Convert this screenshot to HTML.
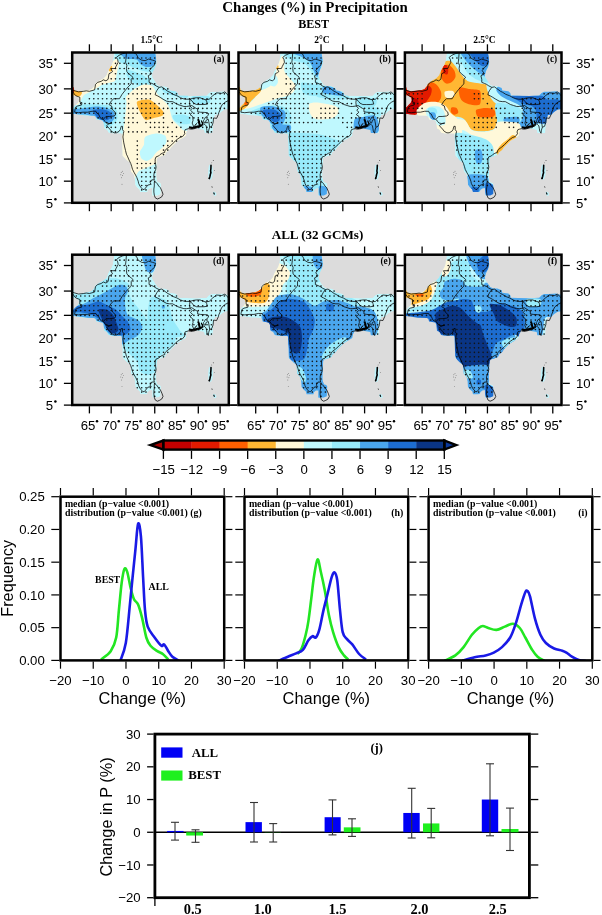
<!DOCTYPE html>
<html><head><meta charset="utf-8"><style>html,body{margin:0;padding:0;background:#fff;width:602px;height:915px;overflow:hidden}svg{display:block;will-change:transform}</style></head>
<body><svg width="602" height="915" viewBox="0 0 602 915">
<rect width="602" height="915" fill="#fff"/>
<text x="315.10" y="11.60" font-size="14.9" font-family="Liberation Serif, serif" font-weight="bold" text-anchor="middle" >Changes (%) in Precipitation</text>
<text x="313.60" y="28.20" font-size="12.1" font-family="Liberation Serif, serif" font-weight="bold" text-anchor="middle" >BEST</text>
<text x="140.40" y="43.00" font-size="9.5" font-family="Liberation Serif, serif" font-weight="bold" text-anchor="start" >1.5°C</text>
<text x="314.30" y="43.00" font-size="9.5" font-family="Liberation Serif, serif" font-weight="bold" text-anchor="start" >2°C</text>
<text x="473.20" y="42.80" font-size="9.5" font-family="Liberation Serif, serif" font-weight="bold" text-anchor="start" >2.5°C</text>
<text x="317.50" y="238.90" font-size="13.1" font-family="Liberation Serif, serif" font-weight="bold" text-anchor="middle" >ALL (32 GCMs)</text>
<g transform="translate(0,0)">
<clipPath id="clip0"><rect x="72.2" y="52.5" width="156.60000000000002" height="150.3"/></clipPath>
<rect x="72.20" y="52.50" width="156.60" height="150.30" fill="#dcdcdc" stroke="none" stroke-width="0" />
<clipPath id="mask0"><polygon points="113.90,47.80 155.40,47.80 155.40,54.10 155.90,57.20 156.50,62.60 155.40,66.80 153.30,71.10 152.20,75.30 152.70,77.40 155.40,81.70 157.50,84.90 160.70,86.20 164.70,86.20 169.00,88.10 169.60,90.50 175.70,91.20 177.60,93.00 178.20,95.50 185.60,95.80 196.60,96.10 206.50,95.50 208.90,93.00 211.40,91.80 216.30,91.80 223.70,91.20 226.10,92.40 233.30,92.40 233.30,108.40 224.90,109.60 221.20,112.10 218.80,114.50 215.10,115.10 213.80,119.40 213.20,125.60 212.60,133.00 204.60,133.00 204.00,129.90 194.20,128.00 189.30,128.00 188.50,127.50 187.70,130.00 186.40,132.40 186.00,135.80 183.50,137.40 177.70,140.80 176.00,142.40 173.50,144.90 171.00,147.40 169.40,149.90 166.10,152.40 165.20,154.90 161.90,156.10 157.80,157.40 156.90,159.00 156.50,165.70 156.20,175.80 156.50,178.80 157.50,182.10 159.90,182.70 160.90,184.10 160.50,194.00 157.50,195.40 152.20,195.40 152.20,188.00 149.60,188.40 147.60,190.00 147.20,192.00 140.30,192.00 139.60,189.40 137.30,187.40 135.30,184.70 134.90,179.40 133.90,174.80 131.00,171.40 130.60,166.80 130.30,162.80 127.20,160.40 122.50,155.70 122.20,145.20 121.80,135.20 121.40,133.50 112.20,133.50 108.50,132.70 106.80,129.80 104.30,128.60 103.50,121.90 102.30,120.30 96.40,119.40 95.60,116.50 93.90,115.70 85.10,115.60 78.90,114.50 73.50,113.70 66.30,113.70 66.30,107.50 73.60,107.50 74.60,106.40 75.90,105.00 78.10,102.80 79.10,100.30 78.60,97.80 76.10,96.10 73.60,95.20 66.30,95.20 66.30,87.00 73.50,87.00 74.40,90.00 77.40,91.20 82.80,90.80 88.90,90.00 91.90,88.90 94.20,86.20 95.70,83.10 98.00,81.60 100.30,80.10 103.40,78.60 106.50,75.30 108.10,71.10 109.70,68.40 111.80,64.70 112.90,61.50 113.40,57.20 113.90,54.10"/></clipPath>
<g clip-path="url(#clip0)">
<g clip-path="url(#mask0)">
<polygon points="113.90,47.80 155.40,47.80 155.40,54.10 155.90,57.20 156.50,62.60 155.40,66.80 153.30,71.10 152.20,75.30 152.70,77.40 155.40,81.70 157.50,84.90 160.70,86.20 164.70,86.20 169.00,88.10 169.60,90.50 175.70,91.20 177.60,93.00 178.20,95.50 185.60,95.80 196.60,96.10 206.50,95.50 208.90,93.00 211.40,91.80 216.30,91.80 223.70,91.20 226.10,92.40 233.30,92.40 233.30,108.40 224.90,109.60 221.20,112.10 218.80,114.50 215.10,115.10 213.80,119.40 213.20,125.60 212.60,133.00 204.60,133.00 204.00,129.90 194.20,128.00 189.30,128.00 188.50,127.50 187.70,130.00 186.40,132.40 186.00,135.80 183.50,137.40 177.70,140.80 176.00,142.40 173.50,144.90 171.00,147.40 169.40,149.90 166.10,152.40 165.20,154.90 161.90,156.10 157.80,157.40 156.90,159.00 156.50,165.70 156.20,175.80 156.50,178.80 157.50,182.10 159.90,182.70 160.90,184.10 160.50,194.00 157.50,195.40 152.20,195.40 152.20,188.00 149.60,188.40 147.60,190.00 147.20,192.00 140.30,192.00 139.60,189.40 137.30,187.40 135.30,184.70 134.90,179.40 133.90,174.80 131.00,171.40 130.60,166.80 130.30,162.80 127.20,160.40 122.50,155.70 122.20,145.20 121.80,135.20 121.40,133.50 112.20,133.50 108.50,132.70 106.80,129.80 104.30,128.60 103.50,121.90 102.30,120.30 96.40,119.40 95.60,116.50 93.90,115.70 85.10,115.60 78.90,114.50 73.50,113.70 66.30,113.70 66.30,107.50 73.60,107.50 74.60,106.40 75.90,105.00 78.10,102.80 79.10,100.30 78.60,97.80 76.10,96.10 73.60,95.20 66.30,95.20 66.30,87.00 73.50,87.00 74.40,90.00 77.40,91.20 82.80,90.80 88.90,90.00 91.90,88.90 94.20,86.20 95.70,83.10 98.00,81.60 100.30,80.10 103.40,78.60 106.50,75.30 108.10,71.10 109.70,68.40 111.80,64.70 112.90,61.50 113.40,57.20 113.90,54.10" fill="#bff8fe"/>
<path d="M115.90,59.00 C117.10,58.73 118.77,61.15 118.90,63.00 C119.03,64.85 117.43,70.51 116.90,72.90 C116.37,75.29 116.10,79.57 114.90,80.90 C113.70,82.23 109.63,82.37 107.90,82.90 C106.17,83.43 103.37,84.23 101.90,84.90 C100.43,85.57 98.50,86.97 96.90,87.90 C95.30,88.83 91.62,90.97 89.90,91.90 C88.18,92.83 85.19,93.83 84.00,94.90 C82.81,95.97 81.80,98.58 81.00,99.90 C80.20,101.22 79.47,104.15 78.00,104.80 C76.53,105.45 71.07,106.65 70.00,104.80 C68.93,102.95 68.40,92.89 70.00,90.90 C71.60,88.91 79.08,90.57 82.00,89.90 C84.92,89.23 89.91,87.10 91.90,85.90 C93.89,84.70 95.17,82.10 96.90,80.90 C98.63,79.70 103.43,78.23 104.90,76.90 C106.37,75.57 107.23,72.49 107.90,70.90 C108.57,69.31 108.83,66.59 109.90,65.00 C110.97,63.41 114.70,59.27 115.90,59.00Z" fill="#fff8d9"/>
<path d="M118.00,52.00 C123.73,51.20 154.40,49.87 160.00,52.00 C165.60,54.13 161.33,65.33 160.00,68.00 C158.67,70.67 152.67,71.73 150.00,72.00 C147.33,72.27 142.67,70.80 140.00,70.00 C137.33,69.20 132.40,66.93 130.00,66.00 C127.60,65.07 123.73,64.07 122.00,63.00 C120.27,61.93 117.53,59.47 117.00,58.00 C116.47,56.53 112.27,52.80 118.00,52.00Z" fill="#98ebfb"/>
<path d="M122.00,52.00 C126.29,51.33 150.99,50.80 155.50,52.00 C160.01,53.20 156.20,59.09 155.80,61.00 C155.40,62.91 153.82,65.50 152.50,66.30 C151.18,67.10 147.49,67.27 145.90,67.00 C144.31,66.73 141.84,65.29 140.60,64.30 C139.36,63.31 138.37,60.31 136.60,59.60 C134.83,58.89 129.07,59.35 127.30,59.00 C125.53,58.65 124.01,57.93 123.30,57.00 C122.59,56.07 117.71,52.67 122.00,52.00Z" fill="#4aa6ee"/>
<path d="M128.00,70.00 C129.73,69.73 137.07,72.67 140.00,74.00 C142.93,75.33 148.93,78.40 150.00,80.00 C151.07,81.60 149.33,85.20 148.00,86.00 C146.67,86.80 142.13,86.53 140.00,86.00 C137.87,85.47 133.73,83.33 132.00,82.00 C130.27,80.67 127.53,77.60 127.00,76.00 C126.47,74.40 126.27,70.27 128.00,70.00Z" fill="#98ebfb"/>
<path d="M126.00,96.90 C126.45,95.51 128.49,94.14 129.90,92.90 C131.31,91.66 134.64,88.76 136.60,87.60 C138.56,86.44 142.48,84.39 144.60,84.20 C146.72,84.01 150.90,85.04 152.50,86.20 C154.10,87.36 155.33,91.19 156.60,92.90 C157.87,94.61 160.40,97.23 162.00,99.00 C163.60,100.77 167.19,103.48 168.60,106.20 C170.01,108.92 171.35,116.89 172.60,119.40 C173.85,121.91 176.61,123.59 178.00,125.00 C179.39,126.41 181.13,128.80 183.00,130.00 C184.87,131.20 191.07,131.33 192.00,134.00 C192.93,136.67 192.93,144.53 190.00,150.00 C187.07,155.47 174.00,168.60 170.00,175.00 C166.00,181.40 165.33,194.93 160.00,198.00 C154.67,201.07 136.00,204.40 130.00,198.00 C124.00,191.60 116.00,158.55 115.00,150.00 C114.00,141.45 121.33,136.94 122.50,133.90 C123.67,130.86 123.44,129.51 123.80,127.20 C124.16,124.89 124.84,119.79 125.20,116.60 C125.56,113.41 126.39,105.93 126.50,103.30 C126.61,100.67 125.55,98.29 126.00,96.90Z" fill="#fff8d9"/>
<path d="M137.20,101.50 C138.52,100.26 146.10,99.23 148.50,99.50 C150.90,99.77 153.24,101.90 155.20,103.50 C157.16,105.10 162.23,109.90 163.20,111.50 C164.17,113.10 163.74,114.62 162.50,115.50 C161.26,116.38 156.11,117.49 153.90,118.10 C151.69,118.71 147.50,120.45 145.90,120.10 C144.30,119.75 142.87,117.01 141.90,115.50 C140.93,113.99 139.23,110.67 138.60,108.80 C137.97,106.93 135.88,102.74 137.20,101.50Z" fill="#ffb733"/>
<path d="M145.20,137.00 C146.79,135.49 153.15,133.79 155.80,133.60 C158.45,133.41 163.69,134.44 165.10,135.60 C166.51,136.76 166.75,140.70 166.40,142.30 C166.05,143.90 163.91,146.19 162.50,147.60 C161.09,149.01 157.23,151.49 155.80,152.90 C154.37,154.31 153.04,157.13 151.80,158.20 C150.56,159.27 147.91,160.90 146.50,160.90 C145.09,160.90 142.08,159.44 141.20,158.20 C140.32,156.96 139.54,153.37 139.90,151.60 C140.26,149.83 143.19,146.85 143.90,144.90 C144.61,142.95 143.61,138.51 145.20,137.00Z" fill="#bff8fe"/>
<path d="M138.50,171.50 C139.82,169.91 141.94,169.78 143.90,168.90 C145.86,168.02 151.32,165.29 153.20,164.90 C155.08,164.51 157.09,161.99 158.00,166.00 C158.91,170.01 163.47,191.13 160.00,195.00 C156.53,198.87 135.47,196.89 132.00,195.00 C128.53,193.11 133.13,183.93 134.00,180.80 C134.87,177.67 137.18,173.09 138.50,171.50Z" fill="#bff8fe"/>
<path d="M162.00,88.00 C163.33,87.73 171.53,90.07 175.00,91.00 C178.47,91.93 186.53,94.07 188.00,95.00 C189.47,95.93 187.73,97.87 186.00,98.00 C184.27,98.13 177.80,96.67 175.00,96.00 C172.20,95.33 166.73,94.07 165.00,93.00 C163.27,91.93 160.67,88.27 162.00,88.00Z" fill="#98ebfb"/>
<path d="M192.60,96.30 C194.76,95.37 206.64,95.37 208.80,96.30 C210.96,97.23 210.96,102.37 208.80,103.30 C206.64,104.23 194.76,104.23 192.60,103.30 C190.44,102.37 190.44,97.23 192.60,96.30Z" fill="#98ebfb"/>
<path d="M172.60,115.50 C173.53,114.63 179.68,114.30 182.00,114.50 C184.32,114.70 188.95,115.81 190.00,117.00 C191.05,118.19 190.97,122.47 189.90,123.40 C188.83,124.33 183.99,124.32 182.00,124.00 C180.01,123.68 176.25,122.13 175.00,121.00 C173.75,119.87 171.67,116.37 172.60,115.50Z" fill="#98ebfb"/>
<path d="M70.00,106.60 C72.04,105.07 81.49,104.69 85.30,104.40 C89.11,104.11 95.32,104.23 98.60,104.40 C101.88,104.57 107.51,104.97 109.90,105.70 C112.29,106.43 115.53,108.10 116.50,109.90 C117.47,111.70 117.73,117.21 117.20,119.20 C116.67,121.19 113.83,123.64 112.50,124.80 C111.17,125.96 108.35,127.75 107.20,127.90 C106.05,128.05 105.05,126.79 103.90,125.90 C102.75,125.01 101.08,122.44 98.60,121.20 C96.12,119.96 89.11,117.31 85.30,116.60 C81.49,115.89 72.04,117.23 70.00,115.90 C67.96,114.57 67.96,108.13 70.00,106.60Z" fill="#98ebfb"/>
<path d="M70.00,109.90 C72.04,109.01 81.85,108.34 85.30,107.90 C88.75,107.46 93.06,106.60 95.90,106.60 C98.74,106.60 104.20,107.19 106.60,107.90 C109.00,108.61 112.85,110.57 113.90,111.90 C114.95,113.23 114.95,116.47 114.50,117.90 C114.05,119.33 111.74,121.97 110.50,122.60 C109.26,123.23 106.61,122.96 105.20,122.60 C103.79,122.24 101.31,120.62 99.90,119.90 C98.49,119.18 96.55,117.91 94.60,117.20 C92.65,116.49 88.58,114.95 85.30,114.60 C82.02,114.25 72.04,115.23 70.00,114.60 C67.96,113.97 67.96,110.79 70.00,109.90Z" fill="#4aa6ee"/>
<path d="M93.30,109.90 C94.37,109.29 100.39,109.03 102.60,109.30 C104.81,109.57 108.66,111.02 109.90,111.90 C111.14,112.78 112.17,114.83 111.90,115.90 C111.63,116.97 109.14,119.37 107.90,119.90 C106.66,120.43 103.93,120.17 102.60,119.90 C101.27,119.63 98.97,118.70 97.90,117.90 C96.83,117.10 95.21,114.97 94.60,113.90 C93.99,112.83 92.23,110.51 93.30,109.90Z" fill="#1d6dd0"/>
<path d="M108.90,66.00 C109.30,65.33 111.50,65.33 111.90,66.00 C112.30,66.67 112.30,70.33 111.90,71.00 C111.50,71.67 109.30,71.67 108.90,71.00 C108.50,70.33 108.50,66.67 108.90,66.00Z" fill="#ffb733"/>
<path d="M72.00,90.00 C72.80,89.47 76.67,90.67 78.00,91.00 C79.33,91.33 81.73,91.83 82.00,92.50 C82.27,93.17 80.93,95.53 80.00,96.00 C79.07,96.47 76.07,96.13 75.00,96.00 C73.93,95.87 72.40,95.80 72.00,95.00 C71.60,94.20 71.20,90.53 72.00,90.00Z" fill="#ffb733"/>
<path d="M71.00,86.50 C71.40,85.83 73.60,86.27 74.00,87.00 C74.40,87.73 74.40,91.33 74.00,92.00 C73.60,92.67 71.40,92.73 71.00,92.00 C70.60,91.27 70.60,87.17 71.00,86.50Z" fill="#e31a00"/>
</g>
<path d="M76.3,113.2h0M76.3,108.4h0M80.7,113.2h0M80.7,108.4h0M80.7,103.6h0M85.0,113.2h0M85.0,108.4h0M85.0,103.6h0M89.4,113.2h0M89.4,108.4h0M89.4,103.6h0M89.4,98.7h0M93.8,113.2h0M93.8,108.4h0M93.8,103.6h0M93.8,98.7h0M93.8,93.8h0M98.1,117.9h0M98.1,113.2h0M98.1,108.4h0M98.1,103.6h0M98.1,98.7h0M98.1,93.8h0M98.1,88.9h0M102.5,117.9h0M102.5,113.2h0M102.5,108.4h0M102.5,103.6h0M102.5,98.7h0M102.5,93.8h0M102.5,88.9h0M102.5,83.9h0M106.8,127.3h0M106.8,122.6h0M106.8,117.9h0M106.8,113.2h0M106.8,108.4h0M106.8,103.6h0M106.8,98.7h0M106.8,93.8h0M106.8,88.9h0M106.8,83.9h0M111.2,131.9h0M111.2,127.3h0M111.2,122.6h0M111.2,117.9h0M111.2,113.2h0M111.2,108.4h0M111.2,103.6h0M111.2,98.7h0M111.2,93.8h0M111.2,88.9h0M111.2,83.9h0M111.2,78.8h0M115.5,131.9h0M115.5,127.3h0M115.5,122.6h0M115.5,117.9h0M115.5,113.2h0M115.5,108.4h0M115.5,103.6h0M115.5,98.7h0M115.5,93.8h0M115.5,88.9h0M115.5,83.9h0M115.5,78.8h0M115.5,73.7h0M115.5,68.5h0M115.5,63.3h0M115.5,58.0h0M119.9,122.6h0M119.9,113.2h0M119.9,108.4h0M119.9,103.6h0M119.9,88.9h0M119.9,83.9h0M119.9,78.8h0M119.9,73.7h0M119.9,68.5h0M119.9,63.3h0M119.9,58.0h0M124.2,122.6h0M124.2,117.9h0M124.2,113.2h0M124.2,108.4h0M124.2,103.6h0M124.2,98.7h0M124.2,88.9h0M124.2,83.9h0M124.2,78.8h0M124.2,73.7h0M124.2,68.5h0M124.2,63.3h0M124.2,58.0h0M128.6,131.9h0M128.6,127.3h0M128.6,122.6h0M128.6,117.9h0M128.6,113.2h0M128.6,108.4h0M128.6,103.6h0M128.6,98.7h0M128.6,93.8h0M128.6,88.9h0M128.6,83.9h0M128.6,78.8h0M128.6,73.7h0M128.6,68.5h0M128.6,63.3h0M128.6,58.0h0M133.0,131.9h0M133.0,122.6h0M133.0,117.9h0M133.0,113.2h0M133.0,108.4h0M133.0,93.8h0M133.0,88.9h0M133.0,83.9h0M133.0,78.8h0M133.0,73.7h0M133.0,68.5h0M133.0,63.3h0M133.0,58.0h0M137.3,168.0h0M137.3,163.5h0M137.3,159.1h0M137.3,154.6h0M137.3,150.1h0M137.3,145.6h0M137.3,141.1h0M137.3,131.9h0M137.3,122.6h0M137.3,113.2h0M137.3,108.4h0M137.3,98.7h0M137.3,93.8h0M137.3,88.9h0M137.3,83.9h0M137.3,78.8h0M137.3,73.7h0M137.3,68.5h0M137.3,63.3h0M137.3,58.0h0M141.7,189.9h0M141.7,185.5h0M141.7,181.2h0M141.7,176.8h0M141.7,172.4h0M141.7,168.0h0M141.7,163.5h0M141.7,131.9h0M141.7,113.2h0M141.7,108.4h0M141.7,103.6h0M141.7,98.7h0M141.7,93.8h0M141.7,88.9h0M141.7,83.9h0M141.7,78.8h0M141.7,73.7h0M141.7,68.5h0M141.7,63.3h0M141.7,58.0h0M146.0,189.9h0M146.0,185.5h0M146.0,181.2h0M146.0,176.8h0M146.0,172.4h0M146.0,168.0h0M146.0,163.5h0M146.0,131.9h0M146.0,122.6h0M146.0,117.9h0M146.0,113.2h0M146.0,108.4h0M146.0,103.6h0M146.0,98.7h0M146.0,93.8h0M146.0,88.9h0M146.0,83.9h0M146.0,78.8h0M146.0,73.7h0M146.0,68.5h0M146.0,63.3h0M146.0,58.0h0M150.4,181.2h0M150.4,176.8h0M150.4,172.4h0M150.4,168.0h0M150.4,163.5h0M150.4,127.3h0M150.4,122.6h0M150.4,117.9h0M150.4,113.2h0M150.4,108.4h0M150.4,103.6h0M150.4,98.7h0M150.4,93.8h0M150.4,88.9h0M150.4,83.9h0M150.4,78.8h0M150.4,73.7h0M150.4,68.5h0M150.4,63.3h0M150.4,58.0h0M154.7,181.2h0M154.7,176.8h0M154.7,172.4h0M154.7,168.0h0M154.7,163.5h0M154.7,127.3h0M154.7,122.6h0M154.7,113.2h0M154.7,108.4h0M154.7,103.6h0M154.7,83.9h0M154.7,63.3h0M154.7,58.0h0M159.1,131.9h0M159.1,127.3h0M159.1,122.6h0M159.1,113.2h0M159.1,108.4h0M159.1,103.6h0M163.5,154.6h0M163.5,150.1h0M163.5,145.6h0M163.5,131.9h0M163.5,127.3h0M163.5,122.6h0M163.5,117.9h0M163.5,113.2h0M163.5,108.4h0M163.5,93.8h0M163.5,88.9h0M167.8,150.1h0M167.8,145.6h0M167.8,141.1h0M167.8,131.9h0M167.8,127.3h0M167.8,108.4h0M167.8,103.6h0M167.8,98.7h0M167.8,93.8h0M167.8,88.9h0M172.2,141.1h0M172.2,136.5h0M172.2,131.9h0M172.2,122.6h0M172.2,108.4h0M172.2,103.6h0M172.2,98.7h0M172.2,93.8h0M176.5,141.1h0M176.5,136.5h0M176.5,127.3h0M176.5,113.2h0M176.5,108.4h0M176.5,103.6h0M176.5,98.7h0M176.5,93.8h0M180.9,136.5h0M180.9,127.3h0M180.9,122.6h0M180.9,113.2h0M180.9,108.4h0M180.9,103.6h0M180.9,98.7h0M185.2,113.2h0M185.2,108.4h0M185.2,103.6h0M185.2,98.7h0M189.6,117.9h0M189.6,113.2h0M189.6,108.4h0M189.6,103.6h0M189.6,98.7h0M193.9,117.9h0M193.9,113.2h0M193.9,108.4h0M193.9,103.6h0M193.9,98.7h0M198.3,127.3h0M198.3,122.6h0M198.3,117.9h0M198.3,113.2h0M198.3,108.4h0M198.3,103.6h0M198.3,98.7h0M202.7,127.3h0M202.7,122.6h0M202.7,117.9h0M202.7,113.2h0M202.7,108.4h0M202.7,103.6h0M202.7,98.7h0M207.0,131.9h0M207.0,127.3h0M207.0,122.6h0M207.0,117.9h0M207.0,113.2h0M207.0,108.4h0M207.0,103.6h0M207.0,98.7h0M211.4,131.9h0M211.4,127.3h0M211.4,122.6h0M211.4,117.9h0M211.4,113.2h0M211.4,108.4h0M211.4,103.6h0M211.4,98.7h0M211.4,93.8h0M215.7,113.2h0M215.7,108.4h0M215.7,103.6h0M215.7,98.7h0M215.7,93.8h0M220.1,108.4h0M220.1,103.6h0M220.1,98.7h0M220.1,93.8h0M224.4,108.4h0M224.4,103.6h0M224.4,98.7h0M224.4,93.8h0" stroke="#151515" stroke-width="1.65" stroke-linecap="round" fill="none"/>
<polyline points="74.59,112.21 78.51,112.69 82.87,112.21 87.66,112.21 92.01,111.26 95.93,111.26 96.81,113.16 98.55,114.11 99.42,116.01 100.29,117.90 101.60,118.84 102.90,119.31 103.77,119.78 105.08,121.66 106.39,123.07 109.00,123.53 112.05,123.07 109.87,123.53 107.70,124.47 106.82,125.40 107.70,126.80 109.87,129.12 111.62,131.43 114.23,132.82 116.41,132.82 119.02,131.43 120.33,129.58 121.20,126.33 122.51,126.33 122.51,129.58 123.81,131.43 123.38,133.74 122.94,136.95 123.38,140.15 123.81,142.89 124.68,146.97 125.55,150.58 126.43,154.18 127.73,156.86 129.04,159.99 130.78,163.55 131.65,166.21 132.52,169.30 134.27,172.83 135.57,175.03 136.88,177.67 138.19,181.17 138.62,183.36 139.93,185.98 141.24,187.72 142.98,189.46 144.29,189.46 146.46,186.85 147.77,185.11 151.26,184.23 149.95,182.92 151.69,179.86 154.30,179.86 153.87,177.23 153.87,174.59 154.30,172.39 155.61,169.75 156.05,167.09 155.61,164.43 155.18,161.77 155.18,159.10 156.05,156.86 158.66,155.97 159.97,154.62 162.15,153.28 164.76,152.38 164.76,151.03 166.07,149.23 169.11,146.97 171.73,144.70 173.47,142.89 175.65,140.61 177.39,139.24 180.00,137.41 182.62,136.50 184.80,133.74 184.36,131.89 185.23,129.58 186.97,129.12 188.72,128.66 190.46,129.12 192.20,129.12 194.38,128.66 197.43,127.73 199.61,127.73 200.91,125.87 202.66,123.53 204.83,124.47 206.14,125.87 206.58,128.19 207.01,130.97 208.32,133.28" fill="none" stroke="#000" stroke-width="0.75" stroke-linejoin="round"/>
<polyline points="74.59,112.21 75.46,107.43 77.64,105.99 81.56,105.02 81.99,102.61 79.82,102.12 79.82,97.25 75.90,95.78 74.15,93.81 71.54,89.86 78.51,91.84 83.30,91.34 86.35,90.85 89.40,91.34 94.63,89.86 95.50,84.36 97.68,82.35 101.16,81.34 103.34,79.82 105.95,80.83 108.13,79.31 109.00,73.70 111.18,72.67 112.49,71.64 110.74,68.53 115.10,68.53 115.97,66.44 118.15,62.25 117.71,59.60 116.41,57.47 119.02,55.33 122.51,53.72 126.43,52.65 130.78,52.11 133.83,52.65" fill="none" stroke="#000" stroke-width="0.75" stroke-linejoin="round"/>
<polyline points="133.83,52.65 136.44,54.26 138.19,58.01 141.67,60.13 145.16,60.66 148.64,59.07 152.56,60.13 155.61,61.19 154.30,65.40 151.69,67.49 149.51,70.60 151.69,73.70 148.21,75.75 149.08,79.31 149.08,82.35 151.69,83.36 153.87,84.36 156.05,85.87 159.10,87.37 161.71,86.87 163.89,88.36 167.81,91.34 169.99,92.33 173.04,94.31 176.96,95.78 180.44,97.74 183.05,98.72 186.10,99.20 190.02,99.20 193.07,98.23 196.56,97.74 200.04,97.74 203.53,99.20 205.71,99.69 209.19,99.20 212.67,95.78 216.60,92.83 221.82,93.32 224.87,91.84 227.05,94.31 230.10,97.25 230.53,99.20 229.23,100.18 225.31,102.12 222.26,104.54 220.95,106.95 220.08,109.83 218.77,112.69 218.34,114.59 216.60,118.37 213.55,117.90 213.11,122.60 211.80,126.33 209.63,127.26 208.75,130.05 208.32,133.28" fill="none" stroke="#000" stroke-width="0.75" stroke-linejoin="round"/>
<polyline points="103.34,119.31 105.95,116.48 109.44,116.48 113.79,116.01 115.54,115.06 115.10,112.21 112.49,109.83 111.62,105.99 109.00,104.54 111.18,101.15 113.79,98.72 119.46,98.72 122.07,94.31 125.99,89.36 128.17,86.87 131.22,83.86 131.22,79.31 132.96,77.28 131.22,75.75 128.60,73.70 126.86,71.64 126.43,68.53 126.86,65.40 125.55,62.25 125.99,58.54 126.43,52.65" fill="none" stroke="#000" stroke-width="0.75" stroke-linejoin="round"/>
<polyline points="155.18,94.80 157.35,95.78 159.97,97.25 163.02,99.20 166.50,101.15 169.55,101.64 172.60,101.64 175.21,103.09 177.83,104.54 180.88,105.51 183.93,106.47 186.54,106.47 190.02,105.99 189.59,102.61 190.02,99.20" fill="none" stroke="#000" stroke-width="0.75" stroke-linejoin="round"/>
<polyline points="159.10,87.37 156.92,90.35 155.61,92.83 155.18,94.80" fill="none" stroke="#000" stroke-width="0.75" stroke-linejoin="round"/>
<polyline points="190.02,99.20 193.07,102.12 193.51,103.09" fill="none" stroke="#000" stroke-width="0.75" stroke-linejoin="round"/>
<polyline points="193.51,103.09 196.56,104.54 200.04,104.54 203.96,104.54 207.45,104.06 206.58,101.15 205.71,99.69" fill="none" stroke="#000" stroke-width="0.75" stroke-linejoin="round"/>
<polyline points="190.02,105.99 191.77,105.51 193.94,106.95 196.12,108.39 197.65,108.87 197.65,111.74 200.48,112.21 204.83,112.45 207.01,112.69 208.75,113.64 207.88,115.54 206.58,116.96 205.27,117.43 204.40,119.31 203.53,120.25 203.96,122.60 205.27,123.07 206.14,120.25 207.01,119.78 208.32,119.31 208.75,121.66 209.19,124.00 209.63,127.26" fill="none" stroke="#000" stroke-width="0.75" stroke-linejoin="round"/>
<polyline points="190.02,105.99 192.20,108.39 190.46,110.30 192.64,112.21 190.02,114.59 192.64,116.48 193.07,120.25 192.20,123.07 193.94,127.26 194.38,128.66" fill="none" stroke="#000" stroke-width="0.75" stroke-linejoin="round"/>
<polyline points="154.30,182.05 155.61,182.05 157.35,183.80 158.66,185.98 160.40,187.72 162.15,191.64 163.02,194.25 161.71,196.85 159.53,198.15 157.35,199.02 155.18,197.72 154.30,195.11 153.87,192.07 153.87,189.03 154.30,185.98 154.30,182.05" fill="none" stroke="#000" stroke-width="0.75" stroke-linejoin="round"/>
<polyline points="189,127.3 192,127.9 195,127.2 197.5,126.6 200,126 202,125.2" fill="none" stroke="#000" stroke-width="2.1" stroke-linejoin="round"/>
<polyline points="198,119.2 199,121.5 199.4,124 200.3,126.2" fill="none" stroke="#000" stroke-width="2.0"/>
<polyline points="201.3,120.6 202.3,123 202.8,125.6" fill="none" stroke="#000" stroke-width="1.2"/>
<polyline points="194.5,126.5 195.5,124.5 197,123.5" fill="none" stroke="#000" stroke-width="1.0"/>
<path d="M209.9,164.6 C212,164.2 213.2,168 213,172 C212.8,176 212,179.6 210.2,179.8 C208.4,179.8 208,176 208.2,172 C208.4,168 208.8,165 209.9,164.6Z" fill="#bdf3fb"/>
<polyline points="211,165.3 210.9,168.5 210.6,171 210.9,172.8 210.3,174.5 209.9,176.5 209.4,178.4" fill="none" stroke="#000" stroke-width="1.6" stroke-linecap="round"/>
<circle cx="209.3" cy="178.4" r="0.8" fill="#000"/>
<path d="M213.4,191.8 C215,191.6 216.6,193 216.4,194.6 C216.2,196 214.6,196.2 213.8,195.2 C213,194.2 212.6,192.2 213.4,191.8Z" fill="#bdf3fb"/>
<polyline points="213.6,192.6 214.5,194.6" fill="none" stroke="#000" stroke-width="1.1"/>
<polyline points="211.8,186.2 212.3,187.8" fill="none" stroke="#333" stroke-width="0.7"/>
<circle cx="213.3" cy="160.5" r="0.5" fill="#444"/><circle cx="211.8" cy="162.8" r="0.4" fill="#444"/><circle cx="214.3" cy="170.5" r="0.4" fill="#444"/>
<circle cx="121.2" cy="172.5" r="0.45" fill="#555"/>
<circle cx="122.3" cy="171.2" r="0.45" fill="#555"/>
<circle cx="120.8" cy="174.8" r="0.45" fill="#555"/>
<circle cx="122.6" cy="175.5" r="0.45" fill="#555"/>
<circle cx="123.4" cy="173.4" r="0.45" fill="#555"/>
<circle cx="121.5" cy="177.8" r="0.45" fill="#555"/>
<circle cx="122" cy="184.2" r="0.45" fill="#555"/>
</g>
<rect x="72.20" y="52.50" width="156.60" height="150.30" fill="none" stroke="#000" stroke-width="2.5" />
<line x1="89.40" y1="51.30" x2="89.40" y2="44.30" stroke="#000" stroke-width="1.3"/>
<line x1="89.40" y1="204.00" x2="89.40" y2="211.20" stroke="#000" stroke-width="1.3"/>
<line x1="111.18" y1="51.30" x2="111.18" y2="44.30" stroke="#000" stroke-width="1.3"/>
<line x1="111.18" y1="204.00" x2="111.18" y2="211.20" stroke="#000" stroke-width="1.3"/>
<line x1="132.96" y1="51.30" x2="132.96" y2="44.30" stroke="#000" stroke-width="1.3"/>
<line x1="132.96" y1="204.00" x2="132.96" y2="211.20" stroke="#000" stroke-width="1.3"/>
<line x1="154.74" y1="51.30" x2="154.74" y2="44.30" stroke="#000" stroke-width="1.3"/>
<line x1="154.74" y1="204.00" x2="154.74" y2="211.20" stroke="#000" stroke-width="1.3"/>
<line x1="176.52" y1="51.30" x2="176.52" y2="44.30" stroke="#000" stroke-width="1.3"/>
<line x1="176.52" y1="204.00" x2="176.52" y2="211.20" stroke="#000" stroke-width="1.3"/>
<line x1="198.30" y1="51.30" x2="198.30" y2="44.30" stroke="#000" stroke-width="1.3"/>
<line x1="198.30" y1="204.00" x2="198.30" y2="211.20" stroke="#000" stroke-width="1.3"/>
<line x1="220.08" y1="51.30" x2="220.08" y2="44.30" stroke="#000" stroke-width="1.3"/>
<line x1="220.08" y1="204.00" x2="220.08" y2="211.20" stroke="#000" stroke-width="1.3"/>
<line x1="71.00" y1="63.30" x2="63.90" y2="63.30" stroke="#000" stroke-width="1.3"/>
<line x1="230.00" y1="63.30" x2="237.10" y2="63.30" stroke="#000" stroke-width="1.3"/>
<line x1="71.00" y1="88.86" x2="63.90" y2="88.86" stroke="#000" stroke-width="1.3"/>
<line x1="230.00" y1="88.86" x2="237.10" y2="88.86" stroke="#000" stroke-width="1.3"/>
<line x1="71.00" y1="113.16" x2="63.90" y2="113.16" stroke="#000" stroke-width="1.3"/>
<line x1="230.00" y1="113.16" x2="237.10" y2="113.16" stroke="#000" stroke-width="1.3"/>
<line x1="71.00" y1="136.50" x2="63.90" y2="136.50" stroke="#000" stroke-width="1.3"/>
<line x1="230.00" y1="136.50" x2="237.10" y2="136.50" stroke="#000" stroke-width="1.3"/>
<line x1="71.00" y1="159.10" x2="63.90" y2="159.10" stroke="#000" stroke-width="1.3"/>
<line x1="230.00" y1="159.10" x2="237.10" y2="159.10" stroke="#000" stroke-width="1.3"/>
<line x1="71.00" y1="181.17" x2="63.90" y2="181.17" stroke="#000" stroke-width="1.3"/>
<line x1="230.00" y1="181.17" x2="237.10" y2="181.17" stroke="#000" stroke-width="1.3"/>
<line x1="71.00" y1="202.91" x2="63.90" y2="202.91" stroke="#000" stroke-width="1.3"/>
<line x1="230.00" y1="202.91" x2="237.10" y2="202.91" stroke="#000" stroke-width="1.3"/>
<text x="224.50" y="61.80" font-size="9.4" font-family="Liberation Serif, serif" font-weight="bold" text-anchor="end" >(a)</text>
</g>
<g transform="translate(166.3,0)">
<clipPath id="clip1"><rect x="72.2" y="52.5" width="156.60000000000002" height="150.3"/></clipPath>
<rect x="72.20" y="52.50" width="156.60" height="150.30" fill="#dcdcdc" stroke="none" stroke-width="0" />
<clipPath id="mask1"><polygon points="113.90,47.80 155.40,47.80 155.40,54.10 155.90,57.20 156.50,62.60 155.40,66.80 153.30,71.10 152.20,75.30 152.70,77.40 155.40,81.70 157.50,84.90 160.70,86.20 164.70,86.20 169.00,88.10 169.60,90.50 175.70,91.20 177.60,93.00 178.20,95.50 185.60,95.80 196.60,96.10 206.50,95.50 208.90,93.00 211.40,91.80 216.30,91.80 223.70,91.20 226.10,92.40 233.30,92.40 233.30,108.40 224.90,109.60 221.20,112.10 218.80,114.50 215.10,115.10 213.80,119.40 213.20,125.60 212.60,133.00 204.60,133.00 204.00,129.90 194.20,128.00 189.30,128.00 188.50,127.50 187.70,130.00 186.40,132.40 186.00,135.80 183.50,137.40 177.70,140.80 176.00,142.40 173.50,144.90 171.00,147.40 169.40,149.90 166.10,152.40 165.20,154.90 161.90,156.10 157.80,157.40 156.90,159.00 156.50,165.70 156.20,175.80 156.50,178.80 157.50,182.10 159.90,182.70 160.90,184.10 160.50,194.00 157.50,195.40 152.20,195.40 152.20,188.00 149.60,188.40 147.60,190.00 147.20,192.00 140.30,192.00 139.60,189.40 137.30,187.40 135.30,184.70 134.90,179.40 133.90,174.80 131.00,171.40 130.60,166.80 130.30,162.80 127.20,160.40 122.50,155.70 122.20,145.20 121.80,135.20 121.40,133.50 112.20,133.50 108.50,132.70 106.80,129.80 104.30,128.60 103.50,121.90 102.30,120.30 96.40,119.40 95.60,116.50 93.90,115.70 85.10,115.60 78.90,114.50 73.50,113.70 66.30,113.70 66.30,107.50 73.60,107.50 74.60,106.40 75.90,105.00 78.10,102.80 79.10,100.30 78.60,97.80 76.10,96.10 73.60,95.20 66.30,95.20 66.30,87.00 73.50,87.00 74.40,90.00 77.40,91.20 82.80,90.80 88.90,90.00 91.90,88.90 94.20,86.20 95.70,83.10 98.00,81.60 100.30,80.10 103.40,78.60 106.50,75.30 108.10,71.10 109.70,68.40 111.80,64.70 112.90,61.50 113.40,57.20 113.90,54.10"/></clipPath>
<g clip-path="url(#clip1)">
<g clip-path="url(#mask1)">
<polygon points="113.90,47.80 155.40,47.80 155.40,54.10 155.90,57.20 156.50,62.60 155.40,66.80 153.30,71.10 152.20,75.30 152.70,77.40 155.40,81.70 157.50,84.90 160.70,86.20 164.70,86.20 169.00,88.10 169.60,90.50 175.70,91.20 177.60,93.00 178.20,95.50 185.60,95.80 196.60,96.10 206.50,95.50 208.90,93.00 211.40,91.80 216.30,91.80 223.70,91.20 226.10,92.40 233.30,92.40 233.30,108.40 224.90,109.60 221.20,112.10 218.80,114.50 215.10,115.10 213.80,119.40 213.20,125.60 212.60,133.00 204.60,133.00 204.00,129.90 194.20,128.00 189.30,128.00 188.50,127.50 187.70,130.00 186.40,132.40 186.00,135.80 183.50,137.40 177.70,140.80 176.00,142.40 173.50,144.90 171.00,147.40 169.40,149.90 166.10,152.40 165.20,154.90 161.90,156.10 157.80,157.40 156.90,159.00 156.50,165.70 156.20,175.80 156.50,178.80 157.50,182.10 159.90,182.70 160.90,184.10 160.50,194.00 157.50,195.40 152.20,195.40 152.20,188.00 149.60,188.40 147.60,190.00 147.20,192.00 140.30,192.00 139.60,189.40 137.30,187.40 135.30,184.70 134.90,179.40 133.90,174.80 131.00,171.40 130.60,166.80 130.30,162.80 127.20,160.40 122.50,155.70 122.20,145.20 121.80,135.20 121.40,133.50 112.20,133.50 108.50,132.70 106.80,129.80 104.30,128.60 103.50,121.90 102.30,120.30 96.40,119.40 95.60,116.50 93.90,115.70 85.10,115.60 78.90,114.50 73.50,113.70 66.30,113.70 66.30,107.50 73.60,107.50 74.60,106.40 75.90,105.00 78.10,102.80 79.10,100.30 78.60,97.80 76.10,96.10 73.60,95.20 66.30,95.20 66.30,87.00 73.50,87.00 74.40,90.00 77.40,91.20 82.80,90.80 88.90,90.00 91.90,88.90 94.20,86.20 95.70,83.10 98.00,81.60 100.30,80.10 103.40,78.60 106.50,75.30 108.10,71.10 109.70,68.40 111.80,64.70 112.90,61.50 113.40,57.20 113.90,54.10" fill="#bff8fe"/>
<path d="M115.60,55.70 C116.48,55.17 117.85,58.88 118.20,61.00 C118.55,63.12 117.49,69.31 118.20,71.60 C118.91,73.89 122.09,76.43 123.50,78.20 C124.91,79.97 128.27,83.13 128.80,84.90 C129.33,86.67 128.38,90.09 127.50,91.50 C126.62,92.91 124.32,94.61 122.20,95.50 C120.08,96.39 113.91,97.49 111.60,98.20 C109.29,98.91 106.85,100.09 104.90,100.80 C102.95,101.51 99.12,102.78 97.00,103.50 C94.88,104.22 91.31,105.49 89.00,106.20 C86.69,106.91 82.23,108.43 79.70,108.80 C77.17,109.17 71.29,109.64 70.00,109.00 C68.71,108.36 69.24,104.29 70.00,104.00 C70.76,103.71 73.53,107.23 75.70,106.80 C77.87,106.37 83.99,102.84 86.30,100.80 C88.61,98.76 91.40,93.09 93.00,91.50 C94.60,89.91 96.89,89.61 98.30,88.90 C99.71,88.19 102.36,87.44 103.60,86.20 C104.84,84.96 106.72,81.72 107.60,79.60 C108.48,77.48 109.67,72.25 110.20,70.30 C110.73,68.35 110.88,66.95 111.60,65.00 C112.32,63.05 114.72,56.23 115.60,55.70Z" fill="#fff8d9"/>
<path d="M103.60,75.60 C104.57,74.99 109.13,75.42 110.20,76.30 C111.27,77.18 111.77,80.88 111.60,82.20 C111.43,83.52 109.87,85.75 108.90,86.20 C107.93,86.65 105.10,86.31 104.30,85.60 C103.50,84.89 102.99,82.23 102.90,80.90 C102.81,79.57 102.63,76.21 103.60,75.60Z" fill="#bff8fe"/>
<path d="M70.00,86.00 C71.29,83.45 77.35,90.34 79.70,90.90 C82.05,91.46 85.75,90.64 87.60,90.20 C89.45,89.76 92.71,87.43 93.60,87.60 C94.49,87.77 94.91,90.26 94.30,91.50 C93.69,92.74 90.24,95.66 89.00,96.90 C87.76,98.14 86.07,99.56 85.00,100.80 C83.93,102.04 82.24,104.96 81.00,106.20 C79.76,107.44 77.17,109.59 75.70,110.10 C74.23,110.61 70.76,113.21 70.00,110.00 C69.24,106.79 68.71,88.55 70.00,86.00Z" fill="#ffb733"/>
<path d="M78.30,102.20 C78.66,101.85 80.64,101.85 81.00,102.20 C81.36,102.55 81.36,104.45 81.00,104.80 C80.64,105.15 78.66,105.15 78.30,104.80 C77.94,104.45 77.94,102.55 78.30,102.20Z" fill="#ff6000"/>
<path d="M109.80,65.60 C110.09,65.15 111.71,65.15 112.00,65.60 C112.29,66.05 112.29,68.55 112.00,69.00 C111.71,69.45 110.09,69.45 109.80,69.00 C109.51,68.55 109.51,66.05 109.80,65.60Z" fill="#ffb733"/>
<path d="M119.50,53.00 C124.27,52.29 152.87,51.40 158.00,53.00 C163.13,54.60 158.40,62.07 158.00,65.00 C157.60,67.93 155.80,73.00 155.00,75.00 C154.20,77.00 153.07,80.00 152.00,80.00 C150.93,80.00 148.13,76.47 147.00,75.00 C145.87,73.53 144.69,70.52 143.50,69.00 C142.31,67.48 140.06,64.67 138.10,63.60 C136.14,62.53 130.92,61.71 128.80,61.00 C126.68,60.29 123.44,59.37 122.20,58.30 C120.96,57.23 114.73,53.71 119.50,53.00Z" fill="#98ebfb"/>
<path d="M127.50,53.00 C130.37,52.47 153.16,51.93 157.00,53.00 C160.84,54.07 156.74,58.69 156.30,61.00 C155.86,63.31 154.41,68.18 153.70,70.30 C152.99,72.42 151.76,76.67 151.00,76.90 C150.24,77.13 149.00,73.99 148.00,72.00 C147.00,70.01 145.17,64.00 143.50,62.00 C141.83,60.00 137.63,58.20 135.50,57.00 C133.37,55.80 124.63,53.53 127.50,53.00Z" fill="#4aa6ee"/>
<path d="M149.70,80.90 C150.41,79.66 153.23,85.67 155.00,86.20 C156.77,86.73 160.69,84.54 163.00,84.90 C165.31,85.26 169.99,87.66 172.30,88.90 C174.61,90.14 178.89,92.96 180.30,94.20 C181.71,95.44 184.33,97.49 182.90,98.20 C181.47,98.91 172.96,99.50 169.60,99.50 C166.24,99.50 160.35,98.73 157.70,98.20 C155.05,97.67 150.77,97.81 149.70,95.50 C148.63,93.19 148.99,82.14 149.70,80.90Z" fill="#98ebfb"/>
<path d="M156.30,87.60 C156.93,86.71 160.10,86.12 161.70,86.20 C163.30,86.28 166.35,87.31 168.30,88.20 C170.25,89.09 175.06,91.93 176.30,92.90 C177.54,93.87 178.31,95.15 177.60,95.50 C176.89,95.85 172.95,95.67 171.00,95.50 C169.05,95.33 164.87,94.55 163.00,94.20 C161.13,93.85 157.89,93.78 157.00,92.90 C156.11,92.02 155.67,88.49 156.30,87.60Z" fill="#4aa6ee"/>
<path d="M143.00,104.00 C143.93,102.87 146.99,102.37 150.00,102.50 C153.01,102.63 162.67,104.20 165.60,105.00 C168.53,105.80 171.28,107.23 172.00,108.50 C172.72,109.77 171.93,113.17 171.00,114.50 C170.07,115.83 167.53,117.83 165.00,118.50 C162.47,119.17 154.53,119.70 152.00,119.50 C149.47,119.30 147.20,118.13 146.00,117.00 C144.80,115.87 143.40,112.73 143.00,111.00 C142.60,109.27 142.07,105.13 143.00,104.00Z" fill="#fff8d9"/>
<path d="M192.20,96.90 C194.15,96.19 203.13,98.05 205.50,98.20 C207.87,98.35 209.40,97.23 210.00,98.00 C210.60,98.77 210.60,102.67 210.00,104.00 C209.40,105.33 207.51,107.47 205.50,108.00 C203.49,108.53 196.85,108.60 194.90,108.00 C192.95,107.40 191.26,104.98 190.90,103.50 C190.54,102.02 190.25,97.61 192.20,96.90Z" fill="#98ebfb"/>
<path d="M200.00,109.00 C201.87,107.93 210.13,107.07 212.00,108.00 C213.87,108.93 214.93,114.67 214.00,116.00 C213.07,117.33 207.13,118.00 205.00,118.00 C202.87,118.00 198.67,117.20 198.00,116.00 C197.33,114.80 198.13,110.07 200.00,109.00Z" fill="#98ebfb"/>
<path d="M188.20,119.40 C189.25,117.24 194.83,117.32 197.50,116.80 C200.17,116.28 206.24,114.79 208.20,115.50 C210.16,116.21 211.85,119.77 212.20,122.10 C212.55,124.43 213.81,131.55 210.80,133.00 C207.79,134.45 192.61,134.81 189.60,133.00 C186.59,131.19 187.15,121.56 188.20,119.40Z" fill="#4aa6ee"/>
<path d="M85.00,111.50 C85.89,110.26 94.75,107.00 98.30,106.20 C101.85,105.40 108.59,105.15 111.60,105.50 C114.61,105.85 119.13,107.29 120.90,108.80 C122.67,110.31 124.55,114.32 124.90,116.80 C125.25,119.28 124.39,125.24 123.50,127.40 C122.61,129.56 120.15,132.25 118.20,133.00 C116.25,133.75 111.02,133.75 108.90,133.00 C106.78,132.25 103.89,129.21 102.30,127.40 C100.71,125.59 98.43,120.99 97.00,119.40 C95.57,117.81 93.20,116.55 91.60,115.50 C90.00,114.45 84.11,112.74 85.00,111.50Z" fill="#98ebfb"/>
<path d="M94.30,107.50 C95.71,106.26 103.19,105.85 106.20,106.20 C109.21,106.55 115.13,108.86 116.90,110.10 C118.67,111.34 119.50,113.73 119.50,115.50 C119.50,117.27 117.95,121.81 116.90,123.40 C115.85,124.99 113.03,127.21 111.60,127.40 C110.17,127.59 107.63,125.87 106.20,124.80 C104.77,123.73 102.31,120.64 100.90,119.40 C99.49,118.16 96.48,117.09 95.60,115.50 C94.72,113.91 92.89,108.74 94.30,107.50Z" fill="#4aa6ee"/>
<path d="M96.90,110.10 C98.14,109.30 105.29,108.97 107.60,109.50 C109.91,110.03 113.49,112.59 114.20,114.10 C114.91,115.61 113.78,119.73 112.90,120.80 C112.02,121.87 109.01,122.46 107.60,122.10 C106.19,121.74 103.54,118.98 102.30,118.10 C101.06,117.22 99.02,116.57 98.30,115.50 C97.58,114.43 95.66,110.90 96.90,110.10Z" fill="#1d6dd0"/>
<path d="M106.30,125.00 C108.42,124.29 121.29,124.12 123.60,125.00 C125.91,125.88 124.67,130.53 123.60,131.60 C122.53,132.67 117.72,133.17 115.60,133.00 C113.48,132.83 108.94,131.37 107.70,130.30 C106.46,129.23 104.18,125.71 106.30,125.00Z" fill="#4aa6ee"/>
<path d="M118.00,134.00 C119.99,131.52 128.25,132.96 132.90,133.00 C137.55,133.04 148.11,133.42 152.90,134.30 C157.69,135.18 165.97,138.53 168.80,139.60 C171.63,140.67 174.46,140.70 174.10,142.30 C173.74,143.90 168.41,149.83 166.10,151.60 C163.79,153.37 158.21,153.83 156.80,155.60 C155.39,157.37 155.85,162.25 155.50,164.90 C155.15,167.55 154.00,173.21 154.20,175.50 C154.40,177.79 156.63,179.63 157.00,182.10 C157.37,184.57 159.67,192.41 157.00,194.00 C154.33,195.59 140.39,197.00 137.00,194.00 C133.61,191.00 133.03,176.09 131.60,171.50 C130.17,166.91 128.11,162.25 126.30,159.60 C124.49,156.95 119.11,155.01 118.00,151.60 C116.89,148.19 116.01,136.48 118.00,134.00Z" fill="#98ebfb"/>
<path d="M135.00,83.00 C136.20,81.80 143.33,83.33 146.00,84.00 C148.67,84.67 153.93,86.53 155.00,88.00 C156.07,89.47 155.20,93.93 154.00,95.00 C152.80,96.07 148.27,96.27 146.00,96.00 C143.73,95.73 138.47,94.73 137.00,93.00 C135.53,91.27 133.80,84.20 135.00,83.00Z" fill="#98ebfb"/>
<path d="M138.20,186.10 C139.08,185.50 145.23,186.71 146.20,187.50 C147.17,188.29 146.38,191.40 145.50,192.00 C144.62,192.60 140.57,192.79 139.60,192.00 C138.63,191.21 137.32,186.70 138.20,186.10Z" fill="#4aa6ee"/>
<path d="M152.90,186.10 C153.95,184.97 159.75,186.18 160.80,187.50 C161.85,188.82 161.85,194.87 160.80,196.00 C159.75,197.13 153.95,197.32 152.90,196.00 C151.85,194.68 151.85,187.23 152.90,186.10Z" fill="#4aa6ee"/>
</g>
<path d="M85.0,113.2h0M89.4,113.2h0M93.8,113.2h0M98.1,117.9h0M98.1,113.2h0M98.1,108.4h0M102.5,117.9h0M102.5,113.2h0M102.5,108.4h0M102.5,103.6h0M106.8,122.6h0M106.8,117.9h0M106.8,113.2h0M106.8,108.4h0M106.8,103.6h0M106.8,98.7h0M111.2,131.9h0M111.2,122.6h0M111.2,117.9h0M111.2,113.2h0M111.2,108.4h0M111.2,103.6h0M111.2,98.7h0M111.2,93.8h0M115.5,131.9h0M115.5,122.6h0M115.5,117.9h0M115.5,113.2h0M115.5,108.4h0M115.5,103.6h0M115.5,98.7h0M115.5,93.8h0M119.9,131.9h0M119.9,122.6h0M119.9,117.9h0M119.9,113.2h0M119.9,108.4h0M119.9,103.6h0M119.9,98.7h0M119.9,93.8h0M119.9,83.9h0M119.9,78.8h0M119.9,73.7h0M119.9,68.5h0M119.9,63.3h0M119.9,58.0h0M124.2,154.6h0M124.2,150.1h0M124.2,145.6h0M124.2,141.1h0M124.2,136.5h0M124.2,131.9h0M124.2,122.6h0M124.2,117.9h0M124.2,113.2h0M124.2,108.4h0M124.2,103.6h0M124.2,98.7h0M124.2,93.8h0M124.2,88.9h0M124.2,83.9h0M124.2,78.8h0M124.2,73.7h0M124.2,68.5h0M124.2,63.3h0M124.2,58.0h0M128.6,159.1h0M128.6,154.6h0M128.6,150.1h0M128.6,145.6h0M128.6,141.1h0M128.6,136.5h0M128.6,131.9h0M128.6,122.6h0M128.6,117.9h0M128.6,113.2h0M128.6,108.4h0M128.6,103.6h0M128.6,98.7h0M128.6,93.8h0M128.6,88.9h0M128.6,83.9h0M128.6,78.8h0M128.6,73.7h0M128.6,68.5h0M128.6,63.3h0M128.6,58.0h0M133.0,172.4h0M133.0,168.0h0M133.0,163.5h0M133.0,159.1h0M133.0,154.6h0M133.0,150.1h0M133.0,145.6h0M133.0,141.1h0M133.0,136.5h0M133.0,131.9h0M133.0,122.6h0M133.0,117.9h0M133.0,113.2h0M133.0,108.4h0M133.0,103.6h0M133.0,98.7h0M133.0,93.8h0M133.0,88.9h0M133.0,83.9h0M133.0,78.8h0M133.0,73.7h0M133.0,68.5h0M133.0,63.3h0M133.0,58.0h0M137.3,185.5h0M137.3,181.2h0M137.3,176.8h0M137.3,172.4h0M137.3,168.0h0M137.3,163.5h0M137.3,159.1h0M137.3,154.6h0M137.3,150.1h0M137.3,145.6h0M137.3,141.1h0M137.3,136.5h0M137.3,131.9h0M137.3,122.6h0M137.3,113.2h0M137.3,108.4h0M137.3,103.6h0M137.3,98.7h0M137.3,93.8h0M137.3,88.9h0M137.3,83.9h0M137.3,78.8h0M137.3,73.7h0M137.3,68.5h0M137.3,63.3h0M137.3,58.0h0M141.7,189.9h0M141.7,185.5h0M141.7,181.2h0M141.7,176.8h0M141.7,172.4h0M141.7,168.0h0M141.7,163.5h0M141.7,159.1h0M141.7,154.6h0M141.7,150.1h0M141.7,145.6h0M141.7,141.1h0M141.7,136.5h0M141.7,131.9h0M141.7,122.6h0M141.7,113.2h0M141.7,108.4h0M141.7,103.6h0M141.7,93.8h0M141.7,88.9h0M141.7,83.9h0M141.7,78.8h0M141.7,73.7h0M141.7,68.5h0M141.7,63.3h0M141.7,58.0h0M146.0,189.9h0M146.0,185.5h0M146.0,181.2h0M146.0,176.8h0M146.0,172.4h0M146.0,168.0h0M146.0,163.5h0M146.0,159.1h0M146.0,154.6h0M146.0,150.1h0M146.0,145.6h0M146.0,141.1h0M146.0,136.5h0M146.0,131.9h0M146.0,122.6h0M146.0,117.9h0M146.0,93.8h0M146.0,88.9h0M146.0,83.9h0M146.0,78.8h0M146.0,73.7h0M146.0,68.5h0M146.0,63.3h0M146.0,58.0h0M150.4,181.2h0M150.4,176.8h0M150.4,172.4h0M150.4,168.0h0M150.4,163.5h0M150.4,159.1h0M150.4,154.6h0M150.4,150.1h0M150.4,145.6h0M150.4,141.1h0M150.4,136.5h0M150.4,131.9h0M150.4,122.6h0M150.4,117.9h0M150.4,93.8h0M150.4,88.9h0M150.4,83.9h0M150.4,78.8h0M150.4,73.7h0M150.4,68.5h0M150.4,63.3h0M150.4,58.0h0M154.7,181.2h0M154.7,176.8h0M154.7,172.4h0M154.7,168.0h0M154.7,163.5h0M154.7,159.1h0M154.7,154.6h0M154.7,150.1h0M154.7,145.6h0M154.7,141.1h0M154.7,136.5h0M154.7,122.6h0M154.7,117.9h0M154.7,113.2h0M154.7,108.4h0M154.7,93.8h0M154.7,88.9h0M154.7,83.9h0M154.7,63.3h0M154.7,58.0h0M159.1,154.6h0M159.1,150.1h0M159.1,145.6h0M159.1,141.1h0M159.1,136.5h0M159.1,117.9h0M159.1,113.2h0M159.1,108.4h0M159.1,98.7h0M159.1,93.8h0M159.1,88.9h0M163.5,154.6h0M163.5,150.1h0M163.5,145.6h0M163.5,141.1h0M163.5,136.5h0M163.5,117.9h0M163.5,113.2h0M163.5,108.4h0M163.5,98.7h0M163.5,93.8h0M163.5,88.9h0M167.8,150.1h0M167.8,145.6h0M167.8,141.1h0M167.8,136.5h0M167.8,117.9h0M167.8,113.2h0M167.8,108.4h0M167.8,103.6h0M167.8,98.7h0M167.8,93.8h0M167.8,88.9h0M172.2,141.1h0M172.2,136.5h0M172.2,117.9h0M172.2,113.2h0M172.2,108.4h0M172.2,103.6h0M172.2,98.7h0M172.2,93.8h0M176.5,141.1h0M176.5,136.5h0M176.5,122.6h0M176.5,117.9h0M176.5,103.6h0M176.5,98.7h0M176.5,93.8h0M180.9,136.5h0M180.9,127.3h0M180.9,122.6h0M180.9,103.6h0M180.9,98.7h0M185.2,127.3h0M185.2,122.6h0M185.2,117.9h0M185.2,113.2h0M185.2,103.6h0M185.2,98.7h0M189.6,117.9h0M189.6,98.7h0M193.9,117.9h0M193.9,98.7h0M198.3,117.9h0M198.3,113.2h0M198.3,108.4h0M198.3,98.7h0M202.7,117.9h0M202.7,113.2h0M202.7,108.4h0M202.7,98.7h0M207.0,117.9h0M207.0,113.2h0M207.0,108.4h0M207.0,98.7h0M211.4,117.9h0M211.4,113.2h0M211.4,108.4h0M211.4,98.7h0M211.4,93.8h0M215.7,113.2h0M215.7,108.4h0M215.7,98.7h0M215.7,93.8h0M220.1,108.4h0M220.1,98.7h0M220.1,93.8h0M224.4,108.4h0M224.4,98.7h0M224.4,93.8h0" stroke="#151515" stroke-width="1.65" stroke-linecap="round" fill="none"/>
<polyline points="74.59,112.21 78.51,112.69 82.87,112.21 87.66,112.21 92.01,111.26 95.93,111.26 96.81,113.16 98.55,114.11 99.42,116.01 100.29,117.90 101.60,118.84 102.90,119.31 103.77,119.78 105.08,121.66 106.39,123.07 109.00,123.53 112.05,123.07 109.87,123.53 107.70,124.47 106.82,125.40 107.70,126.80 109.87,129.12 111.62,131.43 114.23,132.82 116.41,132.82 119.02,131.43 120.33,129.58 121.20,126.33 122.51,126.33 122.51,129.58 123.81,131.43 123.38,133.74 122.94,136.95 123.38,140.15 123.81,142.89 124.68,146.97 125.55,150.58 126.43,154.18 127.73,156.86 129.04,159.99 130.78,163.55 131.65,166.21 132.52,169.30 134.27,172.83 135.57,175.03 136.88,177.67 138.19,181.17 138.62,183.36 139.93,185.98 141.24,187.72 142.98,189.46 144.29,189.46 146.46,186.85 147.77,185.11 151.26,184.23 149.95,182.92 151.69,179.86 154.30,179.86 153.87,177.23 153.87,174.59 154.30,172.39 155.61,169.75 156.05,167.09 155.61,164.43 155.18,161.77 155.18,159.10 156.05,156.86 158.66,155.97 159.97,154.62 162.15,153.28 164.76,152.38 164.76,151.03 166.07,149.23 169.11,146.97 171.73,144.70 173.47,142.89 175.65,140.61 177.39,139.24 180.00,137.41 182.62,136.50 184.80,133.74 184.36,131.89 185.23,129.58 186.97,129.12 188.72,128.66 190.46,129.12 192.20,129.12 194.38,128.66 197.43,127.73 199.61,127.73 200.91,125.87 202.66,123.53 204.83,124.47 206.14,125.87 206.58,128.19 207.01,130.97 208.32,133.28" fill="none" stroke="#000" stroke-width="0.75" stroke-linejoin="round"/>
<polyline points="74.59,112.21 75.46,107.43 77.64,105.99 81.56,105.02 81.99,102.61 79.82,102.12 79.82,97.25 75.90,95.78 74.15,93.81 71.54,89.86 78.51,91.84 83.30,91.34 86.35,90.85 89.40,91.34 94.63,89.86 95.50,84.36 97.68,82.35 101.16,81.34 103.34,79.82 105.95,80.83 108.13,79.31 109.00,73.70 111.18,72.67 112.49,71.64 110.74,68.53 115.10,68.53 115.97,66.44 118.15,62.25 117.71,59.60 116.41,57.47 119.02,55.33 122.51,53.72 126.43,52.65 130.78,52.11 133.83,52.65" fill="none" stroke="#000" stroke-width="0.75" stroke-linejoin="round"/>
<polyline points="133.83,52.65 136.44,54.26 138.19,58.01 141.67,60.13 145.16,60.66 148.64,59.07 152.56,60.13 155.61,61.19 154.30,65.40 151.69,67.49 149.51,70.60 151.69,73.70 148.21,75.75 149.08,79.31 149.08,82.35 151.69,83.36 153.87,84.36 156.05,85.87 159.10,87.37 161.71,86.87 163.89,88.36 167.81,91.34 169.99,92.33 173.04,94.31 176.96,95.78 180.44,97.74 183.05,98.72 186.10,99.20 190.02,99.20 193.07,98.23 196.56,97.74 200.04,97.74 203.53,99.20 205.71,99.69 209.19,99.20 212.67,95.78 216.60,92.83 221.82,93.32 224.87,91.84 227.05,94.31 230.10,97.25 230.53,99.20 229.23,100.18 225.31,102.12 222.26,104.54 220.95,106.95 220.08,109.83 218.77,112.69 218.34,114.59 216.60,118.37 213.55,117.90 213.11,122.60 211.80,126.33 209.63,127.26 208.75,130.05 208.32,133.28" fill="none" stroke="#000" stroke-width="0.75" stroke-linejoin="round"/>
<polyline points="103.34,119.31 105.95,116.48 109.44,116.48 113.79,116.01 115.54,115.06 115.10,112.21 112.49,109.83 111.62,105.99 109.00,104.54 111.18,101.15 113.79,98.72 119.46,98.72 122.07,94.31 125.99,89.36 128.17,86.87 131.22,83.86 131.22,79.31 132.96,77.28 131.22,75.75 128.60,73.70 126.86,71.64 126.43,68.53 126.86,65.40 125.55,62.25 125.99,58.54 126.43,52.65" fill="none" stroke="#000" stroke-width="0.75" stroke-linejoin="round"/>
<polyline points="155.18,94.80 157.35,95.78 159.97,97.25 163.02,99.20 166.50,101.15 169.55,101.64 172.60,101.64 175.21,103.09 177.83,104.54 180.88,105.51 183.93,106.47 186.54,106.47 190.02,105.99 189.59,102.61 190.02,99.20" fill="none" stroke="#000" stroke-width="0.75" stroke-linejoin="round"/>
<polyline points="159.10,87.37 156.92,90.35 155.61,92.83 155.18,94.80" fill="none" stroke="#000" stroke-width="0.75" stroke-linejoin="round"/>
<polyline points="190.02,99.20 193.07,102.12 193.51,103.09" fill="none" stroke="#000" stroke-width="0.75" stroke-linejoin="round"/>
<polyline points="193.51,103.09 196.56,104.54 200.04,104.54 203.96,104.54 207.45,104.06 206.58,101.15 205.71,99.69" fill="none" stroke="#000" stroke-width="0.75" stroke-linejoin="round"/>
<polyline points="190.02,105.99 191.77,105.51 193.94,106.95 196.12,108.39 197.65,108.87 197.65,111.74 200.48,112.21 204.83,112.45 207.01,112.69 208.75,113.64 207.88,115.54 206.58,116.96 205.27,117.43 204.40,119.31 203.53,120.25 203.96,122.60 205.27,123.07 206.14,120.25 207.01,119.78 208.32,119.31 208.75,121.66 209.19,124.00 209.63,127.26" fill="none" stroke="#000" stroke-width="0.75" stroke-linejoin="round"/>
<polyline points="190.02,105.99 192.20,108.39 190.46,110.30 192.64,112.21 190.02,114.59 192.64,116.48 193.07,120.25 192.20,123.07 193.94,127.26 194.38,128.66" fill="none" stroke="#000" stroke-width="0.75" stroke-linejoin="round"/>
<polyline points="154.30,182.05 155.61,182.05 157.35,183.80 158.66,185.98 160.40,187.72 162.15,191.64 163.02,194.25 161.71,196.85 159.53,198.15 157.35,199.02 155.18,197.72 154.30,195.11 153.87,192.07 153.87,189.03 154.30,185.98 154.30,182.05" fill="none" stroke="#000" stroke-width="0.75" stroke-linejoin="round"/>
<polyline points="189,127.3 192,127.9 195,127.2 197.5,126.6 200,126 202,125.2" fill="none" stroke="#000" stroke-width="2.1" stroke-linejoin="round"/>
<polyline points="198,119.2 199,121.5 199.4,124 200.3,126.2" fill="none" stroke="#000" stroke-width="2.0"/>
<polyline points="201.3,120.6 202.3,123 202.8,125.6" fill="none" stroke="#000" stroke-width="1.2"/>
<polyline points="194.5,126.5 195.5,124.5 197,123.5" fill="none" stroke="#000" stroke-width="1.0"/>
<path d="M209.9,164.6 C212,164.2 213.2,168 213,172 C212.8,176 212,179.6 210.2,179.8 C208.4,179.8 208,176 208.2,172 C208.4,168 208.8,165 209.9,164.6Z" fill="#bdf3fb"/>
<polyline points="211,165.3 210.9,168.5 210.6,171 210.9,172.8 210.3,174.5 209.9,176.5 209.4,178.4" fill="none" stroke="#000" stroke-width="1.6" stroke-linecap="round"/>
<circle cx="209.3" cy="178.4" r="0.8" fill="#000"/>
<path d="M213.4,191.8 C215,191.6 216.6,193 216.4,194.6 C216.2,196 214.6,196.2 213.8,195.2 C213,194.2 212.6,192.2 213.4,191.8Z" fill="#bdf3fb"/>
<polyline points="213.6,192.6 214.5,194.6" fill="none" stroke="#000" stroke-width="1.1"/>
<polyline points="211.8,186.2 212.3,187.8" fill="none" stroke="#333" stroke-width="0.7"/>
<circle cx="213.3" cy="160.5" r="0.5" fill="#444"/><circle cx="211.8" cy="162.8" r="0.4" fill="#444"/><circle cx="214.3" cy="170.5" r="0.4" fill="#444"/>
<circle cx="121.2" cy="172.5" r="0.45" fill="#555"/>
<circle cx="122.3" cy="171.2" r="0.45" fill="#555"/>
<circle cx="120.8" cy="174.8" r="0.45" fill="#555"/>
<circle cx="122.6" cy="175.5" r="0.45" fill="#555"/>
<circle cx="123.4" cy="173.4" r="0.45" fill="#555"/>
<circle cx="121.5" cy="177.8" r="0.45" fill="#555"/>
<circle cx="122" cy="184.2" r="0.45" fill="#555"/>
</g>
<rect x="72.20" y="52.50" width="156.60" height="150.30" fill="none" stroke="#000" stroke-width="2.5" />
<line x1="89.40" y1="51.30" x2="89.40" y2="44.30" stroke="#000" stroke-width="1.3"/>
<line x1="89.40" y1="204.00" x2="89.40" y2="211.20" stroke="#000" stroke-width="1.3"/>
<line x1="111.18" y1="51.30" x2="111.18" y2="44.30" stroke="#000" stroke-width="1.3"/>
<line x1="111.18" y1="204.00" x2="111.18" y2="211.20" stroke="#000" stroke-width="1.3"/>
<line x1="132.96" y1="51.30" x2="132.96" y2="44.30" stroke="#000" stroke-width="1.3"/>
<line x1="132.96" y1="204.00" x2="132.96" y2="211.20" stroke="#000" stroke-width="1.3"/>
<line x1="154.74" y1="51.30" x2="154.74" y2="44.30" stroke="#000" stroke-width="1.3"/>
<line x1="154.74" y1="204.00" x2="154.74" y2="211.20" stroke="#000" stroke-width="1.3"/>
<line x1="176.52" y1="51.30" x2="176.52" y2="44.30" stroke="#000" stroke-width="1.3"/>
<line x1="176.52" y1="204.00" x2="176.52" y2="211.20" stroke="#000" stroke-width="1.3"/>
<line x1="198.30" y1="51.30" x2="198.30" y2="44.30" stroke="#000" stroke-width="1.3"/>
<line x1="198.30" y1="204.00" x2="198.30" y2="211.20" stroke="#000" stroke-width="1.3"/>
<line x1="220.08" y1="51.30" x2="220.08" y2="44.30" stroke="#000" stroke-width="1.3"/>
<line x1="220.08" y1="204.00" x2="220.08" y2="211.20" stroke="#000" stroke-width="1.3"/>
<line x1="71.00" y1="63.30" x2="63.90" y2="63.30" stroke="#000" stroke-width="1.3"/>
<line x1="230.00" y1="63.30" x2="237.10" y2="63.30" stroke="#000" stroke-width="1.3"/>
<line x1="71.00" y1="88.86" x2="63.90" y2="88.86" stroke="#000" stroke-width="1.3"/>
<line x1="230.00" y1="88.86" x2="237.10" y2="88.86" stroke="#000" stroke-width="1.3"/>
<line x1="71.00" y1="113.16" x2="63.90" y2="113.16" stroke="#000" stroke-width="1.3"/>
<line x1="230.00" y1="113.16" x2="237.10" y2="113.16" stroke="#000" stroke-width="1.3"/>
<line x1="71.00" y1="136.50" x2="63.90" y2="136.50" stroke="#000" stroke-width="1.3"/>
<line x1="230.00" y1="136.50" x2="237.10" y2="136.50" stroke="#000" stroke-width="1.3"/>
<line x1="71.00" y1="159.10" x2="63.90" y2="159.10" stroke="#000" stroke-width="1.3"/>
<line x1="230.00" y1="159.10" x2="237.10" y2="159.10" stroke="#000" stroke-width="1.3"/>
<line x1="71.00" y1="181.17" x2="63.90" y2="181.17" stroke="#000" stroke-width="1.3"/>
<line x1="230.00" y1="181.17" x2="237.10" y2="181.17" stroke="#000" stroke-width="1.3"/>
<line x1="71.00" y1="202.91" x2="63.90" y2="202.91" stroke="#000" stroke-width="1.3"/>
<line x1="230.00" y1="202.91" x2="237.10" y2="202.91" stroke="#000" stroke-width="1.3"/>
<text x="224.50" y="61.80" font-size="9.4" font-family="Liberation Serif, serif" font-weight="bold" text-anchor="end" >(b)</text>
</g>
<g transform="translate(332.7,0)">
<clipPath id="clip2"><rect x="72.2" y="52.5" width="156.60000000000002" height="150.3"/></clipPath>
<rect x="72.20" y="52.50" width="156.60" height="150.30" fill="#dcdcdc" stroke="none" stroke-width="0" />
<clipPath id="mask2"><polygon points="113.90,47.80 155.40,47.80 155.40,54.10 155.90,57.20 156.50,62.60 155.40,66.80 153.30,71.10 152.20,75.30 152.70,77.40 155.40,81.70 157.50,84.90 160.70,86.20 164.70,86.20 169.00,88.10 169.60,90.50 175.70,91.20 177.60,93.00 178.20,95.50 185.60,95.80 196.60,96.10 206.50,95.50 208.90,93.00 211.40,91.80 216.30,91.80 223.70,91.20 226.10,92.40 233.30,92.40 233.30,108.40 224.90,109.60 221.20,112.10 218.80,114.50 215.10,115.10 213.80,119.40 213.20,125.60 212.60,133.00 204.60,133.00 204.00,129.90 194.20,128.00 189.30,128.00 188.50,127.50 187.70,130.00 186.40,132.40 186.00,135.80 183.50,137.40 177.70,140.80 176.00,142.40 173.50,144.90 171.00,147.40 169.40,149.90 166.10,152.40 165.20,154.90 161.90,156.10 157.80,157.40 156.90,159.00 156.50,165.70 156.20,175.80 156.50,178.80 157.50,182.10 159.90,182.70 160.90,184.10 160.50,194.00 157.50,195.40 152.20,195.40 152.20,188.00 149.60,188.40 147.60,190.00 147.20,192.00 140.30,192.00 139.60,189.40 137.30,187.40 135.30,184.70 134.90,179.40 133.90,174.80 131.00,171.40 130.60,166.80 130.30,162.80 127.20,160.40 122.50,155.70 122.20,145.20 121.80,135.20 121.40,133.50 112.20,133.50 108.50,132.70 106.80,129.80 104.30,128.60 103.50,121.90 102.30,120.30 96.40,119.40 95.60,116.50 93.90,115.70 85.10,115.60 78.90,114.50 73.50,113.70 66.30,113.70 66.30,107.50 73.60,107.50 74.60,106.40 75.90,105.00 78.10,102.80 79.10,100.30 78.60,97.80 76.10,96.10 73.60,95.20 66.30,95.20 66.30,87.00 73.50,87.00 74.40,90.00 77.40,91.20 82.80,90.80 88.90,90.00 91.90,88.90 94.20,86.20 95.70,83.10 98.00,81.60 100.30,80.10 103.40,78.60 106.50,75.30 108.10,71.10 109.70,68.40 111.80,64.70 112.90,61.50 113.40,57.20 113.90,54.10"/></clipPath>
<g clip-path="url(#clip2)">
<g clip-path="url(#mask2)">
<polygon points="113.90,47.80 155.40,47.80 155.40,54.10 155.90,57.20 156.50,62.60 155.40,66.80 153.30,71.10 152.20,75.30 152.70,77.40 155.40,81.70 157.50,84.90 160.70,86.20 164.70,86.20 169.00,88.10 169.60,90.50 175.70,91.20 177.60,93.00 178.20,95.50 185.60,95.80 196.60,96.10 206.50,95.50 208.90,93.00 211.40,91.80 216.30,91.80 223.70,91.20 226.10,92.40 233.30,92.40 233.30,108.40 224.90,109.60 221.20,112.10 218.80,114.50 215.10,115.10 213.80,119.40 213.20,125.60 212.60,133.00 204.60,133.00 204.00,129.90 194.20,128.00 189.30,128.00 188.50,127.50 187.70,130.00 186.40,132.40 186.00,135.80 183.50,137.40 177.70,140.80 176.00,142.40 173.50,144.90 171.00,147.40 169.40,149.90 166.10,152.40 165.20,154.90 161.90,156.10 157.80,157.40 156.90,159.00 156.50,165.70 156.20,175.80 156.50,178.80 157.50,182.10 159.90,182.70 160.90,184.10 160.50,194.00 157.50,195.40 152.20,195.40 152.20,188.00 149.60,188.40 147.60,190.00 147.20,192.00 140.30,192.00 139.60,189.40 137.30,187.40 135.30,184.70 134.90,179.40 133.90,174.80 131.00,171.40 130.60,166.80 130.30,162.80 127.20,160.40 122.50,155.70 122.20,145.20 121.80,135.20 121.40,133.50 112.20,133.50 108.50,132.70 106.80,129.80 104.30,128.60 103.50,121.90 102.30,120.30 96.40,119.40 95.60,116.50 93.90,115.70 85.10,115.60 78.90,114.50 73.50,113.70 66.30,113.70 66.30,107.50 73.60,107.50 74.60,106.40 75.90,105.00 78.10,102.80 79.10,100.30 78.60,97.80 76.10,96.10 73.60,95.20 66.30,95.20 66.30,87.00 73.50,87.00 74.40,90.00 77.40,91.20 82.80,90.80 88.90,90.00 91.90,88.90 94.20,86.20 95.70,83.10 98.00,81.60 100.30,80.10 103.40,78.60 106.50,75.30 108.10,71.10 109.70,68.40 111.80,64.70 112.90,61.50 113.40,57.20 113.90,54.10" fill="#bff8fe"/>
<path d="M120.10,50.00 C124.79,49.07 152.95,46.00 158.00,50.00 C163.05,54.00 158.76,75.71 158.00,80.00 C157.24,84.29 154.15,82.25 152.30,82.20 C150.45,82.15 146.43,80.84 144.10,79.60 C141.77,78.36 136.76,75.03 134.80,72.90 C132.84,70.77 131.00,65.72 129.40,63.60 C127.80,61.48 124.04,58.81 122.80,57.00 C121.56,55.19 115.41,50.93 120.10,50.00Z" fill="#98ebfb"/>
<path d="M128.10,50.00 C131.15,48.53 152.54,47.83 156.30,50.00 C160.06,52.17 156.74,62.89 156.30,66.30 C155.86,69.71 153.80,74.36 153.00,75.60 C152.20,76.84 151.85,76.48 150.30,75.60 C148.75,74.72 143.65,70.95 141.40,69.00 C139.15,67.05 135.17,63.53 133.40,61.00 C131.63,58.47 125.05,51.47 128.10,50.00Z" fill="#4aa6ee"/>
<path d="M136.10,50.00 C137.82,48.53 153.00,48.27 155.60,50.00 C158.20,51.73 156.31,60.83 155.60,63.00 C154.89,65.17 152.02,66.57 150.30,66.30 C148.58,66.03 144.59,63.17 142.70,61.00 C140.81,58.83 134.38,51.47 136.10,50.00Z" fill="#1d6dd0"/>
<path d="M110.80,62.30 C112.04,61.06 115.90,60.47 117.50,61.00 C119.10,61.53 121.21,64.35 122.80,66.30 C124.39,68.25 127.80,73.65 129.40,75.60 C131.00,77.55 132.84,79.93 134.80,80.90 C136.76,81.87 141.77,82.46 144.10,82.90 C146.43,83.34 150.45,83.79 152.30,84.20 C154.15,84.61 156.71,84.56 158.00,86.00 C159.29,87.44 161.33,92.73 162.00,95.00 C162.67,97.27 162.67,99.95 163.00,103.00 C163.33,106.05 164.70,114.46 164.50,117.90 C164.30,121.34 163.35,127.01 161.50,128.80 C159.65,130.59 153.61,131.22 150.60,131.30 C147.59,131.38 141.38,130.95 138.90,129.40 C136.42,127.85 133.55,121.31 132.00,119.70 C130.45,118.09 128.53,117.69 127.30,117.30 C126.07,116.91 124.28,117.23 122.80,116.80 C121.32,116.37 117.61,115.17 116.20,114.10 C114.79,113.03 113.44,110.04 112.20,108.80 C110.96,107.56 108.67,105.51 106.90,104.80 C105.13,104.09 100.86,103.67 98.90,103.50 C96.94,103.33 93.63,104.03 92.20,103.50 C90.77,102.97 88.01,101.81 88.20,99.50 C88.39,97.19 91.64,89.21 93.60,86.20 C95.56,83.19 100.95,79.02 102.90,76.90 C104.85,74.78 107.15,72.25 108.20,70.30 C109.25,68.35 109.56,63.54 110.80,62.30Z" fill="#ffb733"/>
<path d="M109.50,66.30 C110.57,65.25 114.60,64.47 116.20,65.00 C117.80,65.53 120.62,68.71 121.50,70.30 C122.38,71.89 123.16,75.31 122.80,76.90 C122.44,78.49 120.04,81.31 118.80,82.20 C117.56,83.09 114.74,83.95 113.50,83.60 C112.26,83.25 110.21,81.03 109.50,79.60 C108.79,78.17 108.20,74.67 108.20,72.90 C108.20,71.13 108.43,67.35 109.50,66.30Z" fill="#ff6000"/>
<path d="M109.50,66.30 C109.86,65.25 112.70,64.64 113.50,65.00 C114.30,65.36 115.33,67.76 115.50,69.00 C115.67,70.24 115.43,73.78 114.80,74.30 C114.17,74.82 111.51,73.97 110.80,72.90 C110.09,71.83 109.14,67.35 109.50,66.30Z" fill="#e31a00"/>
<path d="M93.60,84.90 C94.84,83.66 97.49,82.20 98.90,82.20 C100.31,82.20 102.96,83.66 104.20,84.90 C105.44,86.14 107.67,89.73 108.20,91.50 C108.73,93.27 108.73,96.60 108.20,98.20 C107.67,99.80 105.63,102.43 104.20,103.50 C102.77,104.57 99.27,106.03 97.50,106.20 C95.73,106.37 92.14,105.87 90.90,104.80 C89.66,103.73 88.37,99.97 88.20,98.20 C88.03,96.43 88.88,93.27 89.60,91.50 C90.32,89.73 92.36,86.14 93.60,84.90Z" fill="#ff6000"/>
<path d="M126.80,87.60 C128.04,86.72 133.45,88.55 136.10,88.90 C138.75,89.25 145.10,89.13 146.70,90.20 C148.30,91.27 148.10,94.95 148.10,96.90 C148.10,98.85 148.30,103.83 146.70,104.80 C145.10,105.77 138.41,104.73 136.10,104.20 C133.79,103.67 130.64,101.96 129.40,100.80 C128.16,99.64 127.15,97.26 126.80,95.50 C126.45,93.74 125.56,88.48 126.80,87.60Z" fill="#ff6000"/>
<path d="M143.50,110.00 C144.50,108.93 149.80,108.13 152.00,108.00 C154.20,107.87 158.53,108.33 160.00,109.00 C161.47,109.67 163.00,111.93 163.00,113.00 C163.00,114.07 161.73,116.40 160.00,117.00 C158.27,117.60 152.07,117.63 150.00,117.50 C147.93,117.37 145.37,117.00 144.50,116.00 C143.63,115.00 142.50,111.07 143.50,110.00Z" fill="#ff6000"/>
<path d="M118.80,107.50 C119.59,106.98 123.21,107.49 124.10,108.20 C124.99,108.91 125.85,111.92 125.50,112.80 C125.15,113.68 122.47,114.89 121.50,114.80 C120.53,114.71 118.56,113.07 118.20,112.10 C117.84,111.13 118.01,108.02 118.80,107.50Z" fill="#ff6000"/>
<path d="M112.20,91.50 C113.17,90.70 118.78,90.37 120.10,90.90 C121.42,91.43 122.45,94.53 122.10,95.50 C121.75,96.47 118.74,98.01 117.50,98.20 C116.26,98.39 113.51,97.79 112.80,96.90 C112.09,96.01 111.23,92.30 112.20,91.50Z" fill="#fff8d9"/>
<path d="M66.00,87.00 C68.27,83.33 79.67,88.57 83.00,88.50 C86.33,88.43 89.20,86.83 91.00,86.50 C92.80,86.17 95.43,85.67 96.50,86.00 C97.57,86.33 98.80,87.80 99.00,89.00 C99.20,90.20 98.72,93.27 98.00,95.00 C97.28,96.73 94.72,100.16 93.60,102.00 C92.48,103.84 90.49,107.36 89.60,108.80 C88.71,110.24 88.14,111.91 86.90,112.80 C85.66,113.69 83.09,115.07 80.30,115.50 C77.51,115.93 67.91,119.80 66.00,116.00 C64.09,112.20 63.73,90.67 66.00,87.00Z" fill="#e31a00"/>
<path d="M66.00,98.00 C67.60,95.67 75.60,97.37 78.00,97.50 C80.40,97.63 82.87,98.13 84.00,99.00 C85.13,99.87 86.37,102.53 86.50,104.00 C86.63,105.47 85.73,108.67 85.00,110.00 C84.27,111.33 83.53,113.33 81.00,114.00 C78.47,114.67 68.00,117.13 66.00,115.00 C64.00,112.87 64.40,100.33 66.00,98.00Z" fill="#c20000"/>
<path d="M84.00,110.00 C84.80,108.13 89.33,104.07 92.00,103.00 C94.67,101.93 101.20,101.60 104.00,102.00 C106.80,102.40 111.13,104.53 113.00,106.00 C114.87,107.47 116.53,111.40 118.00,113.00 C119.47,114.60 122.67,116.53 124.00,118.00 C125.33,119.47 127.47,121.87 128.00,124.00 C128.53,126.13 131.20,132.40 128.00,134.00 C124.80,135.60 108.67,137.20 104.00,136.00 C99.33,134.80 95.40,127.53 93.00,125.00 C90.60,122.47 87.20,119.00 86.00,117.00 C84.80,115.00 83.20,111.87 84.00,110.00Z" fill="#fff8d9"/>
<path d="M93.00,110.00 C93.47,108.73 96.27,106.97 98.00,106.50 C99.73,106.03 104.32,106.03 106.00,106.50 C107.68,106.97 109.73,108.73 110.60,110.00 C111.47,111.27 112.25,114.13 112.50,116.00 C112.75,117.87 113.37,122.73 112.50,124.00 C111.63,125.27 107.67,126.03 106.00,125.50 C104.33,124.97 101.53,121.27 100.00,120.00 C98.47,118.73 95.43,117.33 94.50,116.00 C93.57,114.67 92.53,111.27 93.00,110.00Z" fill="#bff8fe"/>
<path d="M95.20,108.50 C95.67,107.77 98.89,107.43 100.00,107.50 C101.11,107.57 102.90,108.27 103.50,109.00 C104.10,109.73 104.83,112.27 104.50,113.00 C104.17,113.73 102.07,114.50 101.00,114.50 C99.93,114.50 97.27,113.80 96.50,113.00 C95.73,112.20 94.73,109.23 95.20,108.50Z" fill="#98ebfb"/>
<path d="M96.50,113.00 C96.97,112.20 100.58,112.10 101.50,112.50 C102.42,112.90 103.40,115.00 103.40,116.00 C103.40,117.00 102.22,119.67 101.50,120.00 C100.78,120.33 98.67,119.43 98.00,118.50 C97.33,117.57 96.03,113.80 96.50,113.00Z" fill="#4aa6ee"/>
<path d="M154.30,83.60 C155.71,82.71 163.55,84.43 166.20,86.20 C168.85,87.97 171.89,94.59 174.20,96.90 C176.51,99.21 184.91,102.62 183.50,103.50 C182.09,104.38 167.32,104.91 163.60,103.50 C159.88,102.09 156.84,95.55 155.60,92.90 C154.36,90.25 152.89,84.49 154.30,83.60Z" fill="#bff8fe"/>
<path d="M166.20,86.20 C167.97,86.20 173.70,88.96 176.90,90.20 C180.10,91.44 185.95,95.33 190.20,95.50 C194.45,95.67 204.01,92.21 208.80,91.50 C213.59,90.79 223.27,90.01 226.10,90.20 C228.93,90.39 229.48,89.89 230.00,92.90 C230.52,95.91 231.41,109.61 230.00,112.80 C228.59,115.99 222.05,115.56 219.40,116.80 C216.75,118.04 212.58,121.03 210.10,122.10 C207.62,123.17 203.45,124.09 200.80,124.80 C198.15,125.51 192.51,127.40 190.20,127.40 C187.89,127.40 183.86,126.21 183.50,124.80 C183.14,123.39 186.61,118.93 187.50,116.80 C188.39,114.67 190.73,110.57 190.20,108.80 C189.67,107.03 185.63,104.74 183.50,103.50 C181.37,102.26 176.32,100.57 174.20,99.50 C172.08,98.43 169.01,96.74 167.60,95.50 C166.19,94.26 163.79,91.44 163.60,90.20 C163.41,88.96 164.43,86.20 166.20,86.20Z" fill="#4aa6ee"/>
<path d="M180.00,95.80 C183.07,95.17 203.33,95.31 208.00,95.80 C212.67,96.29 212.73,99.01 215.00,99.50 C217.27,99.99 223.13,99.03 225.00,99.50 C226.87,99.97 228.47,100.53 229.00,103.00 C229.53,105.47 231.13,115.27 229.00,118.00 C226.87,120.73 216.20,122.97 213.00,123.50 C209.80,124.03 206.33,123.80 205.00,122.00 C203.67,120.20 203.93,112.20 203.00,110.00 C202.07,107.80 199.47,106.23 198.00,105.50 C196.53,104.77 193.73,105.17 192.00,104.50 C190.27,103.83 186.60,101.66 185.00,100.50 C183.40,99.34 176.93,96.43 180.00,95.80Z" fill="#1d6dd0"/>
<path d="M163.60,103.50 C166.25,102.09 179.95,104.96 183.50,106.20 C187.05,107.44 189.67,110.68 190.20,112.80 C190.73,114.92 189.27,120.33 187.50,122.10 C185.73,123.87 179.55,125.74 176.90,126.10 C174.25,126.46 169.37,126.04 167.60,124.80 C165.83,123.56 164.13,119.64 163.60,116.80 C163.07,113.96 160.95,104.91 163.60,103.50Z" fill="#98ebfb"/>
<path d="M171.60,118.10 C173.20,117.22 182.95,116.27 184.90,116.80 C186.85,117.33 187.80,121.22 186.20,122.10 C184.60,122.98 174.85,123.93 172.90,123.40 C170.95,122.87 170.00,118.98 171.60,118.10Z" fill="#4aa6ee"/>
<path d="M118.00,119.50 C119.33,118.46 129.21,118.80 132.00,120.20 C134.79,121.60 136.42,128.44 138.90,130.00 C141.38,131.56 147.59,131.98 150.60,131.90 C153.61,131.82 159.65,130.65 161.50,129.40 C163.35,128.15 163.10,123.55 164.50,122.50 C165.90,121.45 169.00,121.30 172.00,121.50 C175.00,121.70 185.00,121.53 187.00,124.00 C189.00,126.47 190.05,136.32 187.00,140.00 C183.95,143.68 167.86,149.35 164.10,151.60 C160.34,153.85 159.69,157.43 158.80,156.90 C157.91,156.37 158.11,149.72 157.40,147.60 C156.69,145.48 155.79,142.60 153.50,141.00 C151.21,139.40 143.21,137.03 140.20,135.60 C137.19,134.17 133.33,131.31 130.90,130.30 C128.47,129.29 123.72,129.44 122.00,128.00 C120.28,126.56 116.67,120.54 118.00,119.50Z" fill="#fff8d9"/>
<path d="M180.00,135.00 C181.24,134.92 185.05,137.00 184.00,139.00 C182.95,141.00 174.41,147.84 172.10,150.00 C169.79,152.16 167.85,154.93 166.70,155.20 C165.55,155.47 163.31,153.37 163.50,152.00 C163.69,150.63 166.61,146.55 168.10,144.90 C169.59,143.25 173.11,140.92 174.70,139.60 C176.29,138.28 178.76,135.08 180.00,135.00Z" fill="#ffb733"/>
<path d="M122.90,133.00 C125.21,131.76 136.12,134.72 140.20,135.60 C144.28,136.48 150.85,138.17 153.50,139.60 C156.15,141.03 159.05,143.82 160.10,146.30 C161.15,148.78 161.76,155.72 161.40,158.20 C161.04,160.68 158.11,162.77 157.40,164.90 C156.69,167.03 156.98,172.43 156.10,174.20 C155.22,175.97 152.92,177.85 150.80,178.20 C148.68,178.55 142.51,177.52 140.20,176.80 C137.89,176.08 135.46,175.28 133.50,172.80 C131.54,170.32 126.91,161.92 125.50,158.20 C124.09,154.48 123.25,148.26 122.90,144.90 C122.55,141.54 120.59,134.24 122.90,133.00Z" fill="#98ebfb"/>
<path d="M142.80,150.20 C143.59,149.23 147.13,148.71 148.10,149.60 C149.07,150.49 150.10,155.05 150.10,156.90 C150.10,158.75 148.89,162.62 148.10,163.50 C147.31,164.38 144.99,164.38 144.20,163.50 C143.41,162.62 142.39,158.67 142.20,156.90 C142.01,155.13 142.01,151.17 142.80,150.20Z" fill="#4aa6ee"/>
<path d="M134.90,175.50 C135.87,173.91 140.32,174.20 142.80,174.20 C145.28,174.20 151.73,174.62 153.50,175.50 C155.27,176.38 156.10,179.20 156.10,180.80 C156.10,182.40 154.91,186.01 153.50,187.50 C152.09,188.99 147.46,191.40 145.50,192.00 C143.54,192.60 140.13,192.79 138.80,192.00 C137.47,191.21 136.02,188.30 135.50,186.10 C134.98,183.90 133.93,177.09 134.90,175.50Z" fill="#4aa6ee"/>
<path d="M152.80,183.50 C153.68,182.01 158.86,183.13 160.10,184.80 C161.34,186.47 162.98,194.51 162.10,196.00 C161.22,197.49 154.74,197.67 153.50,196.00 C152.26,194.33 151.92,184.99 152.80,183.50Z" fill="#1d6dd0"/>
<path d="M138.80,187.50 C139.60,186.90 144.61,186.90 145.50,187.50 C146.39,188.10 146.30,191.40 145.50,192.00 C144.70,192.60 140.39,192.60 139.50,192.00 C138.61,191.40 138.00,188.10 138.80,187.50Z" fill="#1d6dd0"/>
</g>
<path d="M76.3,108.4h0M76.3,93.8h0M80.7,108.4h0M80.7,103.6h0M80.7,98.7h0M80.7,93.8h0M85.0,108.4h0M85.0,103.6h0M85.0,98.7h0M85.0,93.8h0M89.4,108.4h0M89.4,103.6h0M89.4,98.7h0M89.4,93.8h0M119.9,58.0h0M124.2,150.1h0M124.2,145.6h0M124.2,141.1h0M124.2,136.5h0M124.2,63.3h0M124.2,58.0h0M128.6,154.6h0M128.6,150.1h0M128.6,145.6h0M128.6,141.1h0M128.6,136.5h0M128.6,63.3h0M128.6,58.0h0M133.0,159.1h0M133.0,154.6h0M133.0,150.1h0M133.0,145.6h0M133.0,141.1h0M133.0,136.5h0M133.0,68.5h0M133.0,63.3h0M133.0,58.0h0M137.3,163.5h0M137.3,159.1h0M137.3,154.6h0M137.3,150.1h0M137.3,145.6h0M137.3,141.1h0M137.3,136.5h0M137.3,73.7h0M137.3,68.5h0M137.3,63.3h0M137.3,58.0h0M141.7,185.5h0M141.7,181.2h0M141.7,176.8h0M141.7,172.4h0M141.7,168.0h0M141.7,163.5h0M141.7,159.1h0M141.7,154.6h0M141.7,150.1h0M141.7,145.6h0M141.7,141.1h0M141.7,127.3h0M141.7,122.6h0M141.7,117.9h0M141.7,98.7h0M141.7,93.8h0M141.7,73.7h0M141.7,68.5h0M141.7,63.3h0M141.7,58.0h0M146.0,185.5h0M146.0,181.2h0M146.0,176.8h0M146.0,172.4h0M146.0,168.0h0M146.0,163.5h0M146.0,159.1h0M146.0,154.6h0M146.0,150.1h0M146.0,145.6h0M146.0,141.1h0M146.0,127.3h0M146.0,122.6h0M146.0,117.9h0M146.0,98.7h0M146.0,93.8h0M146.0,73.7h0M146.0,68.5h0M146.0,63.3h0M146.0,58.0h0M150.4,185.5h0M150.4,181.2h0M150.4,176.8h0M150.4,172.4h0M150.4,168.0h0M150.4,163.5h0M150.4,159.1h0M150.4,154.6h0M150.4,150.1h0M150.4,145.6h0M150.4,127.3h0M150.4,122.6h0M150.4,117.9h0M150.4,98.7h0M150.4,93.8h0M150.4,73.7h0M150.4,68.5h0M150.4,63.3h0M150.4,58.0h0M154.7,185.5h0M154.7,181.2h0M154.7,176.8h0M154.7,172.4h0M154.7,168.0h0M154.7,163.5h0M154.7,159.1h0M154.7,154.6h0M154.7,150.1h0M154.7,145.6h0M154.7,127.3h0M154.7,122.6h0M154.7,117.9h0M154.7,103.6h0M154.7,63.3h0M154.7,58.0h0M159.1,150.1h0M159.1,127.3h0M159.1,122.6h0M159.1,117.9h0M159.1,108.4h0M163.5,127.3h0M163.5,122.6h0M163.5,117.9h0M163.5,108.4h0M167.8,113.2h0M167.8,108.4h0M172.2,122.6h0M172.2,117.9h0M172.2,113.2h0M172.2,108.4h0M176.5,127.3h0M176.5,122.6h0M176.5,117.9h0M176.5,113.2h0M180.9,127.3h0M180.9,122.6h0M180.9,117.9h0M180.9,113.2h0M185.2,122.6h0M185.2,117.9h0M189.6,122.6h0M189.6,117.9h0M189.6,113.2h0M189.6,108.4h0M189.6,103.6h0M189.6,98.7h0M193.9,122.6h0M193.9,117.9h0M193.9,113.2h0M193.9,108.4h0M193.9,103.6h0M193.9,98.7h0M198.3,122.6h0M198.3,117.9h0M198.3,113.2h0M198.3,108.4h0M198.3,103.6h0M198.3,98.7h0M202.7,122.6h0M202.7,117.9h0M202.7,113.2h0M202.7,108.4h0M202.7,103.6h0M202.7,98.7h0M207.0,122.6h0M207.0,117.9h0M207.0,113.2h0M207.0,108.4h0M207.0,103.6h0M207.0,98.7h0M211.4,122.6h0M211.4,117.9h0M211.4,113.2h0M211.4,108.4h0M211.4,103.6h0M211.4,98.7h0M211.4,93.8h0M215.7,113.2h0M215.7,108.4h0M215.7,103.6h0M215.7,98.7h0M215.7,93.8h0M220.1,108.4h0M220.1,103.6h0M220.1,98.7h0M220.1,93.8h0M224.4,108.4h0M224.4,103.6h0M224.4,98.7h0M224.4,93.8h0" stroke="#151515" stroke-width="1.65" stroke-linecap="round" fill="none"/>
<polyline points="74.59,112.21 78.51,112.69 82.87,112.21 87.66,112.21 92.01,111.26 95.93,111.26 96.81,113.16 98.55,114.11 99.42,116.01 100.29,117.90 101.60,118.84 102.90,119.31 103.77,119.78 105.08,121.66 106.39,123.07 109.00,123.53 112.05,123.07 109.87,123.53 107.70,124.47 106.82,125.40 107.70,126.80 109.87,129.12 111.62,131.43 114.23,132.82 116.41,132.82 119.02,131.43 120.33,129.58 121.20,126.33 122.51,126.33 122.51,129.58 123.81,131.43 123.38,133.74 122.94,136.95 123.38,140.15 123.81,142.89 124.68,146.97 125.55,150.58 126.43,154.18 127.73,156.86 129.04,159.99 130.78,163.55 131.65,166.21 132.52,169.30 134.27,172.83 135.57,175.03 136.88,177.67 138.19,181.17 138.62,183.36 139.93,185.98 141.24,187.72 142.98,189.46 144.29,189.46 146.46,186.85 147.77,185.11 151.26,184.23 149.95,182.92 151.69,179.86 154.30,179.86 153.87,177.23 153.87,174.59 154.30,172.39 155.61,169.75 156.05,167.09 155.61,164.43 155.18,161.77 155.18,159.10 156.05,156.86 158.66,155.97 159.97,154.62 162.15,153.28 164.76,152.38 164.76,151.03 166.07,149.23 169.11,146.97 171.73,144.70 173.47,142.89 175.65,140.61 177.39,139.24 180.00,137.41 182.62,136.50 184.80,133.74 184.36,131.89 185.23,129.58 186.97,129.12 188.72,128.66 190.46,129.12 192.20,129.12 194.38,128.66 197.43,127.73 199.61,127.73 200.91,125.87 202.66,123.53 204.83,124.47 206.14,125.87 206.58,128.19 207.01,130.97 208.32,133.28" fill="none" stroke="#000" stroke-width="0.75" stroke-linejoin="round"/>
<polyline points="74.59,112.21 75.46,107.43 77.64,105.99 81.56,105.02 81.99,102.61 79.82,102.12 79.82,97.25 75.90,95.78 74.15,93.81 71.54,89.86 78.51,91.84 83.30,91.34 86.35,90.85 89.40,91.34 94.63,89.86 95.50,84.36 97.68,82.35 101.16,81.34 103.34,79.82 105.95,80.83 108.13,79.31 109.00,73.70 111.18,72.67 112.49,71.64 110.74,68.53 115.10,68.53 115.97,66.44 118.15,62.25 117.71,59.60 116.41,57.47 119.02,55.33 122.51,53.72 126.43,52.65 130.78,52.11 133.83,52.65" fill="none" stroke="#000" stroke-width="0.75" stroke-linejoin="round"/>
<polyline points="133.83,52.65 136.44,54.26 138.19,58.01 141.67,60.13 145.16,60.66 148.64,59.07 152.56,60.13 155.61,61.19 154.30,65.40 151.69,67.49 149.51,70.60 151.69,73.70 148.21,75.75 149.08,79.31 149.08,82.35 151.69,83.36 153.87,84.36 156.05,85.87 159.10,87.37 161.71,86.87 163.89,88.36 167.81,91.34 169.99,92.33 173.04,94.31 176.96,95.78 180.44,97.74 183.05,98.72 186.10,99.20 190.02,99.20 193.07,98.23 196.56,97.74 200.04,97.74 203.53,99.20 205.71,99.69 209.19,99.20 212.67,95.78 216.60,92.83 221.82,93.32 224.87,91.84 227.05,94.31 230.10,97.25 230.53,99.20 229.23,100.18 225.31,102.12 222.26,104.54 220.95,106.95 220.08,109.83 218.77,112.69 218.34,114.59 216.60,118.37 213.55,117.90 213.11,122.60 211.80,126.33 209.63,127.26 208.75,130.05 208.32,133.28" fill="none" stroke="#000" stroke-width="0.75" stroke-linejoin="round"/>
<polyline points="103.34,119.31 105.95,116.48 109.44,116.48 113.79,116.01 115.54,115.06 115.10,112.21 112.49,109.83 111.62,105.99 109.00,104.54 111.18,101.15 113.79,98.72 119.46,98.72 122.07,94.31 125.99,89.36 128.17,86.87 131.22,83.86 131.22,79.31 132.96,77.28 131.22,75.75 128.60,73.70 126.86,71.64 126.43,68.53 126.86,65.40 125.55,62.25 125.99,58.54 126.43,52.65" fill="none" stroke="#000" stroke-width="0.75" stroke-linejoin="round"/>
<polyline points="155.18,94.80 157.35,95.78 159.97,97.25 163.02,99.20 166.50,101.15 169.55,101.64 172.60,101.64 175.21,103.09 177.83,104.54 180.88,105.51 183.93,106.47 186.54,106.47 190.02,105.99 189.59,102.61 190.02,99.20" fill="none" stroke="#000" stroke-width="0.75" stroke-linejoin="round"/>
<polyline points="159.10,87.37 156.92,90.35 155.61,92.83 155.18,94.80" fill="none" stroke="#000" stroke-width="0.75" stroke-linejoin="round"/>
<polyline points="190.02,99.20 193.07,102.12 193.51,103.09" fill="none" stroke="#000" stroke-width="0.75" stroke-linejoin="round"/>
<polyline points="193.51,103.09 196.56,104.54 200.04,104.54 203.96,104.54 207.45,104.06 206.58,101.15 205.71,99.69" fill="none" stroke="#000" stroke-width="0.75" stroke-linejoin="round"/>
<polyline points="190.02,105.99 191.77,105.51 193.94,106.95 196.12,108.39 197.65,108.87 197.65,111.74 200.48,112.21 204.83,112.45 207.01,112.69 208.75,113.64 207.88,115.54 206.58,116.96 205.27,117.43 204.40,119.31 203.53,120.25 203.96,122.60 205.27,123.07 206.14,120.25 207.01,119.78 208.32,119.31 208.75,121.66 209.19,124.00 209.63,127.26" fill="none" stroke="#000" stroke-width="0.75" stroke-linejoin="round"/>
<polyline points="190.02,105.99 192.20,108.39 190.46,110.30 192.64,112.21 190.02,114.59 192.64,116.48 193.07,120.25 192.20,123.07 193.94,127.26 194.38,128.66" fill="none" stroke="#000" stroke-width="0.75" stroke-linejoin="round"/>
<polyline points="154.30,182.05 155.61,182.05 157.35,183.80 158.66,185.98 160.40,187.72 162.15,191.64 163.02,194.25 161.71,196.85 159.53,198.15 157.35,199.02 155.18,197.72 154.30,195.11 153.87,192.07 153.87,189.03 154.30,185.98 154.30,182.05" fill="none" stroke="#000" stroke-width="0.75" stroke-linejoin="round"/>
<polyline points="189,127.3 192,127.9 195,127.2 197.5,126.6 200,126 202,125.2" fill="none" stroke="#000" stroke-width="2.1" stroke-linejoin="round"/>
<polyline points="198,119.2 199,121.5 199.4,124 200.3,126.2" fill="none" stroke="#000" stroke-width="2.0"/>
<polyline points="201.3,120.6 202.3,123 202.8,125.6" fill="none" stroke="#000" stroke-width="1.2"/>
<polyline points="194.5,126.5 195.5,124.5 197,123.5" fill="none" stroke="#000" stroke-width="1.0"/>
<path d="M209.9,164.6 C212,164.2 213.2,168 213,172 C212.8,176 212,179.6 210.2,179.8 C208.4,179.8 208,176 208.2,172 C208.4,168 208.8,165 209.9,164.6Z" fill="#bdf3fb"/>
<polyline points="211,165.3 210.9,168.5 210.6,171 210.9,172.8 210.3,174.5 209.9,176.5 209.4,178.4" fill="none" stroke="#000" stroke-width="1.6" stroke-linecap="round"/>
<circle cx="209.3" cy="178.4" r="0.8" fill="#000"/>
<path d="M213.4,191.8 C215,191.6 216.6,193 216.4,194.6 C216.2,196 214.6,196.2 213.8,195.2 C213,194.2 212.6,192.2 213.4,191.8Z" fill="#bdf3fb"/>
<polyline points="213.6,192.6 214.5,194.6" fill="none" stroke="#000" stroke-width="1.1"/>
<polyline points="211.8,186.2 212.3,187.8" fill="none" stroke="#333" stroke-width="0.7"/>
<circle cx="213.3" cy="160.5" r="0.5" fill="#444"/><circle cx="211.8" cy="162.8" r="0.4" fill="#444"/><circle cx="214.3" cy="170.5" r="0.4" fill="#444"/>
<circle cx="121.2" cy="172.5" r="0.45" fill="#555"/>
<circle cx="122.3" cy="171.2" r="0.45" fill="#555"/>
<circle cx="120.8" cy="174.8" r="0.45" fill="#555"/>
<circle cx="122.6" cy="175.5" r="0.45" fill="#555"/>
<circle cx="123.4" cy="173.4" r="0.45" fill="#555"/>
<circle cx="121.5" cy="177.8" r="0.45" fill="#555"/>
<circle cx="122" cy="184.2" r="0.45" fill="#555"/>
</g>
<rect x="72.20" y="52.50" width="156.60" height="150.30" fill="none" stroke="#000" stroke-width="2.5" />
<line x1="89.40" y1="51.30" x2="89.40" y2="44.30" stroke="#000" stroke-width="1.3"/>
<line x1="89.40" y1="204.00" x2="89.40" y2="211.20" stroke="#000" stroke-width="1.3"/>
<line x1="111.18" y1="51.30" x2="111.18" y2="44.30" stroke="#000" stroke-width="1.3"/>
<line x1="111.18" y1="204.00" x2="111.18" y2="211.20" stroke="#000" stroke-width="1.3"/>
<line x1="132.96" y1="51.30" x2="132.96" y2="44.30" stroke="#000" stroke-width="1.3"/>
<line x1="132.96" y1="204.00" x2="132.96" y2="211.20" stroke="#000" stroke-width="1.3"/>
<line x1="154.74" y1="51.30" x2="154.74" y2="44.30" stroke="#000" stroke-width="1.3"/>
<line x1="154.74" y1="204.00" x2="154.74" y2="211.20" stroke="#000" stroke-width="1.3"/>
<line x1="176.52" y1="51.30" x2="176.52" y2="44.30" stroke="#000" stroke-width="1.3"/>
<line x1="176.52" y1="204.00" x2="176.52" y2="211.20" stroke="#000" stroke-width="1.3"/>
<line x1="198.30" y1="51.30" x2="198.30" y2="44.30" stroke="#000" stroke-width="1.3"/>
<line x1="198.30" y1="204.00" x2="198.30" y2="211.20" stroke="#000" stroke-width="1.3"/>
<line x1="220.08" y1="51.30" x2="220.08" y2="44.30" stroke="#000" stroke-width="1.3"/>
<line x1="220.08" y1="204.00" x2="220.08" y2="211.20" stroke="#000" stroke-width="1.3"/>
<line x1="71.00" y1="63.30" x2="63.90" y2="63.30" stroke="#000" stroke-width="1.3"/>
<line x1="230.00" y1="63.30" x2="237.10" y2="63.30" stroke="#000" stroke-width="1.3"/>
<line x1="71.00" y1="88.86" x2="63.90" y2="88.86" stroke="#000" stroke-width="1.3"/>
<line x1="230.00" y1="88.86" x2="237.10" y2="88.86" stroke="#000" stroke-width="1.3"/>
<line x1="71.00" y1="113.16" x2="63.90" y2="113.16" stroke="#000" stroke-width="1.3"/>
<line x1="230.00" y1="113.16" x2="237.10" y2="113.16" stroke="#000" stroke-width="1.3"/>
<line x1="71.00" y1="136.50" x2="63.90" y2="136.50" stroke="#000" stroke-width="1.3"/>
<line x1="230.00" y1="136.50" x2="237.10" y2="136.50" stroke="#000" stroke-width="1.3"/>
<line x1="71.00" y1="159.10" x2="63.90" y2="159.10" stroke="#000" stroke-width="1.3"/>
<line x1="230.00" y1="159.10" x2="237.10" y2="159.10" stroke="#000" stroke-width="1.3"/>
<line x1="71.00" y1="181.17" x2="63.90" y2="181.17" stroke="#000" stroke-width="1.3"/>
<line x1="230.00" y1="181.17" x2="237.10" y2="181.17" stroke="#000" stroke-width="1.3"/>
<line x1="71.00" y1="202.91" x2="63.90" y2="202.91" stroke="#000" stroke-width="1.3"/>
<line x1="230.00" y1="202.91" x2="237.10" y2="202.91" stroke="#000" stroke-width="1.3"/>
<text x="224.50" y="61.80" font-size="9.4" font-family="Liberation Serif, serif" font-weight="bold" text-anchor="end" >(c)</text>
</g>
<g transform="translate(0,202.2)">
<clipPath id="clip3"><rect x="72.2" y="52.5" width="156.60000000000002" height="150.3"/></clipPath>
<rect x="72.20" y="52.50" width="156.60" height="150.30" fill="#dcdcdc" stroke="none" stroke-width="0" />
<clipPath id="mask3"><polygon points="113.90,47.80 155.40,47.80 155.40,54.10 155.90,57.20 156.50,62.60 155.40,66.80 153.30,71.10 152.20,75.30 152.70,77.40 155.40,81.70 157.50,84.90 160.70,86.20 164.70,86.20 169.00,88.10 169.60,90.50 175.70,91.20 177.60,93.00 178.20,95.50 185.60,95.80 196.60,96.10 206.50,95.50 208.90,93.00 211.40,91.80 216.30,91.80 223.70,91.20 226.10,92.40 233.30,92.40 233.30,108.40 224.90,109.60 221.20,112.10 218.80,114.50 215.10,115.10 213.80,119.40 213.20,125.60 212.60,133.00 204.60,133.00 204.00,129.90 194.20,128.00 189.30,128.00 188.50,127.50 187.70,130.00 186.40,132.40 186.00,135.80 183.50,137.40 177.70,140.80 176.00,142.40 173.50,144.90 171.00,147.40 169.40,149.90 166.10,152.40 165.20,154.90 161.90,156.10 157.80,157.40 156.90,159.00 156.50,165.70 156.20,175.80 156.50,178.80 157.50,182.10 159.90,182.70 160.90,184.10 160.50,194.00 157.50,195.40 152.20,195.40 152.20,188.00 149.60,188.40 147.60,190.00 147.20,192.00 140.30,192.00 139.60,189.40 137.30,187.40 135.30,184.70 134.90,179.40 133.90,174.80 131.00,171.40 130.60,166.80 130.30,162.80 127.20,160.40 122.50,155.70 122.20,145.20 121.80,135.20 121.40,133.50 112.20,133.50 108.50,132.70 106.80,129.80 104.30,128.60 103.50,121.90 102.30,120.30 96.40,119.40 95.60,116.50 93.90,115.70 85.10,115.60 78.90,114.50 73.50,113.70 66.30,113.70 66.30,107.50 73.60,107.50 74.60,106.40 75.90,105.00 78.10,102.80 79.10,100.30 78.60,97.80 76.10,96.10 73.60,95.20 66.30,95.20 66.30,87.00 73.50,87.00 74.40,90.00 77.40,91.20 82.80,90.80 88.90,90.00 91.90,88.90 94.20,86.20 95.70,83.10 98.00,81.60 100.30,80.10 103.40,78.60 106.50,75.30 108.10,71.10 109.70,68.40 111.80,64.70 112.90,61.50 113.40,57.20 113.90,54.10"/></clipPath>
<g clip-path="url(#clip3)">
<g clip-path="url(#mask3)">
<polygon points="113.90,47.80 155.40,47.80 155.40,54.10 155.90,57.20 156.50,62.60 155.40,66.80 153.30,71.10 152.20,75.30 152.70,77.40 155.40,81.70 157.50,84.90 160.70,86.20 164.70,86.20 169.00,88.10 169.60,90.50 175.70,91.20 177.60,93.00 178.20,95.50 185.60,95.80 196.60,96.10 206.50,95.50 208.90,93.00 211.40,91.80 216.30,91.80 223.70,91.20 226.10,92.40 233.30,92.40 233.30,108.40 224.90,109.60 221.20,112.10 218.80,114.50 215.10,115.10 213.80,119.40 213.20,125.60 212.60,133.00 204.60,133.00 204.00,129.90 194.20,128.00 189.30,128.00 188.50,127.50 187.70,130.00 186.40,132.40 186.00,135.80 183.50,137.40 177.70,140.80 176.00,142.40 173.50,144.90 171.00,147.40 169.40,149.90 166.10,152.40 165.20,154.90 161.90,156.10 157.80,157.40 156.90,159.00 156.50,165.70 156.20,175.80 156.50,178.80 157.50,182.10 159.90,182.70 160.90,184.10 160.50,194.00 157.50,195.40 152.20,195.40 152.20,188.00 149.60,188.40 147.60,190.00 147.20,192.00 140.30,192.00 139.60,189.40 137.30,187.40 135.30,184.70 134.90,179.40 133.90,174.80 131.00,171.40 130.60,166.80 130.30,162.80 127.20,160.40 122.50,155.70 122.20,145.20 121.80,135.20 121.40,133.50 112.20,133.50 108.50,132.70 106.80,129.80 104.30,128.60 103.50,121.90 102.30,120.30 96.40,119.40 95.60,116.50 93.90,115.70 85.10,115.60 78.90,114.50 73.50,113.70 66.30,113.70 66.30,107.50 73.60,107.50 74.60,106.40 75.90,105.00 78.10,102.80 79.10,100.30 78.60,97.80 76.10,96.10 73.60,95.20 66.30,95.20 66.30,87.00 73.50,87.00 74.40,90.00 77.40,91.20 82.80,90.80 88.90,90.00 91.90,88.90 94.20,86.20 95.70,83.10 98.00,81.60 100.30,80.10 103.40,78.60 106.50,75.30 108.10,71.10 109.70,68.40 111.80,64.70 112.90,61.50 113.40,57.20 113.90,54.10" fill="#bff8fe"/>
<path d="M93.30,80.70 C95.59,79.27 102.19,77.31 105.20,76.70 C108.21,76.09 113.23,75.74 115.90,76.10 C118.57,76.46 123.08,78.25 125.20,79.40 C127.32,80.55 130.39,83.11 131.80,84.70 C133.21,86.29 134.71,89.26 135.80,91.30 C136.89,93.34 138.11,97.51 140.00,100.00 C141.89,102.49 147.33,106.67 150.00,110.00 C152.67,113.33 159.33,121.00 160.00,125.00 C160.67,129.00 163.00,138.00 155.00,140.00 C147.00,142.00 111.87,140.00 100.00,140.00 C88.13,140.00 70.53,146.00 66.00,140.00 C61.47,134.00 64.13,101.31 66.00,95.00 C67.87,88.69 77.07,93.71 80.00,92.70 C82.93,91.69 86.23,89.00 88.00,87.40 C89.77,85.80 91.01,82.13 93.30,80.70Z" fill="#98ebfb"/>
<path d="M129.10,82.00 C130.51,79.88 138.05,80.11 141.10,79.40 C144.15,78.69 149.75,75.29 152.00,76.70 C154.25,78.11 158.00,83.97 158.00,90.00 C158.00,96.03 153.55,118.35 152.00,121.90 C150.45,125.45 148.21,118.72 146.40,116.60 C144.59,114.48 140.52,108.84 138.40,106.00 C136.28,103.16 131.74,98.50 130.50,95.30 C129.26,92.10 127.69,84.12 129.10,82.00Z" fill="#bff8fe"/>
<path d="M142.40,52.00 C144.03,50.83 154.19,50.65 156.00,52.00 C157.81,53.35 156.44,59.69 156.00,62.10 C155.56,64.51 153.98,69.22 152.70,70.10 C151.42,70.98 147.59,69.94 146.40,68.70 C145.21,67.46 144.33,63.03 143.80,60.80 C143.27,58.57 140.77,53.17 142.40,52.00Z" fill="#4aa6ee"/>
<path d="M150.00,96.70 C152.13,91.90 163.33,96.76 166.00,98.00 C168.67,99.24 169.12,103.52 170.00,106.00 C170.88,108.48 171.37,113.77 172.60,116.60 C173.83,119.43 177.79,124.88 179.20,127.20 C180.61,129.52 187.09,133.09 183.20,134.00 C179.31,134.91 154.43,138.97 150.00,134.00 C145.57,129.03 147.87,101.50 150.00,96.70Z" fill="#98ebfb"/>
<path d="M162.00,103.30 C162.35,102.94 164.25,102.94 164.60,103.30 C164.95,103.66 164.95,105.64 164.60,106.00 C164.25,106.36 162.35,106.36 162.00,106.00 C161.65,105.64 161.65,103.66 162.00,103.30Z" fill="#4aa6ee"/>
<path d="M122.60,138.10 C125.08,135.79 137.54,130.21 142.50,128.80 C147.46,127.39 155.55,126.97 159.80,127.50 C164.05,128.03 172.45,131.04 174.40,132.80 C176.35,134.56 175.99,138.22 174.40,140.70 C172.81,143.18 164.81,148.91 162.50,151.40 C160.19,153.89 157.99,157.09 157.10,159.40 C156.21,161.71 157.04,166.94 155.80,168.70 C154.56,170.46 149.92,172.60 147.80,172.60 C145.68,172.60 141.31,170.46 139.90,168.70 C138.49,166.94 138.63,161.71 137.20,159.40 C135.77,157.09 130.97,153.17 129.20,151.40 C127.43,149.63 124.78,147.87 123.90,146.10 C123.02,144.33 120.12,140.41 122.60,138.10Z" fill="#98ebfb"/>
<path d="M66.00,104.00 C67.16,102.77 72.13,105.23 74.70,104.80 C77.27,104.37 83.01,101.88 85.30,100.80 C87.59,99.72 89.59,97.97 91.90,96.70 C94.21,95.43 100.12,92.63 102.60,91.30 C105.08,89.97 108.38,87.85 110.50,86.70 C112.62,85.55 116.54,83.14 118.50,82.70 C120.46,82.26 123.96,82.60 125.20,83.40 C126.44,84.20 127.80,87.11 127.80,88.70 C127.80,90.29 125.55,93.34 125.20,95.30 C124.85,97.26 124.85,101.08 125.20,103.40 C125.55,105.72 126.04,110.75 127.80,112.70 C129.56,114.65 136.45,116.40 138.40,118.00 C140.35,119.60 142.40,122.74 142.40,124.70 C142.40,126.66 140.17,130.93 138.40,132.70 C136.63,134.47 131.22,136.76 129.10,138.00 C126.98,139.24 123.55,142.36 122.50,142.00 C121.45,141.64 122.80,136.54 121.20,135.30 C119.60,134.06 112.63,133.75 110.50,132.70 C108.37,131.65 106.79,129.17 105.20,127.40 C103.61,125.63 101.25,121.00 98.60,119.40 C95.95,117.80 88.49,116.11 85.30,115.40 C82.11,114.69 77.27,114.29 74.70,114.10 C72.13,113.91 67.16,115.35 66.00,114.00 C64.84,112.65 64.84,105.23 66.00,104.00Z" fill="#4aa6ee"/>
<path d="M68.00,104.00 C69.60,103.12 77.16,103.65 80.00,103.40 C82.84,103.15 86.82,102.63 89.30,102.10 C91.78,101.57 96.12,99.23 98.60,99.40 C101.08,99.57 105.59,102.33 107.90,103.40 C110.21,104.47 114.13,106.16 115.90,107.40 C117.67,108.64 119.61,111.10 121.20,112.70 C122.79,114.30 126.56,117.44 127.80,119.40 C129.04,121.36 130.85,125.63 130.50,127.40 C130.15,129.17 127.15,131.99 125.20,132.70 C123.25,133.41 118.03,133.41 115.90,132.70 C113.77,131.99 110.97,129.17 109.20,127.40 C107.43,125.63 104.91,121.36 102.60,119.40 C100.29,117.44 94.91,113.94 91.90,112.70 C88.89,111.46 83.19,110.46 80.00,110.10 C76.81,109.74 69.60,110.81 68.00,110.00 C66.40,109.19 66.40,104.88 68.00,104.00Z" fill="#1d6dd0"/>
<path d="M98.60,107.40 C99.32,106.33 104.65,106.69 106.60,107.40 C108.55,108.11 111.96,111.10 113.20,112.70 C114.44,114.30 115.19,117.44 115.90,119.40 C116.61,121.36 118.69,125.81 118.50,127.40 C118.31,128.99 115.74,130.95 114.50,131.30 C113.26,131.65 110.44,131.05 109.20,130.00 C107.96,128.95 106.27,125.35 105.20,123.40 C104.13,121.45 102.08,117.53 101.20,115.40 C100.32,113.27 97.88,108.47 98.60,107.40Z" fill="#0a3585"/>
</g>
<path d="M76.3,113.2h0M76.3,108.4h0M76.3,93.8h0M80.7,113.2h0M80.7,108.4h0M80.7,103.6h0M80.7,98.7h0M80.7,93.8h0M85.0,113.2h0M85.0,108.4h0M85.0,103.6h0M85.0,98.7h0M85.0,93.8h0M89.4,113.2h0M89.4,108.4h0M89.4,103.6h0M89.4,98.7h0M89.4,93.8h0M93.8,113.2h0M93.8,108.4h0M93.8,103.6h0M93.8,98.7h0M93.8,93.8h0M93.8,88.9h0M98.1,117.9h0M98.1,113.2h0M98.1,108.4h0M98.1,103.6h0M98.1,98.7h0M98.1,93.8h0M98.1,88.9h0M102.5,117.9h0M102.5,113.2h0M102.5,108.4h0M102.5,103.6h0M102.5,98.7h0M102.5,93.8h0M102.5,88.9h0M102.5,83.9h0M106.8,127.3h0M106.8,122.6h0M106.8,117.9h0M106.8,113.2h0M106.8,108.4h0M106.8,103.6h0M106.8,98.7h0M106.8,93.8h0M106.8,88.9h0M106.8,83.9h0M106.8,78.8h0M111.2,131.9h0M111.2,127.3h0M111.2,122.6h0M111.2,117.9h0M111.2,113.2h0M111.2,108.4h0M111.2,103.6h0M111.2,98.7h0M111.2,93.8h0M111.2,88.9h0M111.2,83.9h0M111.2,78.8h0M111.2,73.7h0M111.2,68.5h0M115.5,131.9h0M115.5,127.3h0M115.5,122.6h0M115.5,117.9h0M115.5,113.2h0M115.5,108.4h0M115.5,103.6h0M115.5,98.7h0M115.5,93.8h0M115.5,88.9h0M115.5,83.9h0M115.5,78.8h0M115.5,73.7h0M115.5,68.5h0M115.5,63.3h0M115.5,58.0h0M119.9,131.9h0M119.9,127.3h0M119.9,122.6h0M119.9,117.9h0M119.9,113.2h0M119.9,108.4h0M119.9,103.6h0M119.9,98.7h0M119.9,93.8h0M119.9,88.9h0M119.9,83.9h0M119.9,78.8h0M119.9,73.7h0M119.9,68.5h0M119.9,63.3h0M119.9,58.0h0M124.2,154.6h0M124.2,150.1h0M124.2,145.6h0M124.2,141.1h0M124.2,136.5h0M124.2,131.9h0M124.2,127.3h0M124.2,122.6h0M124.2,117.9h0M124.2,113.2h0M124.2,108.4h0M124.2,103.6h0M124.2,98.7h0M124.2,93.8h0M124.2,88.9h0M124.2,83.9h0M124.2,78.8h0M124.2,73.7h0M124.2,68.5h0M124.2,63.3h0M124.2,58.0h0M128.6,159.1h0M128.6,154.6h0M128.6,150.1h0M128.6,145.6h0M128.6,141.1h0M128.6,136.5h0M128.6,131.9h0M128.6,127.3h0M128.6,122.6h0M128.6,117.9h0M128.6,113.2h0M128.6,108.4h0M128.6,103.6h0M128.6,98.7h0M128.6,93.8h0M128.6,88.9h0M128.6,83.9h0M128.6,78.8h0M128.6,73.7h0M128.6,68.5h0M128.6,63.3h0M128.6,58.0h0M133.0,172.4h0M133.0,168.0h0M133.0,163.5h0M133.0,159.1h0M133.0,154.6h0M133.0,150.1h0M133.0,145.6h0M133.0,141.1h0M133.0,136.5h0M133.0,131.9h0M133.0,127.3h0M133.0,122.6h0M133.0,117.9h0M133.0,113.2h0M133.0,108.4h0M133.0,103.6h0M133.0,98.7h0M133.0,93.8h0M133.0,88.9h0M133.0,83.9h0M133.0,78.8h0M133.0,73.7h0M133.0,68.5h0M133.0,63.3h0M133.0,58.0h0M137.3,185.5h0M137.3,181.2h0M137.3,176.8h0M137.3,172.4h0M137.3,168.0h0M137.3,163.5h0M137.3,159.1h0M137.3,154.6h0M137.3,150.1h0M137.3,145.6h0M137.3,141.1h0M137.3,136.5h0M137.3,131.9h0M137.3,127.3h0M137.3,122.6h0M137.3,117.9h0M137.3,113.2h0M137.3,108.4h0M137.3,93.8h0M137.3,88.9h0M137.3,83.9h0M137.3,78.8h0M137.3,73.7h0M137.3,68.5h0M137.3,63.3h0M137.3,58.0h0M141.7,189.9h0M141.7,185.5h0M141.7,181.2h0M141.7,176.8h0M141.7,172.4h0M141.7,168.0h0M141.7,163.5h0M141.7,159.1h0M141.7,154.6h0M141.7,150.1h0M141.7,145.6h0M141.7,141.1h0M141.7,136.5h0M141.7,131.9h0M141.7,127.3h0M141.7,122.6h0M141.7,117.9h0M141.7,113.2h0M141.7,108.4h0M141.7,93.8h0M141.7,88.9h0M141.7,83.9h0M141.7,78.8h0M141.7,73.7h0M141.7,68.5h0M141.7,63.3h0M141.7,58.0h0M146.0,189.9h0M146.0,185.5h0M146.0,181.2h0M146.0,176.8h0M146.0,172.4h0M146.0,168.0h0M146.0,163.5h0M146.0,159.1h0M146.0,154.6h0M146.0,150.1h0M146.0,145.6h0M146.0,141.1h0M146.0,136.5h0M146.0,131.9h0M146.0,127.3h0M146.0,122.6h0M146.0,117.9h0M146.0,113.2h0M146.0,108.4h0M146.0,93.8h0M146.0,88.9h0M146.0,83.9h0M146.0,78.8h0M146.0,73.7h0M146.0,68.5h0M146.0,63.3h0M146.0,58.0h0M150.4,185.5h0M150.4,181.2h0M150.4,176.8h0M150.4,172.4h0M150.4,168.0h0M150.4,163.5h0M150.4,159.1h0M150.4,154.6h0M150.4,150.1h0M150.4,145.6h0M150.4,141.1h0M150.4,136.5h0M150.4,131.9h0M150.4,127.3h0M150.4,122.6h0M150.4,117.9h0M150.4,113.2h0M150.4,108.4h0M150.4,103.6h0M150.4,98.7h0M150.4,93.8h0M150.4,88.9h0M150.4,83.9h0M150.4,78.8h0M150.4,73.7h0M150.4,68.5h0M150.4,63.3h0M150.4,58.0h0M154.7,194.2h0M154.7,189.9h0M154.7,185.5h0M154.7,181.2h0M154.7,176.8h0M154.7,172.4h0M154.7,168.0h0M154.7,163.5h0M154.7,159.1h0M154.7,154.6h0M154.7,150.1h0M154.7,145.6h0M154.7,141.1h0M154.7,136.5h0M154.7,131.9h0M154.7,127.3h0M154.7,122.6h0M154.7,117.9h0M154.7,113.2h0M154.7,108.4h0M154.7,103.6h0M154.7,98.7h0M154.7,93.8h0M154.7,88.9h0M154.7,83.9h0M154.7,63.3h0M154.7,58.0h0M159.1,189.9h0M159.1,185.5h0M159.1,154.6h0M159.1,150.1h0M159.1,145.6h0M159.1,141.1h0M159.1,136.5h0M159.1,131.9h0M159.1,127.3h0M159.1,122.6h0M159.1,117.9h0M159.1,113.2h0M159.1,108.4h0M159.1,103.6h0M159.1,98.7h0M159.1,93.8h0M159.1,88.9h0M163.5,154.6h0M163.5,150.1h0M163.5,145.6h0M163.5,141.1h0M163.5,136.5h0M163.5,131.9h0M163.5,127.3h0M163.5,122.6h0M163.5,117.9h0M163.5,113.2h0M163.5,108.4h0M163.5,103.6h0M163.5,98.7h0M163.5,93.8h0M163.5,88.9h0M167.8,150.1h0M167.8,145.6h0M167.8,141.1h0M167.8,136.5h0M167.8,131.9h0M167.8,117.9h0M167.8,113.2h0M167.8,108.4h0M167.8,103.6h0M167.8,98.7h0M167.8,93.8h0M167.8,88.9h0M172.2,141.1h0M172.2,136.5h0M172.2,131.9h0M172.2,117.9h0M172.2,113.2h0M172.2,108.4h0M172.2,103.6h0M172.2,98.7h0M172.2,93.8h0M176.5,141.1h0M176.5,136.5h0M176.5,131.9h0M176.5,117.9h0M176.5,113.2h0M176.5,108.4h0M176.5,103.6h0M176.5,98.7h0M176.5,93.8h0M180.9,136.5h0M180.9,131.9h0M180.9,117.9h0M180.9,113.2h0M180.9,108.4h0M180.9,103.6h0M180.9,98.7h0M185.2,131.9h0M185.2,117.9h0M185.2,113.2h0M185.2,108.4h0M185.2,103.6h0M185.2,98.7h0M189.6,127.3h0M189.6,122.6h0M189.6,117.9h0M189.6,113.2h0M189.6,108.4h0M189.6,103.6h0M189.6,98.7h0M193.9,127.3h0M193.9,122.6h0M193.9,117.9h0M193.9,113.2h0M193.9,108.4h0M193.9,103.6h0M193.9,98.7h0M198.3,127.3h0M198.3,122.6h0M198.3,117.9h0M198.3,113.2h0M198.3,108.4h0M198.3,103.6h0M198.3,98.7h0M202.7,127.3h0M202.7,122.6h0M202.7,117.9h0M202.7,113.2h0M202.7,108.4h0M202.7,103.6h0M202.7,98.7h0M207.0,131.9h0M207.0,127.3h0M207.0,122.6h0M207.0,117.9h0M207.0,113.2h0M207.0,108.4h0M207.0,103.6h0M207.0,98.7h0M211.4,131.9h0M211.4,127.3h0M211.4,122.6h0M211.4,117.9h0M211.4,113.2h0M211.4,108.4h0M211.4,103.6h0M211.4,98.7h0M211.4,93.8h0M215.7,113.2h0M215.7,108.4h0M215.7,103.6h0M215.7,98.7h0M215.7,93.8h0M220.1,108.4h0M220.1,103.6h0M220.1,98.7h0M220.1,93.8h0M224.4,108.4h0M224.4,103.6h0M224.4,98.7h0M224.4,93.8h0" stroke="#151515" stroke-width="1.65" stroke-linecap="round" fill="none"/>
<polyline points="74.59,112.21 78.51,112.69 82.87,112.21 87.66,112.21 92.01,111.26 95.93,111.26 96.81,113.16 98.55,114.11 99.42,116.01 100.29,117.90 101.60,118.84 102.90,119.31 103.77,119.78 105.08,121.66 106.39,123.07 109.00,123.53 112.05,123.07 109.87,123.53 107.70,124.47 106.82,125.40 107.70,126.80 109.87,129.12 111.62,131.43 114.23,132.82 116.41,132.82 119.02,131.43 120.33,129.58 121.20,126.33 122.51,126.33 122.51,129.58 123.81,131.43 123.38,133.74 122.94,136.95 123.38,140.15 123.81,142.89 124.68,146.97 125.55,150.58 126.43,154.18 127.73,156.86 129.04,159.99 130.78,163.55 131.65,166.21 132.52,169.30 134.27,172.83 135.57,175.03 136.88,177.67 138.19,181.17 138.62,183.36 139.93,185.98 141.24,187.72 142.98,189.46 144.29,189.46 146.46,186.85 147.77,185.11 151.26,184.23 149.95,182.92 151.69,179.86 154.30,179.86 153.87,177.23 153.87,174.59 154.30,172.39 155.61,169.75 156.05,167.09 155.61,164.43 155.18,161.77 155.18,159.10 156.05,156.86 158.66,155.97 159.97,154.62 162.15,153.28 164.76,152.38 164.76,151.03 166.07,149.23 169.11,146.97 171.73,144.70 173.47,142.89 175.65,140.61 177.39,139.24 180.00,137.41 182.62,136.50 184.80,133.74 184.36,131.89 185.23,129.58 186.97,129.12 188.72,128.66 190.46,129.12 192.20,129.12 194.38,128.66 197.43,127.73 199.61,127.73 200.91,125.87 202.66,123.53 204.83,124.47 206.14,125.87 206.58,128.19 207.01,130.97 208.32,133.28" fill="none" stroke="#000" stroke-width="0.75" stroke-linejoin="round"/>
<polyline points="74.59,112.21 75.46,107.43 77.64,105.99 81.56,105.02 81.99,102.61 79.82,102.12 79.82,97.25 75.90,95.78 74.15,93.81 71.54,89.86 78.51,91.84 83.30,91.34 86.35,90.85 89.40,91.34 94.63,89.86 95.50,84.36 97.68,82.35 101.16,81.34 103.34,79.82 105.95,80.83 108.13,79.31 109.00,73.70 111.18,72.67 112.49,71.64 110.74,68.53 115.10,68.53 115.97,66.44 118.15,62.25 117.71,59.60 116.41,57.47 119.02,55.33 122.51,53.72 126.43,52.65 130.78,52.11 133.83,52.65" fill="none" stroke="#000" stroke-width="0.75" stroke-linejoin="round"/>
<polyline points="133.83,52.65 136.44,54.26 138.19,58.01 141.67,60.13 145.16,60.66 148.64,59.07 152.56,60.13 155.61,61.19 154.30,65.40 151.69,67.49 149.51,70.60 151.69,73.70 148.21,75.75 149.08,79.31 149.08,82.35 151.69,83.36 153.87,84.36 156.05,85.87 159.10,87.37 161.71,86.87 163.89,88.36 167.81,91.34 169.99,92.33 173.04,94.31 176.96,95.78 180.44,97.74 183.05,98.72 186.10,99.20 190.02,99.20 193.07,98.23 196.56,97.74 200.04,97.74 203.53,99.20 205.71,99.69 209.19,99.20 212.67,95.78 216.60,92.83 221.82,93.32 224.87,91.84 227.05,94.31 230.10,97.25 230.53,99.20 229.23,100.18 225.31,102.12 222.26,104.54 220.95,106.95 220.08,109.83 218.77,112.69 218.34,114.59 216.60,118.37 213.55,117.90 213.11,122.60 211.80,126.33 209.63,127.26 208.75,130.05 208.32,133.28" fill="none" stroke="#000" stroke-width="0.75" stroke-linejoin="round"/>
<polyline points="103.34,119.31 105.95,116.48 109.44,116.48 113.79,116.01 115.54,115.06 115.10,112.21 112.49,109.83 111.62,105.99 109.00,104.54 111.18,101.15 113.79,98.72 119.46,98.72 122.07,94.31 125.99,89.36 128.17,86.87 131.22,83.86 131.22,79.31 132.96,77.28 131.22,75.75 128.60,73.70 126.86,71.64 126.43,68.53 126.86,65.40 125.55,62.25 125.99,58.54 126.43,52.65" fill="none" stroke="#000" stroke-width="0.75" stroke-linejoin="round"/>
<polyline points="155.18,94.80 157.35,95.78 159.97,97.25 163.02,99.20 166.50,101.15 169.55,101.64 172.60,101.64 175.21,103.09 177.83,104.54 180.88,105.51 183.93,106.47 186.54,106.47 190.02,105.99 189.59,102.61 190.02,99.20" fill="none" stroke="#000" stroke-width="0.75" stroke-linejoin="round"/>
<polyline points="159.10,87.37 156.92,90.35 155.61,92.83 155.18,94.80" fill="none" stroke="#000" stroke-width="0.75" stroke-linejoin="round"/>
<polyline points="190.02,99.20 193.07,102.12 193.51,103.09" fill="none" stroke="#000" stroke-width="0.75" stroke-linejoin="round"/>
<polyline points="193.51,103.09 196.56,104.54 200.04,104.54 203.96,104.54 207.45,104.06 206.58,101.15 205.71,99.69" fill="none" stroke="#000" stroke-width="0.75" stroke-linejoin="round"/>
<polyline points="190.02,105.99 191.77,105.51 193.94,106.95 196.12,108.39 197.65,108.87 197.65,111.74 200.48,112.21 204.83,112.45 207.01,112.69 208.75,113.64 207.88,115.54 206.58,116.96 205.27,117.43 204.40,119.31 203.53,120.25 203.96,122.60 205.27,123.07 206.14,120.25 207.01,119.78 208.32,119.31 208.75,121.66 209.19,124.00 209.63,127.26" fill="none" stroke="#000" stroke-width="0.75" stroke-linejoin="round"/>
<polyline points="190.02,105.99 192.20,108.39 190.46,110.30 192.64,112.21 190.02,114.59 192.64,116.48 193.07,120.25 192.20,123.07 193.94,127.26 194.38,128.66" fill="none" stroke="#000" stroke-width="0.75" stroke-linejoin="round"/>
<polyline points="154.30,182.05 155.61,182.05 157.35,183.80 158.66,185.98 160.40,187.72 162.15,191.64 163.02,194.25 161.71,196.85 159.53,198.15 157.35,199.02 155.18,197.72 154.30,195.11 153.87,192.07 153.87,189.03 154.30,185.98 154.30,182.05" fill="none" stroke="#000" stroke-width="0.75" stroke-linejoin="round"/>
<polyline points="189,127.3 192,127.9 195,127.2 197.5,126.6 200,126 202,125.2" fill="none" stroke="#000" stroke-width="2.1" stroke-linejoin="round"/>
<polyline points="198,119.2 199,121.5 199.4,124 200.3,126.2" fill="none" stroke="#000" stroke-width="2.0"/>
<polyline points="201.3,120.6 202.3,123 202.8,125.6" fill="none" stroke="#000" stroke-width="1.2"/>
<polyline points="194.5,126.5 195.5,124.5 197,123.5" fill="none" stroke="#000" stroke-width="1.0"/>
<path d="M209.9,164.6 C212,164.2 213.2,168 213,172 C212.8,176 212,179.6 210.2,179.8 C208.4,179.8 208,176 208.2,172 C208.4,168 208.8,165 209.9,164.6Z" fill="#bdf3fb"/>
<polyline points="211,165.3 210.9,168.5 210.6,171 210.9,172.8 210.3,174.5 209.9,176.5 209.4,178.4" fill="none" stroke="#000" stroke-width="1.6" stroke-linecap="round"/>
<circle cx="209.3" cy="178.4" r="0.8" fill="#000"/>
<path d="M213.4,191.8 C215,191.6 216.6,193 216.4,194.6 C216.2,196 214.6,196.2 213.8,195.2 C213,194.2 212.6,192.2 213.4,191.8Z" fill="#bdf3fb"/>
<polyline points="213.6,192.6 214.5,194.6" fill="none" stroke="#000" stroke-width="1.1"/>
<polyline points="211.8,186.2 212.3,187.8" fill="none" stroke="#333" stroke-width="0.7"/>
<circle cx="213.3" cy="160.5" r="0.5" fill="#444"/><circle cx="211.8" cy="162.8" r="0.4" fill="#444"/><circle cx="214.3" cy="170.5" r="0.4" fill="#444"/>
<circle cx="121.2" cy="172.5" r="0.45" fill="#555"/>
<circle cx="122.3" cy="171.2" r="0.45" fill="#555"/>
<circle cx="120.8" cy="174.8" r="0.45" fill="#555"/>
<circle cx="122.6" cy="175.5" r="0.45" fill="#555"/>
<circle cx="123.4" cy="173.4" r="0.45" fill="#555"/>
<circle cx="121.5" cy="177.8" r="0.45" fill="#555"/>
<circle cx="122" cy="184.2" r="0.45" fill="#555"/>
</g>
<rect x="72.20" y="52.50" width="156.60" height="150.30" fill="none" stroke="#000" stroke-width="2.5" />
<line x1="89.40" y1="51.30" x2="89.40" y2="44.30" stroke="#000" stroke-width="1.3"/>
<line x1="89.40" y1="204.00" x2="89.40" y2="211.20" stroke="#000" stroke-width="1.3"/>
<line x1="111.18" y1="51.30" x2="111.18" y2="44.30" stroke="#000" stroke-width="1.3"/>
<line x1="111.18" y1="204.00" x2="111.18" y2="211.20" stroke="#000" stroke-width="1.3"/>
<line x1="132.96" y1="51.30" x2="132.96" y2="44.30" stroke="#000" stroke-width="1.3"/>
<line x1="132.96" y1="204.00" x2="132.96" y2="211.20" stroke="#000" stroke-width="1.3"/>
<line x1="154.74" y1="51.30" x2="154.74" y2="44.30" stroke="#000" stroke-width="1.3"/>
<line x1="154.74" y1="204.00" x2="154.74" y2="211.20" stroke="#000" stroke-width="1.3"/>
<line x1="176.52" y1="51.30" x2="176.52" y2="44.30" stroke="#000" stroke-width="1.3"/>
<line x1="176.52" y1="204.00" x2="176.52" y2="211.20" stroke="#000" stroke-width="1.3"/>
<line x1="198.30" y1="51.30" x2="198.30" y2="44.30" stroke="#000" stroke-width="1.3"/>
<line x1="198.30" y1="204.00" x2="198.30" y2="211.20" stroke="#000" stroke-width="1.3"/>
<line x1="220.08" y1="51.30" x2="220.08" y2="44.30" stroke="#000" stroke-width="1.3"/>
<line x1="220.08" y1="204.00" x2="220.08" y2="211.20" stroke="#000" stroke-width="1.3"/>
<line x1="71.00" y1="63.30" x2="63.90" y2="63.30" stroke="#000" stroke-width="1.3"/>
<line x1="230.00" y1="63.30" x2="237.10" y2="63.30" stroke="#000" stroke-width="1.3"/>
<line x1="71.00" y1="88.86" x2="63.90" y2="88.86" stroke="#000" stroke-width="1.3"/>
<line x1="230.00" y1="88.86" x2="237.10" y2="88.86" stroke="#000" stroke-width="1.3"/>
<line x1="71.00" y1="113.16" x2="63.90" y2="113.16" stroke="#000" stroke-width="1.3"/>
<line x1="230.00" y1="113.16" x2="237.10" y2="113.16" stroke="#000" stroke-width="1.3"/>
<line x1="71.00" y1="136.50" x2="63.90" y2="136.50" stroke="#000" stroke-width="1.3"/>
<line x1="230.00" y1="136.50" x2="237.10" y2="136.50" stroke="#000" stroke-width="1.3"/>
<line x1="71.00" y1="159.10" x2="63.90" y2="159.10" stroke="#000" stroke-width="1.3"/>
<line x1="230.00" y1="159.10" x2="237.10" y2="159.10" stroke="#000" stroke-width="1.3"/>
<line x1="71.00" y1="181.17" x2="63.90" y2="181.17" stroke="#000" stroke-width="1.3"/>
<line x1="230.00" y1="181.17" x2="237.10" y2="181.17" stroke="#000" stroke-width="1.3"/>
<line x1="71.00" y1="202.91" x2="63.90" y2="202.91" stroke="#000" stroke-width="1.3"/>
<line x1="230.00" y1="202.91" x2="237.10" y2="202.91" stroke="#000" stroke-width="1.3"/>
<text x="224.50" y="61.80" font-size="9.4" font-family="Liberation Serif, serif" font-weight="bold" text-anchor="end" >(d)</text>
</g>
<g transform="translate(166.3,202.2)">
<clipPath id="clip4"><rect x="72.2" y="52.5" width="156.60000000000002" height="150.3"/></clipPath>
<rect x="72.20" y="52.50" width="156.60" height="150.30" fill="#dcdcdc" stroke="none" stroke-width="0" />
<clipPath id="mask4"><polygon points="113.90,47.80 155.40,47.80 155.40,54.10 155.90,57.20 156.50,62.60 155.40,66.80 153.30,71.10 152.20,75.30 152.70,77.40 155.40,81.70 157.50,84.90 160.70,86.20 164.70,86.20 169.00,88.10 169.60,90.50 175.70,91.20 177.60,93.00 178.20,95.50 185.60,95.80 196.60,96.10 206.50,95.50 208.90,93.00 211.40,91.80 216.30,91.80 223.70,91.20 226.10,92.40 233.30,92.40 233.30,108.40 224.90,109.60 221.20,112.10 218.80,114.50 215.10,115.10 213.80,119.40 213.20,125.60 212.60,133.00 204.60,133.00 204.00,129.90 194.20,128.00 189.30,128.00 188.50,127.50 187.70,130.00 186.40,132.40 186.00,135.80 183.50,137.40 177.70,140.80 176.00,142.40 173.50,144.90 171.00,147.40 169.40,149.90 166.10,152.40 165.20,154.90 161.90,156.10 157.80,157.40 156.90,159.00 156.50,165.70 156.20,175.80 156.50,178.80 157.50,182.10 159.90,182.70 160.90,184.10 160.50,194.00 157.50,195.40 152.20,195.40 152.20,188.00 149.60,188.40 147.60,190.00 147.20,192.00 140.30,192.00 139.60,189.40 137.30,187.40 135.30,184.70 134.90,179.40 133.90,174.80 131.00,171.40 130.60,166.80 130.30,162.80 127.20,160.40 122.50,155.70 122.20,145.20 121.80,135.20 121.40,133.50 112.20,133.50 108.50,132.70 106.80,129.80 104.30,128.60 103.50,121.90 102.30,120.30 96.40,119.40 95.60,116.50 93.90,115.70 85.10,115.60 78.90,114.50 73.50,113.70 66.30,113.70 66.30,107.50 73.60,107.50 74.60,106.40 75.90,105.00 78.10,102.80 79.10,100.30 78.60,97.80 76.10,96.10 73.60,95.20 66.30,95.20 66.30,87.00 73.50,87.00 74.40,90.00 77.40,91.20 82.80,90.80 88.90,90.00 91.90,88.90 94.20,86.20 95.70,83.10 98.00,81.60 100.30,80.10 103.40,78.60 106.50,75.30 108.10,71.10 109.70,68.40 111.80,64.70 112.90,61.50 113.40,57.20 113.90,54.10"/></clipPath>
<g clip-path="url(#clip4)">
<g clip-path="url(#mask4)">
<polygon points="113.90,47.80 155.40,47.80 155.40,54.10 155.90,57.20 156.50,62.60 155.40,66.80 153.30,71.10 152.20,75.30 152.70,77.40 155.40,81.70 157.50,84.90 160.70,86.20 164.70,86.20 169.00,88.10 169.60,90.50 175.70,91.20 177.60,93.00 178.20,95.50 185.60,95.80 196.60,96.10 206.50,95.50 208.90,93.00 211.40,91.80 216.30,91.80 223.70,91.20 226.10,92.40 233.30,92.40 233.30,108.40 224.90,109.60 221.20,112.10 218.80,114.50 215.10,115.10 213.80,119.40 213.20,125.60 212.60,133.00 204.60,133.00 204.00,129.90 194.20,128.00 189.30,128.00 188.50,127.50 187.70,130.00 186.40,132.40 186.00,135.80 183.50,137.40 177.70,140.80 176.00,142.40 173.50,144.90 171.00,147.40 169.40,149.90 166.10,152.40 165.20,154.90 161.90,156.10 157.80,157.40 156.90,159.00 156.50,165.70 156.20,175.80 156.50,178.80 157.50,182.10 159.90,182.70 160.90,184.10 160.50,194.00 157.50,195.40 152.20,195.40 152.20,188.00 149.60,188.40 147.60,190.00 147.20,192.00 140.30,192.00 139.60,189.40 137.30,187.40 135.30,184.70 134.90,179.40 133.90,174.80 131.00,171.40 130.60,166.80 130.30,162.80 127.20,160.40 122.50,155.70 122.20,145.20 121.80,135.20 121.40,133.50 112.20,133.50 108.50,132.70 106.80,129.80 104.30,128.60 103.50,121.90 102.30,120.30 96.40,119.40 95.60,116.50 93.90,115.70 85.10,115.60 78.90,114.50 73.50,113.70 66.30,113.70 66.30,107.50 73.60,107.50 74.60,106.40 75.90,105.00 78.10,102.80 79.10,100.30 78.60,97.80 76.10,96.10 73.60,95.20 66.30,95.20 66.30,87.00 73.50,87.00 74.40,90.00 77.40,91.20 82.80,90.80 88.90,90.00 91.90,88.90 94.20,86.20 95.70,83.10 98.00,81.60 100.30,80.10 103.40,78.60 106.50,75.30 108.10,71.10 109.70,68.40 111.80,64.70 112.90,61.50 113.40,57.20 113.90,54.10" fill="#bff8fe"/>
<path d="M118.00,52.00 C122.67,50.27 154.67,48.93 160.00,52.00 C165.33,55.07 159.33,71.00 158.00,75.00 C156.67,79.00 149.33,80.27 150.00,82.00 C150.67,83.73 159.49,86.53 163.00,88.00 C166.51,89.47 172.70,91.67 176.30,93.00 C179.90,94.33 187.51,95.73 190.00,98.00 C192.49,100.27 199.00,108.40 195.00,110.00 C191.00,111.60 168.67,111.33 160.00,110.00 C151.33,108.67 135.33,102.67 130.00,100.00 C124.67,97.33 121.07,93.33 120.00,90.00 C118.93,86.67 121.33,78.33 122.00,75.00 C122.67,71.67 125.53,68.07 125.00,65.00 C124.47,61.93 113.33,53.73 118.00,52.00Z" fill="#98ebfb"/>
<path d="M147.00,52.00 C148.27,50.67 155.67,50.40 157.00,52.00 C158.33,53.60 157.67,61.93 157.00,64.00 C156.33,66.07 153.27,67.77 152.00,67.50 C150.73,67.23 148.17,64.07 147.50,62.00 C146.83,59.93 145.73,53.33 147.00,52.00Z" fill="#4aa6ee"/>
<path d="M111.60,60.80 C112.67,60.44 116.61,62.16 118.20,63.40 C119.79,64.64 122.97,68.33 123.50,70.10 C124.03,71.87 123.08,75.11 122.20,76.70 C121.32,78.29 117.97,80.23 116.90,82.00 C115.83,83.77 115.27,87.87 114.20,90.00 C113.13,92.13 110.49,96.23 108.90,98.00 C107.31,99.77 104.61,102.42 102.30,103.30 C99.99,104.18 94.61,104.43 91.60,104.60 C88.59,104.77 81.99,104.77 79.70,104.60 C77.41,104.43 75.11,105.59 74.40,103.30 C73.69,101.01 72.99,89.52 74.40,87.40 C75.81,85.28 82.52,87.76 85.00,87.40 C87.48,87.04 90.88,85.94 93.00,84.70 C95.12,83.46 99.14,79.70 100.90,78.10 C102.66,76.50 104.96,74.30 106.20,72.70 C107.44,71.10 109.48,67.69 110.20,66.10 C110.92,64.51 110.53,61.16 111.60,60.80Z" fill="#fff8d9"/>
<path d="M66.00,88.00 C67.03,86.83 71.53,88.26 73.70,88.70 C75.87,89.14 79.73,91.30 82.30,91.30 C84.87,91.30 90.69,90.11 93.00,88.70 C95.31,87.29 98.19,81.41 99.60,80.70 C101.01,79.99 103.24,81.45 103.60,83.40 C103.96,85.35 103.01,93.01 102.30,95.30 C101.59,97.59 100.07,99.87 98.30,100.60 C96.53,101.33 91.48,100.95 89.00,100.80 C86.52,100.65 81.74,99.94 79.70,99.50 C77.66,99.06 75.53,97.77 73.70,97.50 C71.87,97.23 67.03,98.77 66.00,97.50 C64.97,96.23 64.97,89.17 66.00,88.00Z" fill="#ffb733"/>
<path d="M80.00,89.50 C81.41,88.83 89.52,88.90 91.60,88.50 C93.68,88.10 95.24,85.97 95.60,86.50 C95.96,87.03 95.37,91.43 94.30,92.50 C93.23,93.57 89.37,94.37 87.60,94.50 C85.83,94.63 82.01,94.17 81.00,93.50 C79.99,92.83 78.59,90.17 80.00,89.50Z" fill="#ff6000"/>
<path d="M95.60,111.30 C96.24,109.45 99.01,109.51 100.40,108.00 C101.79,106.49 104.49,101.92 106.00,100.00 C107.51,98.08 109.06,94.64 111.70,93.60 C114.34,92.56 122.41,91.81 125.80,92.20 C129.19,92.59 134.09,94.99 137.10,96.50 C140.11,98.01 145.76,103.13 148.40,103.50 C151.04,103.87 153.89,100.05 156.90,99.30 C159.91,98.55 168.41,97.90 171.00,97.90 C173.59,97.90 174.18,98.58 176.30,99.30 C178.42,100.02 185.13,102.06 186.90,103.30 C188.67,104.54 188.92,106.37 189.60,108.60 C190.28,110.83 191.68,116.48 192.00,120.00 C192.32,123.52 193.60,132.33 192.00,135.00 C190.40,137.67 182.93,138.00 180.00,140.00 C177.07,142.00 172.67,147.33 170.00,150.00 C167.33,152.67 161.73,156.67 160.00,160.00 C158.27,163.33 157.27,171.00 157.00,175.00 C156.73,179.00 158.93,186.80 158.00,190.00 C157.07,193.20 153.07,197.80 150.00,199.00 C146.93,200.20 138.33,202.87 135.00,199.00 C131.67,195.13 127.27,177.87 125.00,170.00 C122.73,162.13 121.60,144.93 118.00,140.00 C114.40,135.07 100.99,135.41 98.00,133.00 C95.01,130.59 95.92,124.79 95.60,121.90 C95.28,119.01 94.96,113.15 95.60,111.30Z" fill="#4aa6ee"/>
<path d="M97.60,113.40 C98.73,111.51 104.03,108.18 106.10,106.30 C108.17,104.42 110.85,100.61 113.10,99.30 C115.35,97.99 119.80,96.50 123.00,96.50 C126.20,96.50 134.27,97.79 137.10,99.30 C139.93,100.81 142.69,105.36 144.20,107.80 C145.71,110.24 148.03,114.97 148.40,117.60 C148.77,120.23 147.75,125.05 147.00,127.50 C146.25,129.95 143.55,133.73 142.80,136.00 C142.05,138.27 141.97,141.86 141.40,144.50 C140.83,147.14 139.63,153.92 138.50,155.80 C137.37,157.68 134.78,158.41 132.90,158.60 C131.02,158.79 125.91,159.47 124.40,157.20 C122.89,154.93 123.29,145.19 121.60,141.60 C119.91,138.01 114.15,132.18 111.70,130.30 C109.25,128.42 105.08,128.81 103.20,127.50 C101.32,126.19 98.35,122.38 97.60,120.50 C96.85,118.62 96.47,115.29 97.60,113.40Z" fill="#1d6dd0"/>
<path d="M160.30,102.00 C161.19,101.12 166.11,101.12 167.00,102.00 C167.89,102.88 167.89,107.72 167.00,108.60 C166.11,109.48 161.19,109.48 160.30,108.60 C159.41,107.72 159.41,102.88 160.30,102.00Z" fill="#1d6dd0"/>
<path d="M101.00,117.00 C102.03,115.53 109.14,114.27 111.70,114.00 C114.26,113.73 117.93,114.27 120.20,115.00 C122.47,115.73 126.82,118.10 128.70,119.50 C130.58,120.90 133.37,123.30 134.30,125.50 C135.23,127.70 135.70,133.09 135.70,136.00 C135.70,138.91 135.05,145.23 134.30,147.30 C133.55,149.37 131.42,151.50 130.10,151.50 C128.78,151.50 125.35,149.74 124.40,147.30 C123.45,144.86 124.32,135.84 123.00,133.20 C121.68,130.56 117.03,128.59 114.50,127.50 C111.97,126.41 105.80,126.40 104.00,125.00 C102.20,123.60 99.97,118.47 101.00,117.00Z" fill="#0a3585"/>
<path d="M186.00,106.00 C187.89,102.20 197.24,105.03 200.20,105.50 C203.16,105.97 206.60,107.31 208.20,109.50 C209.80,111.69 212.20,118.63 212.20,121.90 C212.20,125.17 211.69,132.39 208.20,134.00 C204.71,135.61 188.96,137.73 186.00,134.00 C183.04,130.27 184.11,109.80 186.00,106.00Z" fill="#4aa6ee"/>
<path d="M158.20,148.70 C159.61,146.74 163.23,142.47 166.10,140.70 C168.97,138.93 177.58,133.27 179.70,135.40 C181.82,137.53 184.69,153.69 182.00,156.70 C179.31,159.71 163.03,158.17 159.50,158.00 C155.97,157.83 155.67,156.64 155.50,155.40 C155.33,154.16 156.79,150.66 158.20,148.70Z" fill="#98ebfb"/>
<path d="M128.90,163.30 C129.79,162.95 134.17,164.40 135.60,166.00 C137.03,167.60 139.25,173.35 139.60,175.30 C139.95,177.25 139.09,180.60 138.20,180.60 C137.31,180.60 134.14,176.90 132.90,175.30 C131.66,173.70 129.43,170.20 128.90,168.60 C128.37,167.00 128.01,163.65 128.90,163.30Z" fill="#98ebfb"/>
<path d="M151.50,181.00 C152.90,178.87 160.47,178.87 162.00,181.00 C163.53,183.13 164.40,194.87 163.00,197.00 C161.60,199.13 153.03,199.13 151.50,197.00 C149.97,194.87 150.10,183.13 151.50,181.00Z" fill="#4aa6ee"/>
</g>
<path d="M76.3,113.2h0M76.3,108.4h0M76.3,93.8h0M80.7,113.2h0M80.7,108.4h0M80.7,103.6h0M80.7,98.7h0M80.7,93.8h0M85.0,113.2h0M85.0,108.4h0M85.0,103.6h0M85.0,98.7h0M85.0,93.8h0M89.4,113.2h0M89.4,108.4h0M89.4,103.6h0M89.4,98.7h0M89.4,93.8h0M93.8,113.2h0M93.8,108.4h0M93.8,103.6h0M93.8,98.7h0M93.8,93.8h0M98.1,117.9h0M98.1,113.2h0M98.1,108.4h0M98.1,103.6h0M98.1,98.7h0M98.1,93.8h0M102.5,117.9h0M102.5,113.2h0M102.5,108.4h0M102.5,103.6h0M102.5,98.7h0M102.5,93.8h0M102.5,88.9h0M102.5,83.9h0M106.8,127.3h0M106.8,122.6h0M106.8,117.9h0M106.8,113.2h0M106.8,108.4h0M106.8,103.6h0M106.8,98.7h0M106.8,93.8h0M106.8,88.9h0M106.8,83.9h0M111.2,131.9h0M111.2,127.3h0M111.2,122.6h0M111.2,117.9h0M111.2,113.2h0M111.2,108.4h0M111.2,103.6h0M111.2,98.7h0M111.2,93.8h0M111.2,88.9h0M111.2,83.9h0M111.2,78.8h0M111.2,73.7h0M115.5,131.9h0M115.5,127.3h0M115.5,122.6h0M115.5,117.9h0M115.5,113.2h0M115.5,108.4h0M115.5,103.6h0M115.5,98.7h0M115.5,93.8h0M115.5,88.9h0M115.5,83.9h0M115.5,78.8h0M115.5,73.7h0M115.5,68.5h0M115.5,63.3h0M115.5,58.0h0M119.9,131.9h0M119.9,127.3h0M119.9,122.6h0M119.9,117.9h0M119.9,113.2h0M119.9,108.4h0M119.9,103.6h0M119.9,98.7h0M119.9,93.8h0M119.9,88.9h0M119.9,83.9h0M119.9,78.8h0M119.9,73.7h0M119.9,68.5h0M119.9,63.3h0M119.9,58.0h0M124.2,154.6h0M124.2,150.1h0M124.2,145.6h0M124.2,141.1h0M124.2,136.5h0M124.2,131.9h0M124.2,127.3h0M124.2,122.6h0M124.2,117.9h0M124.2,113.2h0M124.2,108.4h0M124.2,103.6h0M124.2,98.7h0M124.2,93.8h0M124.2,88.9h0M124.2,83.9h0M124.2,78.8h0M124.2,73.7h0M124.2,68.5h0M124.2,63.3h0M124.2,58.0h0M128.6,159.1h0M128.6,154.6h0M128.6,150.1h0M128.6,145.6h0M128.6,141.1h0M128.6,136.5h0M128.6,131.9h0M128.6,127.3h0M128.6,122.6h0M128.6,117.9h0M128.6,113.2h0M128.6,108.4h0M128.6,103.6h0M128.6,98.7h0M128.6,93.8h0M128.6,88.9h0M128.6,83.9h0M128.6,78.8h0M128.6,73.7h0M128.6,68.5h0M128.6,63.3h0M128.6,58.0h0M133.0,172.4h0M133.0,168.0h0M133.0,163.5h0M133.0,159.1h0M133.0,154.6h0M133.0,150.1h0M133.0,145.6h0M133.0,141.1h0M133.0,136.5h0M133.0,131.9h0M133.0,127.3h0M133.0,122.6h0M133.0,117.9h0M133.0,113.2h0M133.0,108.4h0M133.0,103.6h0M133.0,98.7h0M133.0,93.8h0M133.0,88.9h0M133.0,83.9h0M133.0,78.8h0M133.0,73.7h0M133.0,68.5h0M133.0,63.3h0M133.0,58.0h0M137.3,185.5h0M137.3,181.2h0M137.3,176.8h0M137.3,172.4h0M137.3,168.0h0M137.3,163.5h0M137.3,159.1h0M137.3,154.6h0M137.3,150.1h0M137.3,145.6h0M137.3,141.1h0M137.3,136.5h0M137.3,131.9h0M137.3,127.3h0M137.3,122.6h0M137.3,117.9h0M137.3,113.2h0M137.3,108.4h0M137.3,103.6h0M137.3,98.7h0M137.3,93.8h0M137.3,88.9h0M137.3,83.9h0M137.3,78.8h0M137.3,73.7h0M137.3,68.5h0M137.3,63.3h0M137.3,58.0h0M141.7,189.9h0M141.7,185.5h0M141.7,181.2h0M141.7,176.8h0M141.7,172.4h0M141.7,168.0h0M141.7,163.5h0M141.7,159.1h0M141.7,154.6h0M141.7,150.1h0M141.7,145.6h0M141.7,141.1h0M141.7,136.5h0M141.7,131.9h0M141.7,127.3h0M141.7,122.6h0M141.7,117.9h0M141.7,113.2h0M141.7,108.4h0M141.7,103.6h0M141.7,98.7h0M141.7,93.8h0M141.7,88.9h0M141.7,83.9h0M141.7,78.8h0M141.7,73.7h0M141.7,68.5h0M141.7,63.3h0M141.7,58.0h0M146.0,189.9h0M146.0,185.5h0M146.0,181.2h0M146.0,176.8h0M146.0,172.4h0M146.0,168.0h0M146.0,163.5h0M146.0,159.1h0M146.0,154.6h0M146.0,150.1h0M146.0,145.6h0M146.0,141.1h0M146.0,136.5h0M146.0,131.9h0M146.0,127.3h0M146.0,122.6h0M146.0,117.9h0M146.0,113.2h0M146.0,108.4h0M146.0,103.6h0M146.0,98.7h0M146.0,93.8h0M146.0,88.9h0M146.0,83.9h0M146.0,78.8h0M146.0,73.7h0M146.0,68.5h0M146.0,63.3h0M146.0,58.0h0M150.4,185.5h0M150.4,181.2h0M150.4,176.8h0M150.4,172.4h0M150.4,168.0h0M150.4,163.5h0M150.4,159.1h0M150.4,154.6h0M150.4,150.1h0M150.4,145.6h0M150.4,141.1h0M150.4,136.5h0M150.4,131.9h0M150.4,127.3h0M150.4,122.6h0M150.4,117.9h0M150.4,113.2h0M150.4,108.4h0M150.4,103.6h0M150.4,98.7h0M150.4,93.8h0M150.4,88.9h0M150.4,83.9h0M150.4,78.8h0M150.4,73.7h0M150.4,68.5h0M150.4,63.3h0M150.4,58.0h0M154.7,194.2h0M154.7,189.9h0M154.7,185.5h0M154.7,181.2h0M154.7,176.8h0M154.7,172.4h0M154.7,168.0h0M154.7,163.5h0M154.7,159.1h0M154.7,154.6h0M154.7,150.1h0M154.7,145.6h0M154.7,141.1h0M154.7,136.5h0M154.7,131.9h0M154.7,127.3h0M154.7,122.6h0M154.7,117.9h0M154.7,113.2h0M154.7,108.4h0M154.7,103.6h0M154.7,98.7h0M154.7,93.8h0M154.7,88.9h0M154.7,83.9h0M154.7,63.3h0M154.7,58.0h0M159.1,189.9h0M159.1,185.5h0M159.1,154.6h0M159.1,150.1h0M159.1,145.6h0M159.1,141.1h0M159.1,136.5h0M159.1,131.9h0M159.1,127.3h0M159.1,122.6h0M159.1,117.9h0M159.1,113.2h0M159.1,108.4h0M159.1,103.6h0M159.1,98.7h0M159.1,93.8h0M159.1,88.9h0M163.5,154.6h0M163.5,150.1h0M163.5,145.6h0M163.5,141.1h0M163.5,136.5h0M163.5,131.9h0M163.5,127.3h0M163.5,122.6h0M163.5,117.9h0M163.5,113.2h0M163.5,108.4h0M163.5,103.6h0M163.5,98.7h0M163.5,93.8h0M163.5,88.9h0M167.8,150.1h0M167.8,145.6h0M167.8,141.1h0M167.8,136.5h0M167.8,131.9h0M167.8,127.3h0M167.8,122.6h0M167.8,117.9h0M167.8,113.2h0M167.8,108.4h0M167.8,103.6h0M167.8,98.7h0M167.8,93.8h0M167.8,88.9h0M172.2,141.1h0M172.2,136.5h0M172.2,131.9h0M172.2,127.3h0M172.2,122.6h0M172.2,117.9h0M172.2,113.2h0M172.2,108.4h0M172.2,103.6h0M172.2,98.7h0M172.2,93.8h0M176.5,141.1h0M176.5,136.5h0M176.5,131.9h0M176.5,127.3h0M176.5,122.6h0M176.5,117.9h0M176.5,113.2h0M176.5,108.4h0M176.5,103.6h0M176.5,98.7h0M176.5,93.8h0M180.9,136.5h0M180.9,131.9h0M180.9,127.3h0M180.9,122.6h0M180.9,117.9h0M180.9,113.2h0M180.9,108.4h0M180.9,103.6h0M180.9,98.7h0M185.2,131.9h0M185.2,127.3h0M185.2,122.6h0M185.2,117.9h0M185.2,113.2h0M185.2,108.4h0M185.2,103.6h0M185.2,98.7h0M189.6,127.3h0M189.6,122.6h0M189.6,117.9h0M189.6,113.2h0M189.6,108.4h0M189.6,103.6h0M189.6,98.7h0M193.9,127.3h0M193.9,122.6h0M193.9,117.9h0M193.9,113.2h0M193.9,108.4h0M193.9,103.6h0M193.9,98.7h0M198.3,127.3h0M198.3,122.6h0M198.3,117.9h0M198.3,113.2h0M198.3,108.4h0M198.3,103.6h0M198.3,98.7h0M202.7,127.3h0M202.7,122.6h0M202.7,117.9h0M202.7,113.2h0M202.7,108.4h0M202.7,103.6h0M202.7,98.7h0M207.0,131.9h0M207.0,127.3h0M207.0,122.6h0M207.0,117.9h0M207.0,113.2h0M207.0,108.4h0M207.0,103.6h0M207.0,98.7h0M211.4,131.9h0M211.4,127.3h0M211.4,122.6h0M211.4,117.9h0M211.4,113.2h0M211.4,108.4h0M211.4,103.6h0M211.4,98.7h0M211.4,93.8h0M215.7,113.2h0M215.7,108.4h0M215.7,103.6h0M215.7,98.7h0M215.7,93.8h0M220.1,108.4h0M220.1,103.6h0M220.1,98.7h0M220.1,93.8h0M224.4,108.4h0M224.4,103.6h0M224.4,98.7h0M224.4,93.8h0" stroke="#151515" stroke-width="1.65" stroke-linecap="round" fill="none"/>
<polyline points="74.59,112.21 78.51,112.69 82.87,112.21 87.66,112.21 92.01,111.26 95.93,111.26 96.81,113.16 98.55,114.11 99.42,116.01 100.29,117.90 101.60,118.84 102.90,119.31 103.77,119.78 105.08,121.66 106.39,123.07 109.00,123.53 112.05,123.07 109.87,123.53 107.70,124.47 106.82,125.40 107.70,126.80 109.87,129.12 111.62,131.43 114.23,132.82 116.41,132.82 119.02,131.43 120.33,129.58 121.20,126.33 122.51,126.33 122.51,129.58 123.81,131.43 123.38,133.74 122.94,136.95 123.38,140.15 123.81,142.89 124.68,146.97 125.55,150.58 126.43,154.18 127.73,156.86 129.04,159.99 130.78,163.55 131.65,166.21 132.52,169.30 134.27,172.83 135.57,175.03 136.88,177.67 138.19,181.17 138.62,183.36 139.93,185.98 141.24,187.72 142.98,189.46 144.29,189.46 146.46,186.85 147.77,185.11 151.26,184.23 149.95,182.92 151.69,179.86 154.30,179.86 153.87,177.23 153.87,174.59 154.30,172.39 155.61,169.75 156.05,167.09 155.61,164.43 155.18,161.77 155.18,159.10 156.05,156.86 158.66,155.97 159.97,154.62 162.15,153.28 164.76,152.38 164.76,151.03 166.07,149.23 169.11,146.97 171.73,144.70 173.47,142.89 175.65,140.61 177.39,139.24 180.00,137.41 182.62,136.50 184.80,133.74 184.36,131.89 185.23,129.58 186.97,129.12 188.72,128.66 190.46,129.12 192.20,129.12 194.38,128.66 197.43,127.73 199.61,127.73 200.91,125.87 202.66,123.53 204.83,124.47 206.14,125.87 206.58,128.19 207.01,130.97 208.32,133.28" fill="none" stroke="#000" stroke-width="0.75" stroke-linejoin="round"/>
<polyline points="74.59,112.21 75.46,107.43 77.64,105.99 81.56,105.02 81.99,102.61 79.82,102.12 79.82,97.25 75.90,95.78 74.15,93.81 71.54,89.86 78.51,91.84 83.30,91.34 86.35,90.85 89.40,91.34 94.63,89.86 95.50,84.36 97.68,82.35 101.16,81.34 103.34,79.82 105.95,80.83 108.13,79.31 109.00,73.70 111.18,72.67 112.49,71.64 110.74,68.53 115.10,68.53 115.97,66.44 118.15,62.25 117.71,59.60 116.41,57.47 119.02,55.33 122.51,53.72 126.43,52.65 130.78,52.11 133.83,52.65" fill="none" stroke="#000" stroke-width="0.75" stroke-linejoin="round"/>
<polyline points="133.83,52.65 136.44,54.26 138.19,58.01 141.67,60.13 145.16,60.66 148.64,59.07 152.56,60.13 155.61,61.19 154.30,65.40 151.69,67.49 149.51,70.60 151.69,73.70 148.21,75.75 149.08,79.31 149.08,82.35 151.69,83.36 153.87,84.36 156.05,85.87 159.10,87.37 161.71,86.87 163.89,88.36 167.81,91.34 169.99,92.33 173.04,94.31 176.96,95.78 180.44,97.74 183.05,98.72 186.10,99.20 190.02,99.20 193.07,98.23 196.56,97.74 200.04,97.74 203.53,99.20 205.71,99.69 209.19,99.20 212.67,95.78 216.60,92.83 221.82,93.32 224.87,91.84 227.05,94.31 230.10,97.25 230.53,99.20 229.23,100.18 225.31,102.12 222.26,104.54 220.95,106.95 220.08,109.83 218.77,112.69 218.34,114.59 216.60,118.37 213.55,117.90 213.11,122.60 211.80,126.33 209.63,127.26 208.75,130.05 208.32,133.28" fill="none" stroke="#000" stroke-width="0.75" stroke-linejoin="round"/>
<polyline points="103.34,119.31 105.95,116.48 109.44,116.48 113.79,116.01 115.54,115.06 115.10,112.21 112.49,109.83 111.62,105.99 109.00,104.54 111.18,101.15 113.79,98.72 119.46,98.72 122.07,94.31 125.99,89.36 128.17,86.87 131.22,83.86 131.22,79.31 132.96,77.28 131.22,75.75 128.60,73.70 126.86,71.64 126.43,68.53 126.86,65.40 125.55,62.25 125.99,58.54 126.43,52.65" fill="none" stroke="#000" stroke-width="0.75" stroke-linejoin="round"/>
<polyline points="155.18,94.80 157.35,95.78 159.97,97.25 163.02,99.20 166.50,101.15 169.55,101.64 172.60,101.64 175.21,103.09 177.83,104.54 180.88,105.51 183.93,106.47 186.54,106.47 190.02,105.99 189.59,102.61 190.02,99.20" fill="none" stroke="#000" stroke-width="0.75" stroke-linejoin="round"/>
<polyline points="159.10,87.37 156.92,90.35 155.61,92.83 155.18,94.80" fill="none" stroke="#000" stroke-width="0.75" stroke-linejoin="round"/>
<polyline points="190.02,99.20 193.07,102.12 193.51,103.09" fill="none" stroke="#000" stroke-width="0.75" stroke-linejoin="round"/>
<polyline points="193.51,103.09 196.56,104.54 200.04,104.54 203.96,104.54 207.45,104.06 206.58,101.15 205.71,99.69" fill="none" stroke="#000" stroke-width="0.75" stroke-linejoin="round"/>
<polyline points="190.02,105.99 191.77,105.51 193.94,106.95 196.12,108.39 197.65,108.87 197.65,111.74 200.48,112.21 204.83,112.45 207.01,112.69 208.75,113.64 207.88,115.54 206.58,116.96 205.27,117.43 204.40,119.31 203.53,120.25 203.96,122.60 205.27,123.07 206.14,120.25 207.01,119.78 208.32,119.31 208.75,121.66 209.19,124.00 209.63,127.26" fill="none" stroke="#000" stroke-width="0.75" stroke-linejoin="round"/>
<polyline points="190.02,105.99 192.20,108.39 190.46,110.30 192.64,112.21 190.02,114.59 192.64,116.48 193.07,120.25 192.20,123.07 193.94,127.26 194.38,128.66" fill="none" stroke="#000" stroke-width="0.75" stroke-linejoin="round"/>
<polyline points="154.30,182.05 155.61,182.05 157.35,183.80 158.66,185.98 160.40,187.72 162.15,191.64 163.02,194.25 161.71,196.85 159.53,198.15 157.35,199.02 155.18,197.72 154.30,195.11 153.87,192.07 153.87,189.03 154.30,185.98 154.30,182.05" fill="none" stroke="#000" stroke-width="0.75" stroke-linejoin="round"/>
<polyline points="189,127.3 192,127.9 195,127.2 197.5,126.6 200,126 202,125.2" fill="none" stroke="#000" stroke-width="2.1" stroke-linejoin="round"/>
<polyline points="198,119.2 199,121.5 199.4,124 200.3,126.2" fill="none" stroke="#000" stroke-width="2.0"/>
<polyline points="201.3,120.6 202.3,123 202.8,125.6" fill="none" stroke="#000" stroke-width="1.2"/>
<polyline points="194.5,126.5 195.5,124.5 197,123.5" fill="none" stroke="#000" stroke-width="1.0"/>
<path d="M209.9,164.6 C212,164.2 213.2,168 213,172 C212.8,176 212,179.6 210.2,179.8 C208.4,179.8 208,176 208.2,172 C208.4,168 208.8,165 209.9,164.6Z" fill="#bdf3fb"/>
<polyline points="211,165.3 210.9,168.5 210.6,171 210.9,172.8 210.3,174.5 209.9,176.5 209.4,178.4" fill="none" stroke="#000" stroke-width="1.6" stroke-linecap="round"/>
<circle cx="209.3" cy="178.4" r="0.8" fill="#000"/>
<path d="M213.4,191.8 C215,191.6 216.6,193 216.4,194.6 C216.2,196 214.6,196.2 213.8,195.2 C213,194.2 212.6,192.2 213.4,191.8Z" fill="#bdf3fb"/>
<polyline points="213.6,192.6 214.5,194.6" fill="none" stroke="#000" stroke-width="1.1"/>
<polyline points="211.8,186.2 212.3,187.8" fill="none" stroke="#333" stroke-width="0.7"/>
<circle cx="213.3" cy="160.5" r="0.5" fill="#444"/><circle cx="211.8" cy="162.8" r="0.4" fill="#444"/><circle cx="214.3" cy="170.5" r="0.4" fill="#444"/>
<circle cx="121.2" cy="172.5" r="0.45" fill="#555"/>
<circle cx="122.3" cy="171.2" r="0.45" fill="#555"/>
<circle cx="120.8" cy="174.8" r="0.45" fill="#555"/>
<circle cx="122.6" cy="175.5" r="0.45" fill="#555"/>
<circle cx="123.4" cy="173.4" r="0.45" fill="#555"/>
<circle cx="121.5" cy="177.8" r="0.45" fill="#555"/>
<circle cx="122" cy="184.2" r="0.45" fill="#555"/>
</g>
<rect x="72.20" y="52.50" width="156.60" height="150.30" fill="none" stroke="#000" stroke-width="2.5" />
<line x1="89.40" y1="51.30" x2="89.40" y2="44.30" stroke="#000" stroke-width="1.3"/>
<line x1="89.40" y1="204.00" x2="89.40" y2="211.20" stroke="#000" stroke-width="1.3"/>
<line x1="111.18" y1="51.30" x2="111.18" y2="44.30" stroke="#000" stroke-width="1.3"/>
<line x1="111.18" y1="204.00" x2="111.18" y2="211.20" stroke="#000" stroke-width="1.3"/>
<line x1="132.96" y1="51.30" x2="132.96" y2="44.30" stroke="#000" stroke-width="1.3"/>
<line x1="132.96" y1="204.00" x2="132.96" y2="211.20" stroke="#000" stroke-width="1.3"/>
<line x1="154.74" y1="51.30" x2="154.74" y2="44.30" stroke="#000" stroke-width="1.3"/>
<line x1="154.74" y1="204.00" x2="154.74" y2="211.20" stroke="#000" stroke-width="1.3"/>
<line x1="176.52" y1="51.30" x2="176.52" y2="44.30" stroke="#000" stroke-width="1.3"/>
<line x1="176.52" y1="204.00" x2="176.52" y2="211.20" stroke="#000" stroke-width="1.3"/>
<line x1="198.30" y1="51.30" x2="198.30" y2="44.30" stroke="#000" stroke-width="1.3"/>
<line x1="198.30" y1="204.00" x2="198.30" y2="211.20" stroke="#000" stroke-width="1.3"/>
<line x1="220.08" y1="51.30" x2="220.08" y2="44.30" stroke="#000" stroke-width="1.3"/>
<line x1="220.08" y1="204.00" x2="220.08" y2="211.20" stroke="#000" stroke-width="1.3"/>
<line x1="71.00" y1="63.30" x2="63.90" y2="63.30" stroke="#000" stroke-width="1.3"/>
<line x1="230.00" y1="63.30" x2="237.10" y2="63.30" stroke="#000" stroke-width="1.3"/>
<line x1="71.00" y1="88.86" x2="63.90" y2="88.86" stroke="#000" stroke-width="1.3"/>
<line x1="230.00" y1="88.86" x2="237.10" y2="88.86" stroke="#000" stroke-width="1.3"/>
<line x1="71.00" y1="113.16" x2="63.90" y2="113.16" stroke="#000" stroke-width="1.3"/>
<line x1="230.00" y1="113.16" x2="237.10" y2="113.16" stroke="#000" stroke-width="1.3"/>
<line x1="71.00" y1="136.50" x2="63.90" y2="136.50" stroke="#000" stroke-width="1.3"/>
<line x1="230.00" y1="136.50" x2="237.10" y2="136.50" stroke="#000" stroke-width="1.3"/>
<line x1="71.00" y1="159.10" x2="63.90" y2="159.10" stroke="#000" stroke-width="1.3"/>
<line x1="230.00" y1="159.10" x2="237.10" y2="159.10" stroke="#000" stroke-width="1.3"/>
<line x1="71.00" y1="181.17" x2="63.90" y2="181.17" stroke="#000" stroke-width="1.3"/>
<line x1="230.00" y1="181.17" x2="237.10" y2="181.17" stroke="#000" stroke-width="1.3"/>
<line x1="71.00" y1="202.91" x2="63.90" y2="202.91" stroke="#000" stroke-width="1.3"/>
<line x1="230.00" y1="202.91" x2="237.10" y2="202.91" stroke="#000" stroke-width="1.3"/>
<text x="224.50" y="61.80" font-size="9.4" font-family="Liberation Serif, serif" font-weight="bold" text-anchor="end" >(e)</text>
</g>
<g transform="translate(332.7,202.2)">
<clipPath id="clip5"><rect x="72.2" y="52.5" width="156.60000000000002" height="150.3"/></clipPath>
<rect x="72.20" y="52.50" width="156.60" height="150.30" fill="#dcdcdc" stroke="none" stroke-width="0" />
<clipPath id="mask5"><polygon points="113.90,47.80 155.40,47.80 155.40,54.10 155.90,57.20 156.50,62.60 155.40,66.80 153.30,71.10 152.20,75.30 152.70,77.40 155.40,81.70 157.50,84.90 160.70,86.20 164.70,86.20 169.00,88.10 169.60,90.50 175.70,91.20 177.60,93.00 178.20,95.50 185.60,95.80 196.60,96.10 206.50,95.50 208.90,93.00 211.40,91.80 216.30,91.80 223.70,91.20 226.10,92.40 233.30,92.40 233.30,108.40 224.90,109.60 221.20,112.10 218.80,114.50 215.10,115.10 213.80,119.40 213.20,125.60 212.60,133.00 204.60,133.00 204.00,129.90 194.20,128.00 189.30,128.00 188.50,127.50 187.70,130.00 186.40,132.40 186.00,135.80 183.50,137.40 177.70,140.80 176.00,142.40 173.50,144.90 171.00,147.40 169.40,149.90 166.10,152.40 165.20,154.90 161.90,156.10 157.80,157.40 156.90,159.00 156.50,165.70 156.20,175.80 156.50,178.80 157.50,182.10 159.90,182.70 160.90,184.10 160.50,194.00 157.50,195.40 152.20,195.40 152.20,188.00 149.60,188.40 147.60,190.00 147.20,192.00 140.30,192.00 139.60,189.40 137.30,187.40 135.30,184.70 134.90,179.40 133.90,174.80 131.00,171.40 130.60,166.80 130.30,162.80 127.20,160.40 122.50,155.70 122.20,145.20 121.80,135.20 121.40,133.50 112.20,133.50 108.50,132.70 106.80,129.80 104.30,128.60 103.50,121.90 102.30,120.30 96.40,119.40 95.60,116.50 93.90,115.70 85.10,115.60 78.90,114.50 73.50,113.70 66.30,113.70 66.30,107.50 73.60,107.50 74.60,106.40 75.90,105.00 78.10,102.80 79.10,100.30 78.60,97.80 76.10,96.10 73.60,95.20 66.30,95.20 66.30,87.00 73.50,87.00 74.40,90.00 77.40,91.20 82.80,90.80 88.90,90.00 91.90,88.90 94.20,86.20 95.70,83.10 98.00,81.60 100.30,80.10 103.40,78.60 106.50,75.30 108.10,71.10 109.70,68.40 111.80,64.70 112.90,61.50 113.40,57.20 113.90,54.10"/></clipPath>
<g clip-path="url(#clip5)">
<g clip-path="url(#mask5)">
<polygon points="113.90,47.80 155.40,47.80 155.40,54.10 155.90,57.20 156.50,62.60 155.40,66.80 153.30,71.10 152.20,75.30 152.70,77.40 155.40,81.70 157.50,84.90 160.70,86.20 164.70,86.20 169.00,88.10 169.60,90.50 175.70,91.20 177.60,93.00 178.20,95.50 185.60,95.80 196.60,96.10 206.50,95.50 208.90,93.00 211.40,91.80 216.30,91.80 223.70,91.20 226.10,92.40 233.30,92.40 233.30,108.40 224.90,109.60 221.20,112.10 218.80,114.50 215.10,115.10 213.80,119.40 213.20,125.60 212.60,133.00 204.60,133.00 204.00,129.90 194.20,128.00 189.30,128.00 188.50,127.50 187.70,130.00 186.40,132.40 186.00,135.80 183.50,137.40 177.70,140.80 176.00,142.40 173.50,144.90 171.00,147.40 169.40,149.90 166.10,152.40 165.20,154.90 161.90,156.10 157.80,157.40 156.90,159.00 156.50,165.70 156.20,175.80 156.50,178.80 157.50,182.10 159.90,182.70 160.90,184.10 160.50,194.00 157.50,195.40 152.20,195.40 152.20,188.00 149.60,188.40 147.60,190.00 147.20,192.00 140.30,192.00 139.60,189.40 137.30,187.40 135.30,184.70 134.90,179.40 133.90,174.80 131.00,171.40 130.60,166.80 130.30,162.80 127.20,160.40 122.50,155.70 122.20,145.20 121.80,135.20 121.40,133.50 112.20,133.50 108.50,132.70 106.80,129.80 104.30,128.60 103.50,121.90 102.30,120.30 96.40,119.40 95.60,116.50 93.90,115.70 85.10,115.60 78.90,114.50 73.50,113.70 66.30,113.70 66.30,107.50 73.60,107.50 74.60,106.40 75.90,105.00 78.10,102.80 79.10,100.30 78.60,97.80 76.10,96.10 73.60,95.20 66.30,95.20 66.30,87.00 73.50,87.00 74.40,90.00 77.40,91.20 82.80,90.80 88.90,90.00 91.90,88.90 94.20,86.20 95.70,83.10 98.00,81.60 100.30,80.10 103.40,78.60 106.50,75.30 108.10,71.10 109.70,68.40 111.80,64.70 112.90,61.50 113.40,57.20 113.90,54.10" fill="#bff8fe"/>
<path d="M98.90,79.40 C101.57,75.51 109.55,72.58 112.20,70.10 C114.85,67.62 116.68,62.57 118.80,60.80 C120.92,59.03 125.79,56.80 128.10,56.80 C130.41,56.80 134.69,58.68 136.10,60.80 C137.51,62.92 137.29,70.22 138.70,72.70 C140.11,75.18 144.89,78.16 146.70,79.40 C148.51,80.64 151.29,81.47 152.30,82.00 C153.31,82.53 154.30,80.20 154.30,83.40 C154.30,86.60 159.69,102.64 152.30,106.00 C144.91,109.36 107.79,108.33 98.90,108.60 C90.01,108.87 88.79,107.95 85.60,108.00 C82.41,108.05 74.12,110.16 75.00,109.00 C75.88,107.84 89.01,103.25 92.20,99.30 C95.39,95.35 96.23,83.29 98.90,79.40Z" fill="#98ebfb"/>
<path d="M96.20,79.40 C97.80,78.69 103.31,78.33 104.20,79.40 C105.09,80.47 103.61,85.09 102.90,87.40 C102.19,89.71 100.33,94.75 98.90,96.70 C97.47,98.65 94.33,100.95 92.20,102.00 C90.07,103.05 85.19,104.43 82.90,104.60 C80.61,104.77 76.24,105.59 75.00,103.30 C73.76,101.01 72.19,89.35 73.60,87.40 C75.01,85.45 83.12,89.06 85.60,88.70 C88.08,88.34 90.79,85.94 92.20,84.70 C93.61,83.46 94.60,80.11 96.20,79.40Z" fill="#fff8d9"/>
<path d="M110.80,60.80 C111.69,58.68 115.23,57.39 116.20,58.10 C117.17,58.81 118.29,64.15 118.10,66.10 C117.91,68.05 115.95,71.65 114.80,72.70 C113.65,73.75 110.03,75.59 109.50,74.00 C108.97,72.41 109.91,62.92 110.80,60.80Z" fill="#fff8d9"/>
<path d="M66.00,87.50 C67.01,85.73 71.69,87.76 73.60,88.20 C75.51,88.64 78.17,90.45 80.30,90.80 C82.43,91.15 87.65,91.51 89.60,90.80 C91.55,90.09 93.85,86.61 94.90,85.50 C95.95,84.39 96.89,82.03 97.50,82.50 C98.11,82.97 99.70,87.13 99.50,89.00 C99.30,90.87 97.51,95.06 96.00,96.50 C94.49,97.94 90.29,99.04 88.20,99.80 C86.11,100.56 82.06,101.97 80.30,102.20 C78.54,102.43 76.91,101.59 75.00,101.50 C73.09,101.41 67.20,103.37 66.00,101.50 C64.80,99.63 64.99,89.27 66.00,87.50Z" fill="#ffb733"/>
<path d="M82.90,92.00 C83.61,91.64 88.53,91.03 89.60,91.30 C90.67,91.57 91.61,93.64 90.90,94.00 C90.19,94.36 85.37,94.27 84.30,94.00 C83.23,93.73 82.19,92.36 82.90,92.00Z" fill="#ff6000"/>
<path d="M134.80,52.00 C137.59,50.83 154.04,49.60 157.00,52.00 C159.96,54.40 157.63,66.71 157.00,70.00 C156.37,73.29 153.67,75.98 152.30,76.70 C150.93,77.42 148.15,76.47 146.70,75.40 C145.25,74.33 142.81,70.65 141.40,68.70 C139.99,66.75 136.98,63.03 136.10,60.80 C135.22,58.57 132.01,53.17 134.80,52.00Z" fill="#4aa6ee"/>
<path d="M144.10,60.80 C144.85,58.57 150.71,53.17 152.30,52.00 C153.89,50.83 155.51,50.29 156.00,52.00 C156.49,53.71 156.49,62.39 156.00,64.80 C155.51,67.21 153.54,69.58 152.30,70.10 C151.06,70.62 147.79,69.94 146.70,68.70 C145.61,67.46 143.35,63.03 144.10,60.80Z" fill="#1d6dd0"/>
<path d="M112.20,79.40 C113.44,78.33 117.81,76.87 120.10,76.70 C122.39,76.53 127.63,77.21 129.40,78.10 C131.17,78.99 131.80,82.52 133.40,83.40 C135.00,84.28 138.88,84.35 141.40,84.70 C143.92,85.05 150.85,83.16 152.30,86.00 C153.75,88.84 154.46,103.69 152.30,106.00 C150.14,108.31 139.33,104.54 136.10,103.30 C132.87,102.06 129.87,97.58 128.10,96.70 C126.33,95.82 124.39,96.53 122.80,96.70 C121.21,96.87 117.97,98.00 116.20,98.00 C114.43,98.00 110.74,97.59 109.50,96.70 C108.26,95.81 106.73,92.90 106.90,91.30 C107.07,89.70 110.09,86.29 110.80,84.70 C111.51,83.11 110.96,80.47 112.20,79.40Z" fill="#4aa6ee"/>
<path d="M152.00,81.00 C154.08,79.13 164.28,83.20 167.60,84.00 C170.92,84.80 173.89,86.33 176.90,87.00 C179.91,87.67 185.95,89.00 190.20,89.00 C194.45,89.00 204.01,87.27 208.80,87.00 C213.59,86.73 223.27,86.60 226.10,87.00 C228.93,87.40 229.48,86.23 230.00,90.00 C230.52,93.77 232.29,111.93 230.00,115.30 C227.71,118.67 215.63,112.81 212.80,115.30 C209.97,117.79 211.81,131.51 208.80,134.00 C205.79,136.49 192.68,136.93 190.20,134.00 C187.72,131.07 191.09,115.47 190.20,112.00 C189.31,108.53 186.51,109.47 183.50,108.00 C180.49,106.53 171.80,102.33 167.60,101.00 C163.40,99.67 154.08,100.67 152.00,98.00 C149.92,95.33 149.92,82.87 152.00,81.00Z" fill="#4aa6ee"/>
<path d="M194.20,96.70 C195.79,95.73 205.64,95.82 207.40,96.70 C209.16,97.58 208.99,102.33 207.40,103.30 C205.81,104.27 197.26,104.88 195.50,104.00 C193.74,103.12 192.61,97.67 194.20,96.70Z" fill="#98ebfb"/>
<path d="M128.00,94.00 C132.67,92.67 160.53,92.67 166.00,94.00 C171.47,95.33 169.67,101.47 169.00,104.00 C168.33,106.53 164.87,111.80 161.00,113.00 C157.13,114.20 144.00,114.20 140.00,113.00 C136.00,111.80 132.60,106.53 131.00,104.00 C129.40,101.47 123.33,95.33 128.00,94.00Z" fill="#4aa6ee"/>
<path d="M66.00,112.60 C68.61,111.27 81.57,110.53 85.60,110.00 C89.63,109.47 93.89,109.13 96.20,108.60 C98.51,108.07 100.77,107.07 102.90,106.00 C105.03,104.93 109.55,101.67 112.20,100.60 C114.85,99.53 120.32,98.52 122.80,98.00 C125.28,97.48 128.68,96.70 130.80,96.70 C132.92,96.70 137.34,97.03 138.70,98.00 C140.06,98.97 139.76,102.47 141.00,104.00 C142.24,105.53 145.87,108.90 148.00,109.50 C150.13,110.10 155.00,109.50 157.00,108.50 C159.00,107.50 161.00,102.93 163.00,102.00 C165.00,101.07 169.27,101.10 172.00,101.50 C174.73,101.90 181.07,103.87 183.50,105.00 C185.93,106.13 189.07,108.00 190.20,110.00 C191.33,112.00 192.03,116.67 192.00,120.00 C191.97,123.33 191.47,133.27 190.00,135.00 C188.53,136.73 182.07,130.73 181.00,133.00 C179.93,135.27 184.13,148.80 182.00,152.00 C179.87,155.20 168.20,155.93 165.00,157.00 C161.80,158.07 159.20,158.93 158.00,160.00 C156.80,161.07 159.73,164.33 156.00,165.00 C152.27,165.67 134.80,167.00 130.00,165.00 C125.20,163.00 123.33,154.27 120.00,150.00 C116.67,145.73 110.29,135.29 105.00,133.00 C99.71,130.71 85.50,134.53 80.30,132.80 C75.10,131.07 67.91,122.69 66.00,120.00 C64.09,117.31 63.39,113.93 66.00,112.60Z" fill="#1d6dd0"/>
<path d="M102.90,111.30 C103.99,109.17 109.91,107.07 112.20,106.00 C114.49,104.93 117.98,103.30 120.10,103.30 C122.22,103.30 126.33,104.93 128.10,106.00 C129.87,107.07 131.99,109.89 133.40,111.30 C134.81,112.71 137.10,115.19 138.70,116.60 C140.30,118.01 144.15,120.98 145.40,121.90 C146.65,122.82 147.38,122.05 148.10,123.50 C148.82,124.95 149.73,129.79 150.80,132.80 C151.87,135.81 155.03,143.27 156.10,146.10 C157.17,148.93 158.80,151.88 158.80,154.00 C158.80,156.12 158.58,160.57 156.10,162.00 C153.62,163.43 143.39,164.34 140.20,164.70 C137.01,165.06 133.97,165.77 132.20,164.70 C130.43,163.63 128.14,158.83 126.90,156.70 C125.66,154.57 123.61,151.89 122.90,148.70 C122.19,145.51 123.55,135.11 121.60,132.80 C119.65,130.49 110.65,132.84 108.30,131.40 C105.95,129.96 104.72,124.68 104.00,122.00 C103.28,119.32 101.81,113.43 102.90,111.30Z" fill="#0a3585"/>
<path d="M142.50,104.00 C143.03,103.27 146.13,103.10 147.00,103.50 C147.87,103.90 149.07,106.07 149.00,107.00 C148.93,107.93 147.30,110.23 146.50,110.50 C145.70,110.77 143.53,109.87 143.00,109.00 C142.47,108.13 141.97,104.73 142.50,104.00Z" fill="#98ebfb"/>
<path d="M157.00,102.00 C157.89,100.93 164.95,102.42 167.60,103.30 C170.25,104.18 174.78,107.00 176.90,108.60 C179.02,110.20 182.62,113.35 183.50,115.30 C184.38,117.25 184.38,121.96 183.50,123.20 C182.62,124.44 179.38,125.13 176.90,124.60 C174.42,124.07 167.03,120.97 164.90,119.20 C162.77,117.43 161.95,113.59 160.90,111.30 C159.85,109.01 156.11,103.07 157.00,102.00Z" fill="#0a3585"/>
<path d="M162.80,142.10 C164.21,139.79 166.84,139.34 169.40,138.10 C171.96,136.86 180.32,131.03 182.00,132.80 C183.68,134.57 184.21,148.21 182.00,151.40 C179.79,154.59 168.49,156.17 165.40,156.70 C162.31,157.23 159.15,157.35 158.80,155.40 C158.45,153.45 161.39,144.41 162.80,142.10Z" fill="#4aa6ee"/>
<path d="M169.40,139.40 C170.72,137.97 180.32,134.33 182.00,135.40 C183.68,136.47 183.32,145.97 182.00,147.40 C180.68,148.83 173.78,147.17 172.10,146.10 C170.42,145.03 168.08,140.83 169.40,139.40Z" fill="#98ebfb"/>
<path d="M130.90,164.70 C134.26,163.46 152.74,161.18 156.10,163.30 C159.46,165.42 156.45,177.59 156.10,180.60 C155.75,183.61 154.91,184.30 153.50,185.90 C152.09,187.50 147.63,191.89 145.50,192.60 C143.37,193.31 139.10,192.80 137.50,191.20 C135.90,189.60 134.38,183.08 133.50,180.60 C132.62,178.12 131.25,174.72 130.90,172.60 C130.55,170.48 127.54,165.94 130.90,164.70Z" fill="#4aa6ee"/>
<path d="M130.90,167.30 C131.70,166.59 136.26,167.63 137.50,168.70 C138.74,169.77 140.37,174.25 140.20,175.30 C140.03,176.35 137.36,176.77 136.20,176.60 C135.04,176.43 132.21,175.24 131.50,174.00 C130.79,172.76 130.10,168.01 130.90,167.30Z" fill="#98ebfb"/>
<path d="M144.20,178.00 C144.72,177.47 147.58,177.47 148.10,178.00 C148.62,178.53 148.62,181.47 148.10,182.00 C147.58,182.53 144.72,182.53 144.20,182.00 C143.68,181.47 143.68,178.53 144.20,178.00Z" fill="#1d6dd0"/>
<path d="M152.10,183.30 C152.98,181.78 158.86,182.91 160.10,184.60 C161.34,186.29 162.28,194.48 161.40,196.00 C160.52,197.52 154.74,197.69 153.50,196.00 C152.26,194.31 151.22,184.82 152.10,183.30Z" fill="#1d6dd0"/>
</g>
<path d="M76.3,113.2h0M76.3,108.4h0M76.3,93.8h0M80.7,113.2h0M80.7,108.4h0M80.7,103.6h0M80.7,98.7h0M80.7,93.8h0M85.0,113.2h0M85.0,108.4h0M85.0,103.6h0M85.0,98.7h0M85.0,93.8h0M89.4,113.2h0M89.4,108.4h0M89.4,103.6h0M89.4,98.7h0M89.4,93.8h0M93.8,113.2h0M93.8,108.4h0M93.8,103.6h0M93.8,98.7h0M93.8,93.8h0M98.1,117.9h0M98.1,113.2h0M98.1,108.4h0M98.1,103.6h0M98.1,98.7h0M98.1,93.8h0M98.1,88.9h0M102.5,117.9h0M102.5,113.2h0M102.5,108.4h0M102.5,103.6h0M102.5,98.7h0M102.5,93.8h0M102.5,88.9h0M102.5,83.9h0M106.8,127.3h0M106.8,122.6h0M106.8,117.9h0M106.8,113.2h0M106.8,108.4h0M106.8,103.6h0M106.8,98.7h0M106.8,93.8h0M106.8,88.9h0M106.8,83.9h0M111.2,131.9h0M111.2,127.3h0M111.2,122.6h0M111.2,117.9h0M111.2,113.2h0M111.2,108.4h0M111.2,103.6h0M111.2,98.7h0M111.2,93.8h0M111.2,88.9h0M111.2,83.9h0M111.2,78.8h0M111.2,73.7h0M115.5,131.9h0M115.5,127.3h0M115.5,122.6h0M115.5,117.9h0M115.5,113.2h0M115.5,108.4h0M115.5,103.6h0M115.5,98.7h0M115.5,93.8h0M115.5,88.9h0M115.5,83.9h0M115.5,78.8h0M115.5,73.7h0M115.5,68.5h0M115.5,63.3h0M115.5,58.0h0M119.9,131.9h0M119.9,127.3h0M119.9,122.6h0M119.9,117.9h0M119.9,113.2h0M119.9,108.4h0M119.9,103.6h0M119.9,98.7h0M119.9,93.8h0M119.9,88.9h0M119.9,83.9h0M119.9,78.8h0M119.9,73.7h0M119.9,68.5h0M119.9,63.3h0M119.9,58.0h0M124.2,154.6h0M124.2,150.1h0M124.2,145.6h0M124.2,141.1h0M124.2,136.5h0M124.2,131.9h0M124.2,127.3h0M124.2,122.6h0M124.2,117.9h0M124.2,113.2h0M124.2,108.4h0M124.2,103.6h0M124.2,98.7h0M124.2,93.8h0M124.2,88.9h0M124.2,83.9h0M124.2,78.8h0M124.2,73.7h0M124.2,68.5h0M124.2,63.3h0M124.2,58.0h0M128.6,159.1h0M128.6,154.6h0M128.6,150.1h0M128.6,145.6h0M128.6,141.1h0M128.6,136.5h0M128.6,131.9h0M128.6,127.3h0M128.6,122.6h0M128.6,117.9h0M128.6,113.2h0M128.6,108.4h0M128.6,103.6h0M128.6,98.7h0M128.6,93.8h0M128.6,88.9h0M128.6,83.9h0M128.6,78.8h0M128.6,73.7h0M128.6,68.5h0M128.6,63.3h0M128.6,58.0h0M133.0,172.4h0M133.0,168.0h0M133.0,163.5h0M133.0,159.1h0M133.0,154.6h0M133.0,150.1h0M133.0,145.6h0M133.0,141.1h0M133.0,136.5h0M133.0,131.9h0M133.0,127.3h0M133.0,122.6h0M133.0,117.9h0M133.0,113.2h0M133.0,108.4h0M133.0,103.6h0M133.0,98.7h0M133.0,93.8h0M133.0,88.9h0M133.0,83.9h0M133.0,78.8h0M133.0,73.7h0M133.0,68.5h0M133.0,63.3h0M133.0,58.0h0M137.3,185.5h0M137.3,181.2h0M137.3,176.8h0M137.3,172.4h0M137.3,168.0h0M137.3,163.5h0M137.3,159.1h0M137.3,154.6h0M137.3,150.1h0M137.3,145.6h0M137.3,141.1h0M137.3,136.5h0M137.3,131.9h0M137.3,127.3h0M137.3,122.6h0M137.3,117.9h0M137.3,113.2h0M137.3,108.4h0M137.3,103.6h0M137.3,98.7h0M137.3,93.8h0M137.3,88.9h0M137.3,83.9h0M137.3,78.8h0M137.3,73.7h0M137.3,68.5h0M137.3,63.3h0M137.3,58.0h0M141.7,189.9h0M141.7,185.5h0M141.7,181.2h0M141.7,176.8h0M141.7,172.4h0M141.7,168.0h0M141.7,163.5h0M141.7,159.1h0M141.7,154.6h0M141.7,150.1h0M141.7,145.6h0M141.7,141.1h0M141.7,136.5h0M141.7,131.9h0M141.7,127.3h0M141.7,122.6h0M141.7,117.9h0M141.7,113.2h0M141.7,108.4h0M141.7,103.6h0M141.7,98.7h0M141.7,93.8h0M141.7,88.9h0M141.7,83.9h0M141.7,78.8h0M141.7,73.7h0M141.7,68.5h0M141.7,63.3h0M141.7,58.0h0M146.0,189.9h0M146.0,185.5h0M146.0,181.2h0M146.0,176.8h0M146.0,172.4h0M146.0,168.0h0M146.0,163.5h0M146.0,159.1h0M146.0,154.6h0M146.0,150.1h0M146.0,145.6h0M146.0,141.1h0M146.0,136.5h0M146.0,131.9h0M146.0,127.3h0M146.0,122.6h0M146.0,117.9h0M146.0,113.2h0M146.0,108.4h0M146.0,103.6h0M146.0,98.7h0M146.0,93.8h0M146.0,88.9h0M146.0,83.9h0M146.0,78.8h0M146.0,73.7h0M146.0,68.5h0M146.0,63.3h0M146.0,58.0h0M150.4,185.5h0M150.4,181.2h0M150.4,176.8h0M150.4,172.4h0M150.4,168.0h0M150.4,163.5h0M150.4,159.1h0M150.4,154.6h0M150.4,150.1h0M150.4,145.6h0M150.4,141.1h0M150.4,136.5h0M150.4,131.9h0M150.4,127.3h0M150.4,122.6h0M150.4,117.9h0M150.4,113.2h0M150.4,108.4h0M150.4,103.6h0M150.4,98.7h0M150.4,93.8h0M150.4,88.9h0M150.4,83.9h0M150.4,78.8h0M150.4,73.7h0M150.4,68.5h0M150.4,63.3h0M150.4,58.0h0M154.7,194.2h0M154.7,189.9h0M154.7,185.5h0M154.7,181.2h0M154.7,176.8h0M154.7,172.4h0M154.7,168.0h0M154.7,163.5h0M154.7,159.1h0M154.7,154.6h0M154.7,150.1h0M154.7,145.6h0M154.7,141.1h0M154.7,136.5h0M154.7,131.9h0M154.7,127.3h0M154.7,122.6h0M154.7,117.9h0M154.7,113.2h0M154.7,108.4h0M154.7,103.6h0M154.7,98.7h0M154.7,93.8h0M154.7,88.9h0M154.7,83.9h0M154.7,63.3h0M154.7,58.0h0M159.1,189.9h0M159.1,185.5h0M159.1,154.6h0M159.1,150.1h0M159.1,145.6h0M159.1,141.1h0M159.1,136.5h0M159.1,131.9h0M159.1,127.3h0M159.1,122.6h0M159.1,117.9h0M159.1,113.2h0M159.1,108.4h0M159.1,103.6h0M159.1,98.7h0M159.1,93.8h0M159.1,88.9h0M163.5,154.6h0M163.5,150.1h0M163.5,145.6h0M163.5,141.1h0M163.5,136.5h0M163.5,131.9h0M163.5,127.3h0M163.5,122.6h0M163.5,117.9h0M163.5,113.2h0M163.5,108.4h0M163.5,103.6h0M163.5,98.7h0M163.5,93.8h0M163.5,88.9h0M167.8,150.1h0M167.8,145.6h0M167.8,141.1h0M167.8,136.5h0M167.8,131.9h0M167.8,127.3h0M167.8,122.6h0M167.8,117.9h0M167.8,113.2h0M167.8,108.4h0M167.8,103.6h0M167.8,98.7h0M167.8,93.8h0M167.8,88.9h0M172.2,141.1h0M172.2,136.5h0M172.2,131.9h0M172.2,127.3h0M172.2,122.6h0M172.2,117.9h0M172.2,113.2h0M172.2,108.4h0M172.2,103.6h0M172.2,98.7h0M172.2,93.8h0M176.5,141.1h0M176.5,136.5h0M176.5,131.9h0M176.5,127.3h0M176.5,122.6h0M176.5,117.9h0M176.5,113.2h0M176.5,108.4h0M176.5,103.6h0M176.5,98.7h0M176.5,93.8h0M180.9,136.5h0M180.9,131.9h0M180.9,127.3h0M180.9,122.6h0M180.9,117.9h0M180.9,113.2h0M180.9,108.4h0M180.9,103.6h0M180.9,98.7h0M185.2,131.9h0M185.2,127.3h0M185.2,122.6h0M185.2,117.9h0M185.2,113.2h0M185.2,108.4h0M185.2,103.6h0M185.2,98.7h0M189.6,127.3h0M189.6,122.6h0M189.6,117.9h0M189.6,113.2h0M189.6,108.4h0M189.6,103.6h0M189.6,98.7h0M193.9,127.3h0M193.9,122.6h0M193.9,117.9h0M193.9,113.2h0M193.9,108.4h0M193.9,103.6h0M193.9,98.7h0M198.3,127.3h0M198.3,122.6h0M198.3,117.9h0M198.3,113.2h0M198.3,108.4h0M198.3,103.6h0M198.3,98.7h0M202.7,127.3h0M202.7,122.6h0M202.7,117.9h0M202.7,113.2h0M202.7,108.4h0M202.7,103.6h0M202.7,98.7h0M207.0,131.9h0M207.0,127.3h0M207.0,122.6h0M207.0,117.9h0M207.0,113.2h0M207.0,108.4h0M207.0,103.6h0M207.0,98.7h0M211.4,131.9h0M211.4,127.3h0M211.4,122.6h0M211.4,117.9h0M211.4,113.2h0M211.4,108.4h0M211.4,103.6h0M211.4,98.7h0M211.4,93.8h0M215.7,113.2h0M215.7,108.4h0M215.7,103.6h0M215.7,98.7h0M215.7,93.8h0M220.1,108.4h0M220.1,103.6h0M220.1,98.7h0M220.1,93.8h0M224.4,108.4h0M224.4,103.6h0M224.4,98.7h0M224.4,93.8h0" stroke="#151515" stroke-width="1.65" stroke-linecap="round" fill="none"/>
<polyline points="74.59,112.21 78.51,112.69 82.87,112.21 87.66,112.21 92.01,111.26 95.93,111.26 96.81,113.16 98.55,114.11 99.42,116.01 100.29,117.90 101.60,118.84 102.90,119.31 103.77,119.78 105.08,121.66 106.39,123.07 109.00,123.53 112.05,123.07 109.87,123.53 107.70,124.47 106.82,125.40 107.70,126.80 109.87,129.12 111.62,131.43 114.23,132.82 116.41,132.82 119.02,131.43 120.33,129.58 121.20,126.33 122.51,126.33 122.51,129.58 123.81,131.43 123.38,133.74 122.94,136.95 123.38,140.15 123.81,142.89 124.68,146.97 125.55,150.58 126.43,154.18 127.73,156.86 129.04,159.99 130.78,163.55 131.65,166.21 132.52,169.30 134.27,172.83 135.57,175.03 136.88,177.67 138.19,181.17 138.62,183.36 139.93,185.98 141.24,187.72 142.98,189.46 144.29,189.46 146.46,186.85 147.77,185.11 151.26,184.23 149.95,182.92 151.69,179.86 154.30,179.86 153.87,177.23 153.87,174.59 154.30,172.39 155.61,169.75 156.05,167.09 155.61,164.43 155.18,161.77 155.18,159.10 156.05,156.86 158.66,155.97 159.97,154.62 162.15,153.28 164.76,152.38 164.76,151.03 166.07,149.23 169.11,146.97 171.73,144.70 173.47,142.89 175.65,140.61 177.39,139.24 180.00,137.41 182.62,136.50 184.80,133.74 184.36,131.89 185.23,129.58 186.97,129.12 188.72,128.66 190.46,129.12 192.20,129.12 194.38,128.66 197.43,127.73 199.61,127.73 200.91,125.87 202.66,123.53 204.83,124.47 206.14,125.87 206.58,128.19 207.01,130.97 208.32,133.28" fill="none" stroke="#000" stroke-width="0.75" stroke-linejoin="round"/>
<polyline points="74.59,112.21 75.46,107.43 77.64,105.99 81.56,105.02 81.99,102.61 79.82,102.12 79.82,97.25 75.90,95.78 74.15,93.81 71.54,89.86 78.51,91.84 83.30,91.34 86.35,90.85 89.40,91.34 94.63,89.86 95.50,84.36 97.68,82.35 101.16,81.34 103.34,79.82 105.95,80.83 108.13,79.31 109.00,73.70 111.18,72.67 112.49,71.64 110.74,68.53 115.10,68.53 115.97,66.44 118.15,62.25 117.71,59.60 116.41,57.47 119.02,55.33 122.51,53.72 126.43,52.65 130.78,52.11 133.83,52.65" fill="none" stroke="#000" stroke-width="0.75" stroke-linejoin="round"/>
<polyline points="133.83,52.65 136.44,54.26 138.19,58.01 141.67,60.13 145.16,60.66 148.64,59.07 152.56,60.13 155.61,61.19 154.30,65.40 151.69,67.49 149.51,70.60 151.69,73.70 148.21,75.75 149.08,79.31 149.08,82.35 151.69,83.36 153.87,84.36 156.05,85.87 159.10,87.37 161.71,86.87 163.89,88.36 167.81,91.34 169.99,92.33 173.04,94.31 176.96,95.78 180.44,97.74 183.05,98.72 186.10,99.20 190.02,99.20 193.07,98.23 196.56,97.74 200.04,97.74 203.53,99.20 205.71,99.69 209.19,99.20 212.67,95.78 216.60,92.83 221.82,93.32 224.87,91.84 227.05,94.31 230.10,97.25 230.53,99.20 229.23,100.18 225.31,102.12 222.26,104.54 220.95,106.95 220.08,109.83 218.77,112.69 218.34,114.59 216.60,118.37 213.55,117.90 213.11,122.60 211.80,126.33 209.63,127.26 208.75,130.05 208.32,133.28" fill="none" stroke="#000" stroke-width="0.75" stroke-linejoin="round"/>
<polyline points="103.34,119.31 105.95,116.48 109.44,116.48 113.79,116.01 115.54,115.06 115.10,112.21 112.49,109.83 111.62,105.99 109.00,104.54 111.18,101.15 113.79,98.72 119.46,98.72 122.07,94.31 125.99,89.36 128.17,86.87 131.22,83.86 131.22,79.31 132.96,77.28 131.22,75.75 128.60,73.70 126.86,71.64 126.43,68.53 126.86,65.40 125.55,62.25 125.99,58.54 126.43,52.65" fill="none" stroke="#000" stroke-width="0.75" stroke-linejoin="round"/>
<polyline points="155.18,94.80 157.35,95.78 159.97,97.25 163.02,99.20 166.50,101.15 169.55,101.64 172.60,101.64 175.21,103.09 177.83,104.54 180.88,105.51 183.93,106.47 186.54,106.47 190.02,105.99 189.59,102.61 190.02,99.20" fill="none" stroke="#000" stroke-width="0.75" stroke-linejoin="round"/>
<polyline points="159.10,87.37 156.92,90.35 155.61,92.83 155.18,94.80" fill="none" stroke="#000" stroke-width="0.75" stroke-linejoin="round"/>
<polyline points="190.02,99.20 193.07,102.12 193.51,103.09" fill="none" stroke="#000" stroke-width="0.75" stroke-linejoin="round"/>
<polyline points="193.51,103.09 196.56,104.54 200.04,104.54 203.96,104.54 207.45,104.06 206.58,101.15 205.71,99.69" fill="none" stroke="#000" stroke-width="0.75" stroke-linejoin="round"/>
<polyline points="190.02,105.99 191.77,105.51 193.94,106.95 196.12,108.39 197.65,108.87 197.65,111.74 200.48,112.21 204.83,112.45 207.01,112.69 208.75,113.64 207.88,115.54 206.58,116.96 205.27,117.43 204.40,119.31 203.53,120.25 203.96,122.60 205.27,123.07 206.14,120.25 207.01,119.78 208.32,119.31 208.75,121.66 209.19,124.00 209.63,127.26" fill="none" stroke="#000" stroke-width="0.75" stroke-linejoin="round"/>
<polyline points="190.02,105.99 192.20,108.39 190.46,110.30 192.64,112.21 190.02,114.59 192.64,116.48 193.07,120.25 192.20,123.07 193.94,127.26 194.38,128.66" fill="none" stroke="#000" stroke-width="0.75" stroke-linejoin="round"/>
<polyline points="154.30,182.05 155.61,182.05 157.35,183.80 158.66,185.98 160.40,187.72 162.15,191.64 163.02,194.25 161.71,196.85 159.53,198.15 157.35,199.02 155.18,197.72 154.30,195.11 153.87,192.07 153.87,189.03 154.30,185.98 154.30,182.05" fill="none" stroke="#000" stroke-width="0.75" stroke-linejoin="round"/>
<polyline points="189,127.3 192,127.9 195,127.2 197.5,126.6 200,126 202,125.2" fill="none" stroke="#000" stroke-width="2.1" stroke-linejoin="round"/>
<polyline points="198,119.2 199,121.5 199.4,124 200.3,126.2" fill="none" stroke="#000" stroke-width="2.0"/>
<polyline points="201.3,120.6 202.3,123 202.8,125.6" fill="none" stroke="#000" stroke-width="1.2"/>
<polyline points="194.5,126.5 195.5,124.5 197,123.5" fill="none" stroke="#000" stroke-width="1.0"/>
<path d="M209.9,164.6 C212,164.2 213.2,168 213,172 C212.8,176 212,179.6 210.2,179.8 C208.4,179.8 208,176 208.2,172 C208.4,168 208.8,165 209.9,164.6Z" fill="#bdf3fb"/>
<polyline points="211,165.3 210.9,168.5 210.6,171 210.9,172.8 210.3,174.5 209.9,176.5 209.4,178.4" fill="none" stroke="#000" stroke-width="1.6" stroke-linecap="round"/>
<circle cx="209.3" cy="178.4" r="0.8" fill="#000"/>
<path d="M213.4,191.8 C215,191.6 216.6,193 216.4,194.6 C216.2,196 214.6,196.2 213.8,195.2 C213,194.2 212.6,192.2 213.4,191.8Z" fill="#bdf3fb"/>
<polyline points="213.6,192.6 214.5,194.6" fill="none" stroke="#000" stroke-width="1.1"/>
<polyline points="211.8,186.2 212.3,187.8" fill="none" stroke="#333" stroke-width="0.7"/>
<circle cx="213.3" cy="160.5" r="0.5" fill="#444"/><circle cx="211.8" cy="162.8" r="0.4" fill="#444"/><circle cx="214.3" cy="170.5" r="0.4" fill="#444"/>
<circle cx="121.2" cy="172.5" r="0.45" fill="#555"/>
<circle cx="122.3" cy="171.2" r="0.45" fill="#555"/>
<circle cx="120.8" cy="174.8" r="0.45" fill="#555"/>
<circle cx="122.6" cy="175.5" r="0.45" fill="#555"/>
<circle cx="123.4" cy="173.4" r="0.45" fill="#555"/>
<circle cx="121.5" cy="177.8" r="0.45" fill="#555"/>
<circle cx="122" cy="184.2" r="0.45" fill="#555"/>
</g>
<rect x="72.20" y="52.50" width="156.60" height="150.30" fill="none" stroke="#000" stroke-width="2.5" />
<line x1="89.40" y1="51.30" x2="89.40" y2="44.30" stroke="#000" stroke-width="1.3"/>
<line x1="89.40" y1="204.00" x2="89.40" y2="211.20" stroke="#000" stroke-width="1.3"/>
<line x1="111.18" y1="51.30" x2="111.18" y2="44.30" stroke="#000" stroke-width="1.3"/>
<line x1="111.18" y1="204.00" x2="111.18" y2="211.20" stroke="#000" stroke-width="1.3"/>
<line x1="132.96" y1="51.30" x2="132.96" y2="44.30" stroke="#000" stroke-width="1.3"/>
<line x1="132.96" y1="204.00" x2="132.96" y2="211.20" stroke="#000" stroke-width="1.3"/>
<line x1="154.74" y1="51.30" x2="154.74" y2="44.30" stroke="#000" stroke-width="1.3"/>
<line x1="154.74" y1="204.00" x2="154.74" y2="211.20" stroke="#000" stroke-width="1.3"/>
<line x1="176.52" y1="51.30" x2="176.52" y2="44.30" stroke="#000" stroke-width="1.3"/>
<line x1="176.52" y1="204.00" x2="176.52" y2="211.20" stroke="#000" stroke-width="1.3"/>
<line x1="198.30" y1="51.30" x2="198.30" y2="44.30" stroke="#000" stroke-width="1.3"/>
<line x1="198.30" y1="204.00" x2="198.30" y2="211.20" stroke="#000" stroke-width="1.3"/>
<line x1="220.08" y1="51.30" x2="220.08" y2="44.30" stroke="#000" stroke-width="1.3"/>
<line x1="220.08" y1="204.00" x2="220.08" y2="211.20" stroke="#000" stroke-width="1.3"/>
<line x1="71.00" y1="63.30" x2="63.90" y2="63.30" stroke="#000" stroke-width="1.3"/>
<line x1="230.00" y1="63.30" x2="237.10" y2="63.30" stroke="#000" stroke-width="1.3"/>
<line x1="71.00" y1="88.86" x2="63.90" y2="88.86" stroke="#000" stroke-width="1.3"/>
<line x1="230.00" y1="88.86" x2="237.10" y2="88.86" stroke="#000" stroke-width="1.3"/>
<line x1="71.00" y1="113.16" x2="63.90" y2="113.16" stroke="#000" stroke-width="1.3"/>
<line x1="230.00" y1="113.16" x2="237.10" y2="113.16" stroke="#000" stroke-width="1.3"/>
<line x1="71.00" y1="136.50" x2="63.90" y2="136.50" stroke="#000" stroke-width="1.3"/>
<line x1="230.00" y1="136.50" x2="237.10" y2="136.50" stroke="#000" stroke-width="1.3"/>
<line x1="71.00" y1="159.10" x2="63.90" y2="159.10" stroke="#000" stroke-width="1.3"/>
<line x1="230.00" y1="159.10" x2="237.10" y2="159.10" stroke="#000" stroke-width="1.3"/>
<line x1="71.00" y1="181.17" x2="63.90" y2="181.17" stroke="#000" stroke-width="1.3"/>
<line x1="230.00" y1="181.17" x2="237.10" y2="181.17" stroke="#000" stroke-width="1.3"/>
<line x1="71.00" y1="202.91" x2="63.90" y2="202.91" stroke="#000" stroke-width="1.3"/>
<line x1="230.00" y1="202.91" x2="237.10" y2="202.91" stroke="#000" stroke-width="1.3"/>
<text x="224.50" y="61.80" font-size="9.4" font-family="Liberation Serif, serif" font-weight="bold" text-anchor="end" >(f)</text>
</g>
<text x="53.20" y="68.00" font-size="13.2" font-family="Liberation Sans, sans-serif" text-anchor="end" >35</text>
<circle cx="55.4" cy="59.60" r="1.25" fill="#000"/>
<text x="575.90" y="68.00" font-size="13.2" font-family="Liberation Sans, sans-serif" text-anchor="start" >35</text>
<circle cx="592.70" cy="59.60" r="1.25" fill="#000"/>
<text x="53.20" y="93.56" font-size="13.2" font-family="Liberation Sans, sans-serif" text-anchor="end" >30</text>
<circle cx="55.4" cy="85.16" r="1.25" fill="#000"/>
<text x="575.90" y="93.56" font-size="13.2" font-family="Liberation Sans, sans-serif" text-anchor="start" >30</text>
<circle cx="592.70" cy="85.16" r="1.25" fill="#000"/>
<text x="53.20" y="117.86" font-size="13.2" font-family="Liberation Sans, sans-serif" text-anchor="end" >25</text>
<circle cx="55.4" cy="109.46" r="1.25" fill="#000"/>
<text x="575.90" y="117.86" font-size="13.2" font-family="Liberation Sans, sans-serif" text-anchor="start" >25</text>
<circle cx="592.70" cy="109.46" r="1.25" fill="#000"/>
<text x="53.20" y="141.20" font-size="13.2" font-family="Liberation Sans, sans-serif" text-anchor="end" >20</text>
<circle cx="55.4" cy="132.80" r="1.25" fill="#000"/>
<text x="575.90" y="141.20" font-size="13.2" font-family="Liberation Sans, sans-serif" text-anchor="start" >20</text>
<circle cx="592.70" cy="132.80" r="1.25" fill="#000"/>
<text x="53.20" y="163.80" font-size="13.2" font-family="Liberation Sans, sans-serif" text-anchor="end" >15</text>
<circle cx="55.4" cy="155.40" r="1.25" fill="#000"/>
<text x="575.90" y="163.80" font-size="13.2" font-family="Liberation Sans, sans-serif" text-anchor="start" >15</text>
<circle cx="592.70" cy="155.40" r="1.25" fill="#000"/>
<text x="53.20" y="185.87" font-size="13.2" font-family="Liberation Sans, sans-serif" text-anchor="end" >10</text>
<circle cx="55.4" cy="177.47" r="1.25" fill="#000"/>
<text x="575.90" y="185.87" font-size="13.2" font-family="Liberation Sans, sans-serif" text-anchor="start" >10</text>
<circle cx="592.70" cy="177.47" r="1.25" fill="#000"/>
<text x="53.20" y="207.61" font-size="13.2" font-family="Liberation Sans, sans-serif" text-anchor="end" >5</text>
<circle cx="55.4" cy="199.21" r="1.25" fill="#000"/>
<text x="575.90" y="207.61" font-size="13.2" font-family="Liberation Sans, sans-serif" text-anchor="start" >5</text>
<circle cx="585.40" cy="199.21" r="1.25" fill="#000"/>
<text x="53.20" y="270.20" font-size="13.2" font-family="Liberation Sans, sans-serif" text-anchor="end" >35</text>
<circle cx="55.4" cy="261.80" r="1.25" fill="#000"/>
<text x="575.90" y="270.20" font-size="13.2" font-family="Liberation Sans, sans-serif" text-anchor="start" >35</text>
<circle cx="592.70" cy="261.80" r="1.25" fill="#000"/>
<text x="53.20" y="295.76" font-size="13.2" font-family="Liberation Sans, sans-serif" text-anchor="end" >30</text>
<circle cx="55.4" cy="287.36" r="1.25" fill="#000"/>
<text x="575.90" y="295.76" font-size="13.2" font-family="Liberation Sans, sans-serif" text-anchor="start" >30</text>
<circle cx="592.70" cy="287.36" r="1.25" fill="#000"/>
<text x="53.20" y="320.06" font-size="13.2" font-family="Liberation Sans, sans-serif" text-anchor="end" >25</text>
<circle cx="55.4" cy="311.66" r="1.25" fill="#000"/>
<text x="575.90" y="320.06" font-size="13.2" font-family="Liberation Sans, sans-serif" text-anchor="start" >25</text>
<circle cx="592.70" cy="311.66" r="1.25" fill="#000"/>
<text x="53.20" y="343.40" font-size="13.2" font-family="Liberation Sans, sans-serif" text-anchor="end" >20</text>
<circle cx="55.4" cy="335.00" r="1.25" fill="#000"/>
<text x="575.90" y="343.40" font-size="13.2" font-family="Liberation Sans, sans-serif" text-anchor="start" >20</text>
<circle cx="592.70" cy="335.00" r="1.25" fill="#000"/>
<text x="53.20" y="366.00" font-size="13.2" font-family="Liberation Sans, sans-serif" text-anchor="end" >15</text>
<circle cx="55.4" cy="357.60" r="1.25" fill="#000"/>
<text x="575.90" y="366.00" font-size="13.2" font-family="Liberation Sans, sans-serif" text-anchor="start" >15</text>
<circle cx="592.70" cy="357.60" r="1.25" fill="#000"/>
<text x="53.20" y="388.07" font-size="13.2" font-family="Liberation Sans, sans-serif" text-anchor="end" >10</text>
<circle cx="55.4" cy="379.67" r="1.25" fill="#000"/>
<text x="575.90" y="388.07" font-size="13.2" font-family="Liberation Sans, sans-serif" text-anchor="start" >10</text>
<circle cx="592.70" cy="379.67" r="1.25" fill="#000"/>
<text x="53.20" y="409.81" font-size="13.2" font-family="Liberation Sans, sans-serif" text-anchor="end" >5</text>
<circle cx="55.4" cy="401.41" r="1.25" fill="#000"/>
<text x="575.90" y="409.81" font-size="13.2" font-family="Liberation Sans, sans-serif" text-anchor="start" >5</text>
<circle cx="585.40" cy="401.41" r="1.25" fill="#000"/>
<text x="88.10" y="429.80" font-size="13.2" font-family="Liberation Sans, sans-serif" text-anchor="middle" >65</text>
<circle cx="97.00" cy="421.30" r="1.25" fill="#000"/>
<text x="109.88" y="429.80" font-size="13.2" font-family="Liberation Sans, sans-serif" text-anchor="middle" >70</text>
<circle cx="118.78" cy="421.30" r="1.25" fill="#000"/>
<text x="131.66" y="429.80" font-size="13.2" font-family="Liberation Sans, sans-serif" text-anchor="middle" >75</text>
<circle cx="140.56" cy="421.30" r="1.25" fill="#000"/>
<text x="153.44" y="429.80" font-size="13.2" font-family="Liberation Sans, sans-serif" text-anchor="middle" >80</text>
<circle cx="162.34" cy="421.30" r="1.25" fill="#000"/>
<text x="175.22" y="429.80" font-size="13.2" font-family="Liberation Sans, sans-serif" text-anchor="middle" >85</text>
<circle cx="184.12" cy="421.30" r="1.25" fill="#000"/>
<text x="197.00" y="429.80" font-size="13.2" font-family="Liberation Sans, sans-serif" text-anchor="middle" >90</text>
<circle cx="205.90" cy="421.30" r="1.25" fill="#000"/>
<text x="218.78" y="429.80" font-size="13.2" font-family="Liberation Sans, sans-serif" text-anchor="middle" >95</text>
<circle cx="227.68" cy="421.30" r="1.25" fill="#000"/>
<text x="254.40" y="429.80" font-size="13.2" font-family="Liberation Sans, sans-serif" text-anchor="middle" >65</text>
<circle cx="263.30" cy="421.30" r="1.25" fill="#000"/>
<text x="276.18" y="429.80" font-size="13.2" font-family="Liberation Sans, sans-serif" text-anchor="middle" >70</text>
<circle cx="285.08" cy="421.30" r="1.25" fill="#000"/>
<text x="297.96" y="429.80" font-size="13.2" font-family="Liberation Sans, sans-serif" text-anchor="middle" >75</text>
<circle cx="306.86" cy="421.30" r="1.25" fill="#000"/>
<text x="319.74" y="429.80" font-size="13.2" font-family="Liberation Sans, sans-serif" text-anchor="middle" >80</text>
<circle cx="328.64" cy="421.30" r="1.25" fill="#000"/>
<text x="341.52" y="429.80" font-size="13.2" font-family="Liberation Sans, sans-serif" text-anchor="middle" >85</text>
<circle cx="350.42" cy="421.30" r="1.25" fill="#000"/>
<text x="363.30" y="429.80" font-size="13.2" font-family="Liberation Sans, sans-serif" text-anchor="middle" >90</text>
<circle cx="372.20" cy="421.30" r="1.25" fill="#000"/>
<text x="385.08" y="429.80" font-size="13.2" font-family="Liberation Sans, sans-serif" text-anchor="middle" >95</text>
<circle cx="393.98" cy="421.30" r="1.25" fill="#000"/>
<text x="420.80" y="429.80" font-size="13.2" font-family="Liberation Sans, sans-serif" text-anchor="middle" >65</text>
<circle cx="429.70" cy="421.30" r="1.25" fill="#000"/>
<text x="442.58" y="429.80" font-size="13.2" font-family="Liberation Sans, sans-serif" text-anchor="middle" >70</text>
<circle cx="451.48" cy="421.30" r="1.25" fill="#000"/>
<text x="464.36" y="429.80" font-size="13.2" font-family="Liberation Sans, sans-serif" text-anchor="middle" >75</text>
<circle cx="473.26" cy="421.30" r="1.25" fill="#000"/>
<text x="486.14" y="429.80" font-size="13.2" font-family="Liberation Sans, sans-serif" text-anchor="middle" >80</text>
<circle cx="495.04" cy="421.30" r="1.25" fill="#000"/>
<text x="507.92" y="429.80" font-size="13.2" font-family="Liberation Sans, sans-serif" text-anchor="middle" >85</text>
<circle cx="516.82" cy="421.30" r="1.25" fill="#000"/>
<text x="529.70" y="429.80" font-size="13.2" font-family="Liberation Sans, sans-serif" text-anchor="middle" >90</text>
<circle cx="538.60" cy="421.30" r="1.25" fill="#000"/>
<text x="551.48" y="429.80" font-size="13.2" font-family="Liberation Sans, sans-serif" text-anchor="middle" >95</text>
<circle cx="560.38" cy="421.30" r="1.25" fill="#000"/>
<polygon points="150.3,445.05 163.4,440.5 163.4,449.6" fill="#a80000" stroke="#000" stroke-width="2.4" stroke-linejoin="miter"/>
<polygon points="456.3,445.05 444.3,440.5 444.3,449.6" fill="#0b3a9b" stroke="#000" stroke-width="2.4" stroke-linejoin="miter"/>
<rect x="163.40" y="440.50" width="28.39" height="9.10" fill="#c20000" stroke="none" stroke-width="0" />
<rect x="191.49" y="440.50" width="28.39" height="9.10" fill="#e31a00" stroke="none" stroke-width="0" />
<rect x="219.58" y="440.50" width="28.39" height="9.10" fill="#ff6000" stroke="none" stroke-width="0" />
<rect x="247.67" y="440.50" width="28.39" height="9.10" fill="#ffb733" stroke="none" stroke-width="0" />
<rect x="275.76" y="440.50" width="28.39" height="9.10" fill="#fff8d9" stroke="none" stroke-width="0" />
<rect x="303.85" y="440.50" width="28.39" height="9.10" fill="#bff8fe" stroke="none" stroke-width="0" />
<rect x="331.94" y="440.50" width="28.39" height="9.10" fill="#98ebfb" stroke="none" stroke-width="0" />
<rect x="360.03" y="440.50" width="28.39" height="9.10" fill="#4aa6ee" stroke="none" stroke-width="0" />
<rect x="388.12" y="440.50" width="28.39" height="9.10" fill="#1d6dd0" stroke="none" stroke-width="0" />
<rect x="416.21" y="440.50" width="28.39" height="9.10" fill="#0a3585" stroke="none" stroke-width="0" />
<rect x="163.40" y="440.50" width="280.90" height="9.10" fill="none" stroke="#000" stroke-width="2.4" />
<line x1="163.40" y1="440.50" x2="163.40" y2="449.60" stroke="#000" stroke-width="1.8"/>
<line x1="444.30" y1="440.50" x2="444.30" y2="449.60" stroke="#000" stroke-width="1.8"/>
<line x1="163.40" y1="450.80" x2="163.40" y2="458.90" stroke="#000" stroke-width="1.3"/>
<text x="163.70" y="474.40" font-size="13.2" font-family="Liberation Sans, sans-serif" text-anchor="middle" >−15</text>
<line x1="191.49" y1="450.80" x2="191.49" y2="458.90" stroke="#000" stroke-width="1.3"/>
<text x="191.79" y="474.40" font-size="13.2" font-family="Liberation Sans, sans-serif" text-anchor="middle" >−12</text>
<line x1="219.58" y1="450.80" x2="219.58" y2="458.90" stroke="#000" stroke-width="1.3"/>
<text x="219.88" y="474.40" font-size="13.2" font-family="Liberation Sans, sans-serif" text-anchor="middle" >−9</text>
<line x1="247.67" y1="450.80" x2="247.67" y2="458.90" stroke="#000" stroke-width="1.3"/>
<text x="247.97" y="474.40" font-size="13.2" font-family="Liberation Sans, sans-serif" text-anchor="middle" >−6</text>
<line x1="275.76" y1="450.80" x2="275.76" y2="458.90" stroke="#000" stroke-width="1.3"/>
<text x="276.06" y="474.40" font-size="13.2" font-family="Liberation Sans, sans-serif" text-anchor="middle" >−3</text>
<line x1="303.85" y1="450.80" x2="303.85" y2="458.90" stroke="#000" stroke-width="1.3"/>
<text x="304.15" y="474.40" font-size="13.2" font-family="Liberation Sans, sans-serif" text-anchor="middle" >0</text>
<line x1="331.94" y1="450.80" x2="331.94" y2="458.90" stroke="#000" stroke-width="1.3"/>
<text x="332.24" y="474.40" font-size="13.2" font-family="Liberation Sans, sans-serif" text-anchor="middle" >3</text>
<line x1="360.03" y1="450.80" x2="360.03" y2="458.90" stroke="#000" stroke-width="1.3"/>
<text x="360.33" y="474.40" font-size="13.2" font-family="Liberation Sans, sans-serif" text-anchor="middle" >6</text>
<line x1="388.12" y1="450.80" x2="388.12" y2="458.90" stroke="#000" stroke-width="1.3"/>
<text x="388.42" y="474.40" font-size="13.2" font-family="Liberation Sans, sans-serif" text-anchor="middle" >9</text>
<line x1="416.21" y1="450.80" x2="416.21" y2="458.90" stroke="#000" stroke-width="1.3"/>
<text x="416.51" y="474.40" font-size="13.2" font-family="Liberation Sans, sans-serif" text-anchor="middle" >12</text>
<line x1="444.30" y1="450.80" x2="444.30" y2="458.90" stroke="#000" stroke-width="1.3"/>
<text x="444.60" y="474.40" font-size="13.2" font-family="Liberation Sans, sans-serif" text-anchor="middle" >15</text>
<clipPath id="fclip0"><rect x="60.5" y="496.7" width="163.7" height="163.7"/></clipPath>
<g clip-path="url(#fclip0)">
<path d="M101.10,659.50 C102.70,658.12 108.18,654.87 110.70,651.20 C113.22,647.53 114.83,644.35 116.20,637.50 C117.57,630.65 117.98,619.23 118.90,610.10 C119.82,600.97 120.78,589.55 121.70,582.70 C122.62,575.85 123.48,570.82 124.40,569.00 C125.32,567.18 126.15,568.60 127.20,571.80 C128.25,575.00 129.57,583.63 130.70,588.20 C131.83,592.77 132.77,596.47 134.00,599.20 C135.23,601.93 136.73,601.40 138.10,604.60 C139.47,607.80 140.83,612.92 142.20,618.40 C143.57,623.88 144.92,632.93 146.30,637.50 C147.68,642.07 148.67,643.52 150.50,645.80 C152.33,648.08 155.25,649.83 157.30,651.20 C159.35,652.57 160.97,652.62 162.80,654.00 C164.63,655.38 167.38,658.58 168.30,659.50" fill="none" stroke="#22e622" stroke-width="2.6" stroke-linejoin="round"/>
<path d="M120.30,660.80 C121.22,657.83 124.20,652.37 125.80,643.00 C127.40,633.63 128.77,615.57 129.90,604.60 C131.03,593.63 131.68,586.33 132.60,577.20 C133.52,568.07 134.48,558.70 135.40,549.80 C136.32,540.90 137.18,526.08 138.10,523.80 C139.02,521.52 140.07,527.20 140.90,536.10 C141.73,545.00 142.42,564.87 143.10,577.20 C143.78,589.53 144.23,601.87 145.00,610.10 C145.77,618.33 146.10,622.03 147.70,626.60 C149.30,631.17 152.32,634.30 154.60,637.50 C156.88,640.70 159.80,644.65 161.40,645.80 C163.00,646.95 163.05,643.50 164.20,644.40 C165.35,645.30 166.93,649.15 168.30,651.20 C169.67,653.25 170.58,655.10 172.40,656.70 C174.22,658.30 178.07,660.12 179.20,660.80" fill="none" stroke="#1a1ae6" stroke-width="2.6" stroke-linejoin="round"/>
</g>
<rect x="60.50" y="496.70" width="163.70" height="163.70" fill="none" stroke="#000" stroke-width="2.5" />
<line x1="60.50" y1="495.50" x2="60.50" y2="488.00" stroke="#000" stroke-width="1.2"/>
<line x1="60.50" y1="661.60" x2="60.50" y2="668.70" stroke="#000" stroke-width="1.2"/>
<text x="60.50" y="684.90" font-size="13.2" font-family="Liberation Sans, sans-serif" text-anchor="middle" >−20</text>
<line x1="93.24" y1="495.50" x2="93.24" y2="488.00" stroke="#000" stroke-width="1.2"/>
<line x1="93.24" y1="661.60" x2="93.24" y2="668.70" stroke="#000" stroke-width="1.2"/>
<text x="93.24" y="684.90" font-size="13.2" font-family="Liberation Sans, sans-serif" text-anchor="middle" >−10</text>
<line x1="125.98" y1="495.50" x2="125.98" y2="488.00" stroke="#000" stroke-width="1.2"/>
<line x1="125.98" y1="661.60" x2="125.98" y2="668.70" stroke="#000" stroke-width="1.2"/>
<text x="125.98" y="684.90" font-size="13.2" font-family="Liberation Sans, sans-serif" text-anchor="middle" >0</text>
<line x1="158.72" y1="495.50" x2="158.72" y2="488.00" stroke="#000" stroke-width="1.2"/>
<line x1="158.72" y1="661.60" x2="158.72" y2="668.70" stroke="#000" stroke-width="1.2"/>
<text x="158.72" y="684.90" font-size="13.2" font-family="Liberation Sans, sans-serif" text-anchor="middle" >10</text>
<line x1="191.46" y1="495.50" x2="191.46" y2="488.00" stroke="#000" stroke-width="1.2"/>
<line x1="191.46" y1="661.60" x2="191.46" y2="668.70" stroke="#000" stroke-width="1.2"/>
<text x="191.46" y="684.90" font-size="13.2" font-family="Liberation Sans, sans-serif" text-anchor="middle" >20</text>
<line x1="224.20" y1="495.50" x2="224.20" y2="488.00" stroke="#000" stroke-width="1.2"/>
<line x1="224.20" y1="661.60" x2="224.20" y2="668.70" stroke="#000" stroke-width="1.2"/>
<text x="224.20" y="684.90" font-size="13.2" font-family="Liberation Sans, sans-serif" text-anchor="middle" >30</text>
<line x1="59.30" y1="660.40" x2="51.30" y2="660.40" stroke="#000" stroke-width="1.2"/>
<line x1="225.40" y1="660.40" x2="232.40" y2="660.40" stroke="#000" stroke-width="1.2"/>
<line x1="59.30" y1="627.66" x2="51.30" y2="627.66" stroke="#000" stroke-width="1.2"/>
<line x1="225.40" y1="627.66" x2="232.40" y2="627.66" stroke="#000" stroke-width="1.2"/>
<line x1="59.30" y1="594.92" x2="51.30" y2="594.92" stroke="#000" stroke-width="1.2"/>
<line x1="225.40" y1="594.92" x2="232.40" y2="594.92" stroke="#000" stroke-width="1.2"/>
<line x1="59.30" y1="562.18" x2="51.30" y2="562.18" stroke="#000" stroke-width="1.2"/>
<line x1="225.40" y1="562.18" x2="232.40" y2="562.18" stroke="#000" stroke-width="1.2"/>
<line x1="59.30" y1="529.44" x2="51.30" y2="529.44" stroke="#000" stroke-width="1.2"/>
<line x1="225.40" y1="529.44" x2="232.40" y2="529.44" stroke="#000" stroke-width="1.2"/>
<line x1="59.30" y1="496.70" x2="51.30" y2="496.70" stroke="#000" stroke-width="1.2"/>
<line x1="225.40" y1="496.70" x2="232.40" y2="496.70" stroke="#000" stroke-width="1.2"/>
<text x="142.35" y="703.80" font-size="16.4" font-family="Liberation Sans, sans-serif" text-anchor="middle" >Change (%)</text>
<text x="64.90" y="506.90" font-size="9.9" font-family="Liberation Serif, serif" font-weight="bold" text-anchor="start" >median (p−value &lt;0.001)</text>
<text x="64.90" y="516.20" font-size="9.9" font-family="Liberation Serif, serif" font-weight="bold" text-anchor="start" >distribution (p−value &lt;0.001) (g)</text>
<clipPath id="fclip1"><rect x="244.5" y="496.7" width="163.7" height="163.7"/></clipPath>
<g clip-path="url(#fclip1)">
<path d="M297.50,654.00 C298.18,653.08 300.23,651.70 301.60,648.50 C302.97,645.30 304.57,639.37 305.70,634.80 C306.83,630.23 307.48,627.03 308.40,621.10 C309.32,615.17 310.28,606.52 311.20,599.20 C312.12,591.88 312.85,583.83 313.90,577.20 C314.95,570.57 316.35,560.30 317.50,559.40 C318.65,558.50 319.57,566.55 320.80,571.80 C322.03,577.05 323.53,583.60 324.90,590.90 C326.27,598.20 327.63,608.73 329.00,615.60 C330.37,622.47 331.50,626.85 333.10,632.10 C334.70,637.35 336.78,643.22 338.60,647.10 C340.42,650.98 342.40,653.33 344.00,655.40 C345.60,657.47 347.50,658.82 348.20,659.50" fill="none" stroke="#22e622" stroke-width="2.6" stroke-linejoin="round"/>
<path d="M278.30,660.80 C279.90,660.12 284.93,657.93 287.90,656.70 C290.87,655.47 293.60,654.53 296.10,653.40 C298.60,652.27 300.85,652.08 302.90,649.90 C304.95,647.72 306.80,642.58 308.40,640.30 C310.00,638.02 311.27,636.67 312.50,636.20 C313.73,635.73 314.65,638.65 315.80,637.50 C316.95,636.35 318.12,633.87 319.40,629.30 C320.68,624.73 322.13,616.03 323.50,610.10 C324.87,604.17 326.23,599.18 327.60,593.70 C328.97,588.22 330.55,580.77 331.70,577.20 C332.85,573.63 333.58,571.83 334.50,572.30 C335.42,572.77 336.28,573.70 337.20,580.00 C338.12,586.30 339.08,601.42 340.00,610.10 C340.92,618.78 341.57,627.30 342.70,632.10 C343.83,636.90 345.20,636.85 346.80,638.90 C348.40,640.95 350.25,641.88 352.30,644.40 C354.35,646.92 356.82,651.48 359.10,654.00 C361.38,656.52 364.85,658.58 366.00,659.50" fill="none" stroke="#1a1ae6" stroke-width="2.6" stroke-linejoin="round"/>
</g>
<rect x="244.50" y="496.70" width="163.70" height="163.70" fill="none" stroke="#000" stroke-width="2.5" />
<line x1="244.50" y1="495.50" x2="244.50" y2="488.00" stroke="#000" stroke-width="1.2"/>
<line x1="244.50" y1="661.60" x2="244.50" y2="668.70" stroke="#000" stroke-width="1.2"/>
<text x="244.50" y="684.90" font-size="13.2" font-family="Liberation Sans, sans-serif" text-anchor="middle" >−20</text>
<line x1="277.24" y1="495.50" x2="277.24" y2="488.00" stroke="#000" stroke-width="1.2"/>
<line x1="277.24" y1="661.60" x2="277.24" y2="668.70" stroke="#000" stroke-width="1.2"/>
<text x="277.24" y="684.90" font-size="13.2" font-family="Liberation Sans, sans-serif" text-anchor="middle" >−10</text>
<line x1="309.98" y1="495.50" x2="309.98" y2="488.00" stroke="#000" stroke-width="1.2"/>
<line x1="309.98" y1="661.60" x2="309.98" y2="668.70" stroke="#000" stroke-width="1.2"/>
<text x="309.98" y="684.90" font-size="13.2" font-family="Liberation Sans, sans-serif" text-anchor="middle" >0</text>
<line x1="342.72" y1="495.50" x2="342.72" y2="488.00" stroke="#000" stroke-width="1.2"/>
<line x1="342.72" y1="661.60" x2="342.72" y2="668.70" stroke="#000" stroke-width="1.2"/>
<text x="342.72" y="684.90" font-size="13.2" font-family="Liberation Sans, sans-serif" text-anchor="middle" >10</text>
<line x1="375.46" y1="495.50" x2="375.46" y2="488.00" stroke="#000" stroke-width="1.2"/>
<line x1="375.46" y1="661.60" x2="375.46" y2="668.70" stroke="#000" stroke-width="1.2"/>
<text x="375.46" y="684.90" font-size="13.2" font-family="Liberation Sans, sans-serif" text-anchor="middle" >20</text>
<line x1="408.20" y1="495.50" x2="408.20" y2="488.00" stroke="#000" stroke-width="1.2"/>
<line x1="408.20" y1="661.60" x2="408.20" y2="668.70" stroke="#000" stroke-width="1.2"/>
<text x="408.20" y="684.90" font-size="13.2" font-family="Liberation Sans, sans-serif" text-anchor="middle" >30</text>
<line x1="243.30" y1="660.40" x2="235.30" y2="660.40" stroke="#000" stroke-width="1.2"/>
<line x1="409.40" y1="660.40" x2="416.40" y2="660.40" stroke="#000" stroke-width="1.2"/>
<line x1="243.30" y1="627.66" x2="235.30" y2="627.66" stroke="#000" stroke-width="1.2"/>
<line x1="409.40" y1="627.66" x2="416.40" y2="627.66" stroke="#000" stroke-width="1.2"/>
<line x1="243.30" y1="594.92" x2="235.30" y2="594.92" stroke="#000" stroke-width="1.2"/>
<line x1="409.40" y1="594.92" x2="416.40" y2="594.92" stroke="#000" stroke-width="1.2"/>
<line x1="243.30" y1="562.18" x2="235.30" y2="562.18" stroke="#000" stroke-width="1.2"/>
<line x1="409.40" y1="562.18" x2="416.40" y2="562.18" stroke="#000" stroke-width="1.2"/>
<line x1="243.30" y1="529.44" x2="235.30" y2="529.44" stroke="#000" stroke-width="1.2"/>
<line x1="409.40" y1="529.44" x2="416.40" y2="529.44" stroke="#000" stroke-width="1.2"/>
<line x1="243.30" y1="496.70" x2="235.30" y2="496.70" stroke="#000" stroke-width="1.2"/>
<line x1="409.40" y1="496.70" x2="416.40" y2="496.70" stroke="#000" stroke-width="1.2"/>
<text x="326.35" y="703.80" font-size="16.4" font-family="Liberation Sans, sans-serif" text-anchor="middle" >Change (%)</text>
<text x="248.90" y="506.90" font-size="9.9" font-family="Liberation Serif, serif" font-weight="bold" text-anchor="start" >median (p−value &lt;0.001)</text>
<text x="248.90" y="516.20" font-size="9.9" font-family="Liberation Serif, serif" font-weight="bold" text-anchor="start" >distribution (p−value &lt;0.001)</text>
<text x="403.40" y="516.20" font-size="9.9" font-family="Liberation Serif, serif" font-weight="bold" text-anchor="end" >(h)</text>
<clipPath id="fclip2"><rect x="428.6" y="496.7" width="163.69999999999993" height="163.7"/></clipPath>
<g clip-path="url(#fclip2)">
<path d="M444.40,660.80 C446.23,659.90 452.20,657.68 455.40,655.40 C458.60,653.12 460.85,650.53 463.60,647.10 C466.35,643.67 469.38,637.98 471.90,634.80 C474.42,631.62 476.88,629.47 478.70,628.00 C480.52,626.53 481.20,626.00 482.80,626.00 C484.40,626.00 486.02,627.35 488.30,628.00 C490.58,628.65 493.75,630.13 496.50,629.90 C499.25,629.67 502.05,627.62 504.80,626.60 C507.55,625.58 510.50,623.57 513.00,623.80 C515.50,624.03 517.75,625.72 519.80,628.00 C521.85,630.28 523.23,633.85 525.30,637.50 C527.37,641.15 530.15,646.70 532.20,649.90 C534.25,653.10 535.55,654.88 537.60,656.70 C539.65,658.52 543.35,660.12 544.50,660.80" fill="none" stroke="#22e622" stroke-width="2.6" stroke-linejoin="round"/>
<path d="M462.30,660.80 C464.35,660.22 470.72,658.20 474.60,657.30 C478.48,656.40 482.40,656.18 485.60,655.40 C488.80,654.62 491.07,653.98 493.80,652.60 C496.53,651.22 499.27,649.62 502.00,647.10 C504.73,644.58 507.92,641.38 510.20,637.50 C512.48,633.62 513.87,629.28 515.70,623.80 C517.53,618.32 519.60,609.85 521.20,604.60 C522.80,599.35 524.25,594.58 525.30,592.30 C526.35,590.02 526.72,590.22 527.50,590.90 C528.28,591.58 528.77,591.82 530.00,596.40 C531.23,600.98 533.17,612.00 534.90,618.40 C536.63,624.80 538.57,630.70 540.40,634.80 C542.23,638.90 543.62,640.72 545.90,643.00 C548.18,645.28 551.37,647.22 554.10,648.50 C556.83,649.78 560.25,650.02 562.30,650.70 C564.35,651.38 564.80,651.60 566.40,652.60 C568.00,653.60 569.83,655.47 571.90,656.70 C573.97,657.93 576.52,659.32 578.80,660.00 C581.08,660.68 584.47,660.67 585.60,660.80" fill="none" stroke="#1a1ae6" stroke-width="2.6" stroke-linejoin="round"/>
</g>
<rect x="428.60" y="496.70" width="163.70" height="163.70" fill="none" stroke="#000" stroke-width="2.5" />
<line x1="428.60" y1="495.50" x2="428.60" y2="488.00" stroke="#000" stroke-width="1.2"/>
<line x1="428.60" y1="661.60" x2="428.60" y2="668.70" stroke="#000" stroke-width="1.2"/>
<text x="428.60" y="684.90" font-size="13.2" font-family="Liberation Sans, sans-serif" text-anchor="middle" >−20</text>
<line x1="461.34" y1="495.50" x2="461.34" y2="488.00" stroke="#000" stroke-width="1.2"/>
<line x1="461.34" y1="661.60" x2="461.34" y2="668.70" stroke="#000" stroke-width="1.2"/>
<text x="461.34" y="684.90" font-size="13.2" font-family="Liberation Sans, sans-serif" text-anchor="middle" >−10</text>
<line x1="494.08" y1="495.50" x2="494.08" y2="488.00" stroke="#000" stroke-width="1.2"/>
<line x1="494.08" y1="661.60" x2="494.08" y2="668.70" stroke="#000" stroke-width="1.2"/>
<text x="494.08" y="684.90" font-size="13.2" font-family="Liberation Sans, sans-serif" text-anchor="middle" >0</text>
<line x1="526.82" y1="495.50" x2="526.82" y2="488.00" stroke="#000" stroke-width="1.2"/>
<line x1="526.82" y1="661.60" x2="526.82" y2="668.70" stroke="#000" stroke-width="1.2"/>
<text x="526.82" y="684.90" font-size="13.2" font-family="Liberation Sans, sans-serif" text-anchor="middle" >10</text>
<line x1="559.56" y1="495.50" x2="559.56" y2="488.00" stroke="#000" stroke-width="1.2"/>
<line x1="559.56" y1="661.60" x2="559.56" y2="668.70" stroke="#000" stroke-width="1.2"/>
<text x="559.56" y="684.90" font-size="13.2" font-family="Liberation Sans, sans-serif" text-anchor="middle" >20</text>
<line x1="592.30" y1="495.50" x2="592.30" y2="488.00" stroke="#000" stroke-width="1.2"/>
<line x1="592.30" y1="661.60" x2="592.30" y2="668.70" stroke="#000" stroke-width="1.2"/>
<text x="592.30" y="684.90" font-size="13.2" font-family="Liberation Sans, sans-serif" text-anchor="middle" >30</text>
<line x1="427.40" y1="660.40" x2="419.40" y2="660.40" stroke="#000" stroke-width="1.2"/>
<line x1="593.50" y1="660.40" x2="600.50" y2="660.40" stroke="#000" stroke-width="1.2"/>
<line x1="427.40" y1="627.66" x2="419.40" y2="627.66" stroke="#000" stroke-width="1.2"/>
<line x1="593.50" y1="627.66" x2="600.50" y2="627.66" stroke="#000" stroke-width="1.2"/>
<line x1="427.40" y1="594.92" x2="419.40" y2="594.92" stroke="#000" stroke-width="1.2"/>
<line x1="593.50" y1="594.92" x2="600.50" y2="594.92" stroke="#000" stroke-width="1.2"/>
<line x1="427.40" y1="562.18" x2="419.40" y2="562.18" stroke="#000" stroke-width="1.2"/>
<line x1="593.50" y1="562.18" x2="600.50" y2="562.18" stroke="#000" stroke-width="1.2"/>
<line x1="427.40" y1="529.44" x2="419.40" y2="529.44" stroke="#000" stroke-width="1.2"/>
<line x1="593.50" y1="529.44" x2="600.50" y2="529.44" stroke="#000" stroke-width="1.2"/>
<line x1="427.40" y1="496.70" x2="419.40" y2="496.70" stroke="#000" stroke-width="1.2"/>
<line x1="593.50" y1="496.70" x2="600.50" y2="496.70" stroke="#000" stroke-width="1.2"/>
<text x="510.45" y="703.80" font-size="16.4" font-family="Liberation Sans, sans-serif" text-anchor="middle" >Change (%)</text>
<text x="433.00" y="506.90" font-size="9.9" font-family="Liberation Serif, serif" font-weight="bold" text-anchor="start" >median (p−value &lt;0.001)</text>
<text x="433.00" y="516.20" font-size="9.9" font-family="Liberation Serif, serif" font-weight="bold" text-anchor="start" >distribution (p−value &lt;0.001)</text>
<text x="587.50" y="516.20" font-size="9.9" font-family="Liberation Serif, serif" font-weight="bold" text-anchor="end" >(i)</text>
<text x="44.80" y="665.00" font-size="13.2" font-family="Liberation Sans, sans-serif" text-anchor="end" >0.00</text>
<text x="44.80" y="632.26" font-size="13.2" font-family="Liberation Sans, sans-serif" text-anchor="end" >0.05</text>
<text x="44.80" y="599.52" font-size="13.2" font-family="Liberation Sans, sans-serif" text-anchor="end" >0.10</text>
<text x="44.80" y="566.78" font-size="13.2" font-family="Liberation Sans, sans-serif" text-anchor="end" >0.15</text>
<text x="44.80" y="534.04" font-size="13.2" font-family="Liberation Sans, sans-serif" text-anchor="end" >0.20</text>
<text x="44.80" y="501.30" font-size="13.2" font-family="Liberation Sans, sans-serif" text-anchor="end" >0.25</text>
<text x="95.10" y="582.60" font-size="9.8" font-family="Liberation Serif, serif" font-weight="bold" text-anchor="start" >BEST</text>
<text x="148.50" y="589.60" font-size="9.9" font-family="Liberation Serif, serif" font-weight="bold" text-anchor="start" >ALL</text>
<text x="0.00" y="0.00" font-size="16.3" font-family="Liberation Sans, sans-serif" text-anchor="middle" transform="translate(13.2,578.3) rotate(-90)">Frequency</text>
<line x1="154.9" y1="832.26" x2="529.4" y2="832.26" stroke="#000" stroke-width="1.6"/>
<rect x="167.10" y="830.95" width="16.50" height="1.31" fill="#0000f5" stroke="none" stroke-width="0" />
<rect x="186.20" y="832.26" width="16.80" height="3.27" fill="#1ef01e" stroke="none" stroke-width="0" />
<line x1="175.00" y1="822.30" x2="175.00" y2="840.10" stroke="#333" stroke-width="1.1"/>
<line x1="171.00" y1="822.30" x2="179.00" y2="822.30" stroke="#333" stroke-width="1.1"/>
<line x1="171.00" y1="840.10" x2="179.00" y2="840.10" stroke="#333" stroke-width="1.1"/>
<line x1="195.50" y1="829.80" x2="195.50" y2="842.30" stroke="#333" stroke-width="1.1"/>
<line x1="191.50" y1="829.80" x2="199.50" y2="829.80" stroke="#333" stroke-width="1.1"/>
<line x1="191.50" y1="842.30" x2="199.50" y2="842.30" stroke="#333" stroke-width="1.1"/>
<rect x="245.50" y="822.12" width="16.40" height="10.14" fill="#0000f5" stroke="none" stroke-width="0" />
<rect x="264.60" y="832.10" width="16.40" height="0.16" fill="#1ef01e" stroke="none" stroke-width="0" />
<line x1="254.00" y1="802.50" x2="254.00" y2="842.00" stroke="#333" stroke-width="1.1"/>
<line x1="250.00" y1="802.50" x2="258.00" y2="802.50" stroke="#333" stroke-width="1.1"/>
<line x1="250.00" y1="842.00" x2="258.00" y2="842.00" stroke="#333" stroke-width="1.1"/>
<line x1="273.20" y1="823.60" x2="273.20" y2="842.00" stroke="#333" stroke-width="1.1"/>
<line x1="269.20" y1="823.60" x2="277.20" y2="823.60" stroke="#333" stroke-width="1.1"/>
<line x1="269.20" y1="842.00" x2="277.20" y2="842.00" stroke="#333" stroke-width="1.1"/>
<rect x="324.60" y="817.21" width="16.10" height="15.05" fill="#0000f5" stroke="none" stroke-width="0" />
<rect x="343.80" y="827.35" width="16.70" height="4.91" fill="#1ef01e" stroke="none" stroke-width="0" />
<line x1="332.50" y1="799.90" x2="332.50" y2="834.90" stroke="#333" stroke-width="1.1"/>
<line x1="328.50" y1="799.90" x2="336.50" y2="799.90" stroke="#333" stroke-width="1.1"/>
<line x1="328.50" y1="834.90" x2="336.50" y2="834.90" stroke="#333" stroke-width="1.1"/>
<line x1="352.00" y1="818.80" x2="352.00" y2="836.40" stroke="#333" stroke-width="1.1"/>
<line x1="348.00" y1="818.80" x2="356.00" y2="818.80" stroke="#333" stroke-width="1.1"/>
<line x1="348.00" y1="836.40" x2="356.00" y2="836.40" stroke="#333" stroke-width="1.1"/>
<rect x="403.30" y="812.96" width="16.40" height="19.30" fill="#0000f5" stroke="none" stroke-width="0" />
<rect x="423.00" y="823.43" width="16.40" height="8.83" fill="#1ef01e" stroke="none" stroke-width="0" />
<line x1="411.70" y1="788.30" x2="411.70" y2="838.00" stroke="#333" stroke-width="1.1"/>
<line x1="407.70" y1="788.30" x2="415.70" y2="788.30" stroke="#333" stroke-width="1.1"/>
<line x1="407.70" y1="838.00" x2="415.70" y2="838.00" stroke="#333" stroke-width="1.1"/>
<line x1="431.20" y1="808.40" x2="431.20" y2="837.80" stroke="#333" stroke-width="1.1"/>
<line x1="427.20" y1="808.40" x2="435.20" y2="808.40" stroke="#333" stroke-width="1.1"/>
<line x1="427.20" y1="837.80" x2="435.20" y2="837.80" stroke="#333" stroke-width="1.1"/>
<rect x="481.80" y="799.54" width="16.40" height="32.72" fill="#0000f5" stroke="none" stroke-width="0" />
<rect x="501.50" y="828.99" width="17.00" height="3.27" fill="#1ef01e" stroke="none" stroke-width="0" />
<line x1="490.00" y1="763.80" x2="490.00" y2="835.80" stroke="#333" stroke-width="1.1"/>
<line x1="486.00" y1="763.80" x2="494.00" y2="763.80" stroke="#333" stroke-width="1.1"/>
<line x1="486.00" y1="835.80" x2="494.00" y2="835.80" stroke="#333" stroke-width="1.1"/>
<line x1="510.00" y1="808.10" x2="510.00" y2="850.50" stroke="#333" stroke-width="1.1"/>
<line x1="506.00" y1="808.10" x2="514.00" y2="808.10" stroke="#333" stroke-width="1.1"/>
<line x1="506.00" y1="850.50" x2="514.00" y2="850.50" stroke="#333" stroke-width="1.1"/>
<rect x="154.90" y="734.10" width="374.50" height="163.60" fill="none" stroke="#000" stroke-width="2.8" />
<line x1="153.60" y1="734.10" x2="147.10" y2="734.10" stroke="#000" stroke-width="1.3"/>
<line x1="530.70" y1="734.10" x2="538.30" y2="734.10" stroke="#000" stroke-width="1.3"/>
<text x="140.60" y="738.70" font-size="13.2" font-family="Liberation Sans, sans-serif" text-anchor="end" >30</text>
<line x1="153.60" y1="766.82" x2="147.10" y2="766.82" stroke="#000" stroke-width="1.3"/>
<line x1="530.70" y1="766.82" x2="538.30" y2="766.82" stroke="#000" stroke-width="1.3"/>
<text x="140.60" y="771.42" font-size="13.2" font-family="Liberation Sans, sans-serif" text-anchor="end" >20</text>
<line x1="153.60" y1="799.54" x2="147.10" y2="799.54" stroke="#000" stroke-width="1.3"/>
<line x1="530.70" y1="799.54" x2="538.30" y2="799.54" stroke="#000" stroke-width="1.3"/>
<text x="140.60" y="804.14" font-size="13.2" font-family="Liberation Sans, sans-serif" text-anchor="end" >10</text>
<line x1="153.60" y1="832.26" x2="147.10" y2="832.26" stroke="#000" stroke-width="1.3"/>
<line x1="530.70" y1="832.26" x2="538.30" y2="832.26" stroke="#000" stroke-width="1.3"/>
<text x="140.60" y="836.86" font-size="13.2" font-family="Liberation Sans, sans-serif" text-anchor="end" >0</text>
<line x1="153.60" y1="864.98" x2="147.10" y2="864.98" stroke="#000" stroke-width="1.3"/>
<line x1="530.70" y1="864.98" x2="538.30" y2="864.98" stroke="#000" stroke-width="1.3"/>
<text x="140.60" y="869.58" font-size="13.2" font-family="Liberation Sans, sans-serif" text-anchor="end" >−10</text>
<line x1="153.60" y1="897.70" x2="147.10" y2="897.70" stroke="#000" stroke-width="1.3"/>
<line x1="530.70" y1="897.70" x2="538.30" y2="897.70" stroke="#000" stroke-width="1.3"/>
<text x="140.60" y="902.30" font-size="13.2" font-family="Liberation Sans, sans-serif" text-anchor="end" >−20</text>
<line x1="154.90" y1="899.00" x2="154.90" y2="906.00" stroke="#000" stroke-width="1.3"/>
<text x="192.70" y="913.60" font-size="14.4" font-family="Liberation Serif, serif" font-weight="bold" text-anchor="middle" >0.5</text>
<text x="262.80" y="913.60" font-size="14.4" font-family="Liberation Serif, serif" font-weight="bold" text-anchor="middle" >1.0</text>
<text x="337.40" y="913.60" font-size="14.4" font-family="Liberation Serif, serif" font-weight="bold" text-anchor="middle" >1.5</text>
<text x="419.50" y="913.60" font-size="14.4" font-family="Liberation Serif, serif" font-weight="bold" text-anchor="middle" >2.0</text>
<text x="497.70" y="913.60" font-size="14.4" font-family="Liberation Serif, serif" font-weight="bold" text-anchor="middle" >2.5</text>
<rect x="161.20" y="747.40" width="21.30" height="10.30" fill="#0000f5" stroke="none" stroke-width="0" />
<rect x="161.20" y="770.50" width="21.30" height="10.10" fill="#1ef01e" stroke="none" stroke-width="0" />
<text x="191.80" y="757.20" font-size="12.8" font-family="Liberation Serif, serif" font-weight="bold" text-anchor="start" >ALL</text>
<text x="188.30" y="779.10" font-size="12.8" font-family="Liberation Serif, serif" font-weight="bold" text-anchor="start" >BEST</text>
<text x="370.40" y="751.80" font-size="12.6" font-family="Liberation Serif, serif" font-weight="bold" text-anchor="start" >(j)</text>
<text x="0.00" y="0.00" font-size="16.3" font-family="Liberation Sans, sans-serif" text-anchor="middle" transform="translate(111.6,817) rotate(-90)">Change in P (%)</text>
</svg></body></html>
